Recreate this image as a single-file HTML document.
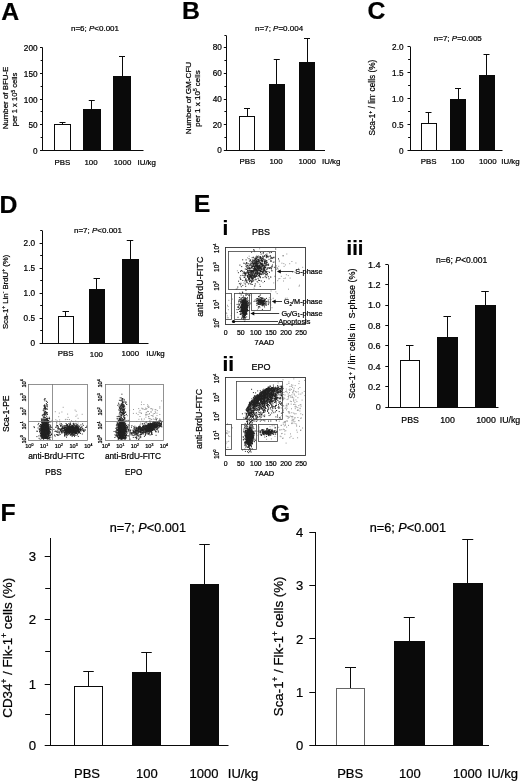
<!DOCTYPE html>
<html><head><meta charset="utf-8"><title>Figure</title>
<style>html,body{margin:0;padding:0;background:#fff}svg{display:block;will-change:transform}text{font-family:"Liberation Sans",sans-serif;fill:#000;stroke:#000;stroke-width:.22px}</style>
</head><body>
<svg width="520" height="782" viewBox="0 0 520 782">
<rect width="520" height="782" fill="#fff"/>
<g><path stroke="#999" stroke-width="1" fill="none" d="M76.9 426.1h1M41.0 421.7h1M81.7 414.3h1M51.5 420.4h1M71.0 420.7h1M58.2 416.7h1M69.8 422.7h1M62.7 407.3h1M77.6 418.3h1M67.1 414.1h1M74.6 410.1h1M69.0 419.6h1M70.7 425.5h1M67.2 419.5h1M75.7 411.3h1M65.4 419.3h1M76.6 415.0h1M75.2 420.9h1M54.8 411.7h1M55.3 419.7h1M69.9 422.6h1M75.4 416.3h1M77.6 423.1h1M72.3 421.4h1M56.6 420.8h1M58.8 413.1h1M64.9 419.7h1M67.6 417.4h1M59.1 419.9h1M61.4 412.0h1M159.2 423.4h1M133.0 409.5h1M144.7 422.6h1M145.0 426.1h1M150.5 423.4h1M140.9 413.2h1M155.6 418.3h1M132.9 413.4h1M149.0 418.7h1M142.6 425.2h1M148.8 423.5h1M150.8 415.5h1M145.1 408.2h1M154.4 419.4h1M155.0 412.8h1M139.7 412.8h1M145.2 414.9h1M155.4 409.7h1M143.8 419.0h1M154.7 427.9h1M151.8 410.1h1M139.5 410.4h1M148.2 416.5h1M147.1 411.4h1M146.2 414.6h1M152.3 415.5h1M141.3 408.2h1M159.3 414.5h1M146.3 414.9h1M156.5 413.2h1M149.0 413.6h1M152.2 409.1h1M149.2 421.0h1M156.9 418.6h1M150.0 424.2h1M153.2 423.1h1M138.2 408.6h1M153.9 413.5h1M144.3 409.5h1M159.3 408.1h1M148.5 406.9h1M146.3 428.1h1M139.7 424.5h1M140.9 404.6h1M150.4 408.7h1M136.3 421.5h1M141.9 408.8h1M149.0 413.9h1M156.5 415.6h1M160.1 421.6h1M161.6 421.5h1M148.2 418.2h1M147.8 406.0h1M138.4 419.3h1M129.1 410.2h1M137.6 414.6h1M139.5 416.5h1M146.1 412.3h1M141.0 402.1h1M148.2 407.5h1M145.4 417.2h1M155.9 419.1h1M159.3 406.8h1M153.0 424.1h1M150.8 408.6h1M150.8 412.0h1M142.6 421.2h1M146.3 408.5h1M142.4 426.4h1M141.1 418.9h1M149.1 421.8h1M145.5 409.5h1M142.7 409.0h1M145.2 422.3h1M152.8 414.0h1M152.5 416.6h1M156.5 424.6h1M145.2 414.8h1M146.3 422.1h1M150.7 419.6h1M154.7 411.3h1M148.7 423.1h1M154.9 419.7h1M145.5 412.9h1M141.0 413.4h1M147.2 406.7h1M156.8 410.6h1M149.6 418.5h1M143.4 404.5h1M155.2 417.4h1M145.7 421.6h1M154.7 409.5h1M147.1 404.8h1M145.6 423.2h1M141.1 419.8h1M135.9 413.3h1M155.0 425.0h1M151.2 419.4h1M161.1 400.9h1M134.3 426.0h1M148.2 416.5h1M147.9 411.5h1M147.6 414.3h1M152.9 419.0h1M155.3 418.4h1M140.1 423.1h1M126.8 415.7h1M150.3 411.9h1M138.6 412.1h1M150.9 419.6h1M277.7 269.1h1M264.1 256.3h1M239.9 278.4h1M267.6 267.8h1M257.5 282.6h1M249.2 282.3h1M265.8 261.1h1M258.8 270.2h1M263.3 258.6h1M255.2 271.0h1M257.8 269.6h1M260.0 266.9h1M252.6 280.7h1M251.2 268.4h1M248.9 261.3h1M262.0 267.8h1M256.2 274.2h1M255.8 276.4h1M275.4 267.4h1M254.9 285.9h1M264.5 251.7h1M270.7 267.5h1M265.9 256.1h1M249.2 265.9h1M263.0 257.3h1M250.6 280.6h1M251.2 272.5h1M248.7 256.2h1M256.7 268.6h1M243.4 282.9h1M265.6 275.4h1M252.5 260.2h1M256.7 271.3h1M255.8 264.5h1M247.7 265.5h1M256.7 265.2h1M273.9 262.0h1M262.0 263.8h1M255.7 260.9h1M252.8 256.9h1M237.1 288.2h1M247.2 276.7h1M256.3 264.5h1M264.7 262.1h1M261.8 264.8h1M267.1 275.6h1M258.2 279.6h1M262.5 282.6h1M256.3 255.4h1M259.6 271.1h1M254.0 268.6h1M254.9 258.6h1M274.4 257.2h1M247.0 257.8h1M249.3 271.6h1M272.0 270.8h1M250.4 260.0h1M246.6 272.0h1M266.0 262.4h1M273.2 282.9h1M259.1 248.8h1M268.2 265.4h1M264.1 276.8h1M247.7 273.0h1M259.3 261.9h1M264.3 266.2h1M253.6 288.2h1M259.2 284.3h1M256.0 279.6h1M250.2 273.1h1M262.8 265.4h1M268.2 268.0h1M256.8 257.7h1M286.3 254.0h1M254.4 263.7h1M254.6 272.4h1M244.4 283.3h1M255.0 275.9h1M236.9 270.8h1M254.6 266.7h1M261.7 303.6h1M268.0 300.8h1M270.6 291.0h1M271.5 307.7h1M270.0 303.4h1M263.0 298.2h1M268.8 297.6h1M257.1 302.6h1M262.7 304.0h1M255.1 301.1h1M264.1 307.6h1M265.6 304.3h1M260.0 300.2h1M258.6 302.2h1M264.3 300.4h1M272.7 298.3h1M265.9 301.7h1M260.7 300.9h1M269.9 301.3h1M264.5 303.1h1M265.6 305.1h1M270.5 299.4h1M256.9 309.8h1M268.4 302.9h1M259.9 303.6h1M268.6 299.3h1M269.4 302.3h1M259.5 300.9h1M250.0 303.9h1M254.2 300.2h1M256.5 303.6h1M265.4 302.7h1M262.5 304.3h1M270.3 305.0h1M270.1 302.3h1M263.4 299.8h1M264.7 298.9h1M264.0 299.9h1M259.5 307.7h1M262.3 305.9h1M260.1 294.6h1M269.5 301.8h1M257.9 306.6h1M255.2 299.4h1M267.7 299.6h1M267.6 301.3h1M260.3 302.9h1M258.7 307.1h1M267.5 302.9h1M264.8 304.9h1M231.9 299.1h1M230.6 315.6h1M227.9 309.7h1M227.8 317.8h1M226.2 313.6h1M231.1 313.4h1M227.6 306.6h1M230.7 303.4h1M225.2 308.0h1M225.5 312.6h1M226.8 315.9h1M228.3 300.3h1M227.0 305.3h1M226.8 317.8h1M274.4 276.2h1M278.2 278.9h1M270.6 252.5h1M288.0 289.2h1M271.0 267.9h1M278.8 260.3h1M292.1 272.3h1M271.0 269.1h1M295.4 263.0h1M278.8 261.6h1M284.9 264.9h1M291.4 261.5h1M270.3 277.2h1M254.9 260.1h1M285.9 274.7h1M278.2 266.3h1M288.1 317.3h1M276.2 269.5h1M279.3 278.5h1M283.5 278.5h1M298.1 268.4h1M280.8 276.3h1M302.2 267.3h1M298.6 286.2h1M258.8 259.6h1M274.6 276.6h1M295.3 272.4h1M284.9 298.3h1M286.6 298.1h1M275.4 291.9h1M276.0 265.9h1M283.0 281.0h1M289.6 278.1h1M276.7 293.6h1M294.2 272.2h1M278.3 271.1h1M281.4 263.2h1M283.3 263.6h1M289.2 263.7h1M287.8 275.6h1M284.9 278.1h1M274.2 303.3h1M277.2 280.7h1M283.6 266.4h1M299.0 285.2h1M271.7 425.8h1M267.9 430.8h1M267.6 435.1h1M270.9 438.9h1M273.3 433.9h1M271.5 433.9h1M270.9 430.9h1M281.1 433.7h1M267.8 434.9h1M274.5 436.4h1M275.2 434.4h1M269.3 431.6h1M266.1 432.5h1M281.6 433.4h1M274.0 432.1h1M271.6 431.4h1M259.4 434.1h1M252.7 427.3h1M256.5 435.3h1M269.1 435.6h1M276.9 431.6h1M258.7 427.1h1M280.7 425.4h1M276.1 432.3h1M275.7 430.2h1M270.2 434.7h1M274.5 427.4h1M266.2 433.4h1M268.9 434.7h1M267.2 431.8h1M260.3 430.5h1M269.5 426.7h1M269.8 429.3h1M271.9 429.3h1M264.2 436.2h1M279.7 436.2h1M273.7 425.8h1M267.4 433.9h1M271.3 434.4h1M266.0 429.5h1M258.5 429.0h1M278.2 427.3h1M264.3 437.4h1M279.2 429.9h1M277.0 434.2h1M268.3 431.8h1M266.1 439.3h1M254.0 433.3h1M274.3 428.1h1M265.2 431.1h1M227.4 432.0h1M225.8 433.6h1M227.0 423.9h1M231.8 427.8h1M228.7 431.9h1M228.0 435.9h1M227.2 433.7h1M229.3 436.4h1M228.2 441.3h1M225.3 443.1h1M226.5 430.7h1M226.5 441.9h1M225.7 449.5h1M225.4 443.7h1M226.0 432.8h1M227.4 447.4h1M293.2 413.1h1M301.7 392.9h1M289.0 392.6h1M287.7 396.5h1M294.4 421.4h1M293.6 404.3h1M289.4 390.5h1M287.6 418.3h1M299.4 387.5h1M300.3 418.5h1M278.2 392.6h1M297.3 409.8h1M297.3 407.6h1M285.7 405.4h1M286.5 420.5h1M300.3 394.1h1M281.2 408.0h1M285.8 389.0h1M292.4 419.6h1M291.4 394.9h1M285.1 391.6h1M283.5 392.4h1M303.8 391.4h1M298.1 420.5h1M291.0 384.9h1M286.5 405.9h1M287.8 411.7h1M296.1 426.1h1M277.6 382.9h1M275.9 398.8h1M295.4 399.9h1M283.6 398.0h1M298.3 394.1h1M292.9 391.1h1M288.5 412.9h1M288.4 395.4h1M293.3 404.5h1M299.0 426.3h1M295.9 392.1h1M286.2 405.8h1M288.1 397.8h1M300.6 406.2h1M304.4 395.6h1M290.1 397.0h1M286.0 409.8h1M301.6 400.1h1M290.9 386.3h1M292.4 392.9h1M289.5 389.0h1M293.1 400.1h1M293.0 421.0h1M294.9 391.6h1M294.7 385.6h1M287.9 404.4h1M289.2 413.0h1M293.3 401.2h1M289.6 395.5h1M295.5 413.7h1M282.7 412.2h1M291.8 423.0h1M298.3 405.6h1M291.0 408.8h1M286.6 399.6h1M291.3 412.7h1M293.6 388.2h1M288.4 381.9h1M289.4 386.4h1M284.3 431.1h1M295.2 404.9h1M297.8 410.2h1M304.1 380.4h1M293.3 419.4h1M288.3 416.8h1M295.4 396.2h1M289.9 401.2h1M296.9 410.5h1M290.9 401.6h1M293.1 399.9h1M293.3 390.1h1M285.0 421.4h1M299.7 404.8h1M298.6 420.8h1M292.1 392.2h1M293.7 394.0h1M294.8 408.7h1M279.6 418.3h1M291.2 416.5h1M280.2 395.6h1M294.2 413.9h1M302.1 428.0h1M292.3 385.2h1M287.2 416.3h1M288.6 411.8h1M291.6 397.0h1M295.8 406.9h1M296.4 401.6h1M286.6 408.3h1M282.8 405.6h1M297.1 437.8h1M286.5 384.4h1M288.5 417.5h1M285.7 415.9h1M284.5 395.0h1M291.4 423.6h1M296.2 430.1h1M278.3 406.8h1M294.4 402.6h1M299.6 408.2h1M299.4 411.0h1M294.5 406.7h1M282.5 379.7h1M291.9 397.1h1M277.7 394.0h1M296.8 432.2h1M298.7 381.3h1M287.7 394.0h1M295.3 406.8h1M292.0 387.3h1M297.9 388.8h1M291.7 397.6h1M297.4 397.7h1M288.3 411.9h1M283.2 406.0h1M291.6 420.2h1M287.9 403.5h1M293.9 395.0h1M288.1 396.4h1M293.2 390.9h1M288.6 389.6h1M286.0 391.1h1M282.6 409.2h1M293.2 398.0h1M299.6 408.7h1M293.3 378.9h1M290.9 389.4h1M284.3 398.7h1M300.3 413.8h1M300.3 404.6h1M285.5 407.3h1M298.4 383.6h1M286.6 392.3h1M288.4 383.5h1M292.3 416.7h1M300.3 430.0h1M284.7 408.5h1M297.7 391.8h1M290.7 404.1h1M286.4 404.1h1M283.1 394.6h1M287.6 399.0h1M294.7 417.8h1M290.5 436.3h1M283.8 425.9h1M278.8 421.2h1M278.1 419.3h1M280.5 436.7h1M288.0 425.4h1M286.6 421.5h1M282.8 422.8h1M282.9 429.2h1M282.8 424.3h1M280.2 418.3h1M285.6 443.1h1M284.8 425.0h1M293.6 423.1h1M275.7 420.3h1M291.7 416.4h1M300.7 417.8h1M295.4 423.7h1M283.8 429.6h1M279.9 417.0h1M284.8 423.0h1M285.3 430.7h1M286.7 416.6h1M282.7 410.5h1M281.3 415.7h1M284.3 434.2h1M293.9 418.0h1M282.6 438.1h1M279.6 429.9h1M281.3 429.7h1M291.6 417.9h1M297.4 417.5h1M300.1 430.5h1M291.2 423.2h1M289.8 416.1h1M283.8 421.8h1M291.6 420.9h1M284.9 425.0h1M292.6 438.4h1M282.1 438.4h1M290.0 433.9h1M276.8 427.8h1M296.1 425.0h1M280.8 425.3h1M284.1 422.0h1M286.1 427.1h1M284.5 422.3h1M302.1 414.7h1M289.3 437.7h1"/><path stroke="#222" stroke-width="1" fill="none" d="M44.1 432.9h1M44.2 429.1h1M42.8 429.5h1M46.9 432.5h1M46.7 431.6h1M45.4 431.4h1M41.3 434.4h1M45.7 432.8h1M41.3 422.5h1M42.9 428.3h1M45.3 430.3h1M45.7 427.5h1M45.3 432.3h1M43.3 438.4h1M45.8 436.0h1M43.4 427.1h1M44.0 430.0h1M45.9 431.6h1M43.8 426.1h1M43.6 436.1h1M43.0 431.6h1M45.5 423.6h1M44.7 436.5h1M40.6 429.0h1M44.4 426.7h1M45.6 430.2h1M41.7 434.3h1M46.0 434.9h1M47.5 432.2h1M44.9 424.5h1M45.9 427.7h1M43.7 424.7h1M42.7 428.1h1M47.2 421.2h1M41.7 431.6h1M47.5 433.2h1M40.9 418.9h1M45.4 427.1h1M42.4 435.0h1M46.9 431.2h1M45.1 432.5h1M47.8 433.3h1M45.7 433.0h1M41.5 436.4h1M46.6 432.9h1M40.7 427.6h1M46.3 422.2h1M44.3 435.2h1M42.0 437.9h1M45.8 429.8h1M45.3 433.5h1M44.9 435.8h1M43.3 428.6h1M46.7 430.6h1M42.9 434.9h1M47.6 428.5h1M41.9 429.9h1M44.4 429.1h1M47.5 425.8h1M47.2 424.7h1M43.1 433.4h1M46.9 434.5h1M45.3 431.2h1M45.0 433.1h1M44.3 431.8h1M45.8 430.5h1M46.2 433.1h1M48.7 432.0h1M43.8 428.8h1M44.6 434.7h1M44.0 432.3h1M48.3 418.7h1M42.4 431.6h1M45.4 431.6h1M43.8 433.5h1M45.2 428.1h1M49.5 432.1h1M43.5 430.0h1M44.2 430.2h1M39.2 428.3h1M46.7 425.1h1M44.5 434.9h1M46.4 437.4h1M41.2 428.9h1M44.0 433.4h1M46.8 418.2h1M46.8 423.8h1M46.0 423.6h1M45.0 436.0h1M44.4 431.4h1M46.2 431.2h1M44.5 437.6h1M46.7 429.1h1M50.1 425.2h1M46.5 429.3h1M44.9 433.7h1M45.1 433.4h1M41.6 423.6h1M45.9 426.1h1M42.6 423.7h1M47.2 433.9h1M47.6 426.2h1M44.7 425.3h1M46.2 437.8h1M42.9 437.7h1M46.6 429.7h1M40.7 437.0h1M44.5 427.7h1M45.4 432.4h1M47.6 425.8h1M46.9 437.3h1M47.6 429.7h1M43.2 435.2h1M44.9 431.1h1M47.5 429.3h1M40.1 428.7h1M40.9 434.3h1M45.3 427.7h1M44.6 434.3h1M44.8 436.6h1M44.5 435.3h1M47.6 437.9h1M43.3 434.5h1M40.9 425.5h1M40.7 435.4h1M42.2 430.4h1M44.3 430.4h1M43.5 431.6h1M48.2 430.7h1M45.7 435.1h1M44.3 424.7h1M43.5 435.4h1M41.4 427.7h1M46.7 434.1h1M44.7 434.2h1M45.0 425.1h1M41.5 427.6h1M46.5 427.9h1M42.8 427.0h1M41.6 430.0h1M42.3 432.2h1M39.9 432.0h1M43.4 421.6h1M46.1 429.2h1M40.2 426.5h1M45.2 428.4h1M46.2 433.9h1M46.0 432.0h1M47.3 433.5h1M45.6 420.9h1M46.4 436.5h1M44.1 428.3h1M48.5 422.4h1M42.8 433.7h1M48.4 429.9h1M45.8 434.7h1M42.8 430.1h1M45.2 434.3h1M44.6 429.6h1M42.6 428.8h1M46.4 431.0h1M42.9 426.6h1M50.0 435.7h1M45.9 418.6h1M45.9 432.7h1M48.0 432.5h1M44.5 432.9h1M40.8 435.3h1M45.3 427.3h1M47.3 438.8h1M41.8 427.4h1M45.2 431.3h1M43.9 426.0h1M48.9 435.3h1M42.3 424.3h1M48.1 435.1h1M48.3 434.2h1M42.9 431.7h1M40.3 427.1h1M44.5 432.9h1M43.2 429.9h1M45.6 432.2h1M45.9 431.5h1M44.0 434.1h1M44.7 426.7h1M43.4 430.5h1M44.4 431.2h1M44.6 431.3h1M44.4 424.7h1M45.5 435.3h1M45.5 429.6h1M45.5 426.1h1M40.9 430.8h1M42.8 433.9h1M42.5 418.4h1M42.6 437.8h1M43.9 424.2h1M43.1 432.9h1M45.6 431.3h1M47.6 433.7h1M44.6 433.2h1M48.0 435.0h1M46.7 425.5h1M44.4 433.9h1M44.1 435.4h1M45.8 434.7h1M47.1 429.5h1M44.0 434.5h1M46.6 430.5h1M42.3 431.4h1M45.4 435.7h1M46.2 430.6h1M46.4 433.0h1M45.1 430.8h1M44.2 433.7h1M42.5 427.6h1M44.7 423.8h1M43.8 421.3h1M43.3 433.1h1M45.8 430.2h1M44.2 424.0h1M48.3 432.9h1M46.8 426.4h1M44.3 422.1h1M46.2 434.8h1M40.9 430.3h1M45.9 422.4h1M41.0 425.6h1M43.4 424.0h1M44.7 431.6h1M45.9 433.7h1M47.7 435.9h1M42.0 428.2h1M42.5 425.5h1M44.5 430.5h1M45.6 423.2h1M42.2 430.4h1M44.3 429.1h1M44.5 427.0h1M46.1 432.1h1M44.5 427.4h1M44.3 418.0h1M42.7 430.7h1M41.6 431.4h1M44.9 424.2h1M44.1 429.1h1M45.6 433.3h1M44.6 426.6h1M44.4 430.2h1M46.1 431.9h1M43.2 424.3h1M43.9 427.1h1M42.4 430.0h1M43.7 431.0h1M45.7 428.6h1M49.3 429.0h1M46.9 431.1h1M46.9 419.6h1M43.1 431.6h1M45.3 436.4h1M46.2 434.9h1M45.7 429.8h1M45.7 425.5h1M47.0 425.8h1M44.2 430.6h1M47.0 430.6h1M43.0 431.7h1M45.8 433.8h1M43.1 438.6h1M48.0 430.6h1M45.2 428.5h1M47.5 427.3h1M46.0 428.3h1M43.3 433.8h1M47.3 430.5h1M43.3 434.2h1M44.6 431.9h1M47.7 435.7h1M44.7 434.1h1M43.4 430.3h1M41.2 438.7h1M47.4 424.9h1M41.6 423.0h1M47.0 428.4h1M44.5 429.1h1M44.4 425.5h1M44.7 423.9h1M44.5 431.9h1M45.6 429.4h1M42.8 431.2h1M43.7 437.7h1M46.2 430.0h1M43.7 427.3h1M42.8 428.9h1M45.2 432.9h1M43.2 430.6h1M50.2 421.9h1M43.6 431.3h1M45.0 432.4h1M44.2 432.2h1M44.8 434.0h1M40.9 426.4h1M44.6 425.8h1M42.6 433.4h1M43.4 433.4h1M46.1 431.9h1M45.7 430.0h1M41.8 430.4h1M45.6 428.1h1M44.5 433.9h1M42.9 433.4h1M48.4 427.9h1M44.9 429.8h1M47.7 432.0h1M46.4 427.3h1M44.6 430.5h1M41.1 437.1h1M46.4 422.5h1M46.1 429.9h1M45.5 432.2h1M41.7 429.5h1M47.6 427.9h1M42.6 424.2h1M42.2 432.0h1M48.0 432.5h1M43.6 427.4h1M45.7 433.0h1M42.6 425.1h1M45.2 431.6h1M42.0 429.6h1M43.6 432.6h1M44.4 430.1h1M43.9 435.3h1M47.4 428.8h1M46.3 427.0h1M44.8 433.9h1M47.7 428.7h1M44.5 431.4h1M41.7 430.6h1M43.3 432.2h1M42.4 421.4h1M44.7 431.7h1M43.6 434.6h1M44.1 427.7h1M45.6 423.3h1M43.3 430.4h1M46.3 429.8h1M45.3 427.5h1M45.3 438.2h1M43.4 430.6h1M45.0 435.2h1M42.2 420.8h1M45.9 434.2h1M45.1 431.7h1M46.5 432.2h1M48.0 424.8h1M43.9 414.7h1M46.3 428.8h1M44.6 429.3h1M43.7 426.6h1M43.4 433.4h1M44.7 430.8h1M44.3 434.7h1M45.6 429.8h1M46.0 429.8h1M42.3 437.2h1M45.6 426.1h1M46.8 432.1h1M41.5 437.9h1M45.3 434.6h1M45.0 429.8h1M41.6 435.0h1M44.7 429.2h1M45.4 430.9h1M46.0 428.8h1M44.6 420.7h1M43.8 433.6h1M47.3 428.8h1M44.4 437.8h1M44.0 433.9h1M48.0 430.7h1M47.1 427.2h1M45.1 430.1h1M44.9 435.7h1M49.4 427.4h1M43.5 432.8h1M42.5 432.8h1M45.8 429.2h1M45.7 423.4h1M46.2 423.4h1M43.3 427.9h1M43.8 434.5h1M44.8 428.7h1M45.7 437.8h1M44.7 432.2h1M47.1 431.7h1M49.1 421.4h1M44.6 432.4h1M46.6 433.6h1M44.1 425.7h1M44.9 435.3h1M42.5 425.8h1M44.6 421.6h1M44.1 428.5h1M45.6 427.3h1M42.9 428.7h1M44.6 427.4h1M44.7 434.0h1M47.0 438.3h1M43.1 428.6h1M39.7 439.2h1M43.2 430.3h1M45.7 424.3h1M45.6 430.4h1M41.0 431.8h1M47.0 421.9h1M46.3 431.5h1M45.6 432.5h1M47.3 429.5h1M46.4 428.6h1M46.1 426.8h1M44.4 438.5h1M45.5 429.8h1M42.4 426.9h1M45.0 434.8h1M45.5 432.9h1M44.6 436.7h1M43.9 428.0h1M46.4 430.8h1M44.1 427.8h1M44.1 433.4h1M45.4 424.9h1M45.5 431.3h1M42.6 434.1h1M44.1 429.0h1M46.2 436.6h1M43.3 432.5h1M43.7 436.0h1M43.4 434.2h1M49.1 418.8h1M43.8 432.8h1M44.5 427.4h1M49.0 430.9h1M41.4 434.4h1M41.2 435.8h1M43.5 431.2h1M47.2 431.0h1M41.9 422.7h1M47.0 433.9h1M43.0 434.5h1M45.6 433.5h1M40.1 429.1h1M46.5 433.9h1M46.4 419.2h1M45.0 432.8h1M49.8 426.1h1M44.0 430.7h1M46.4 428.5h1M46.9 426.9h1M45.2 428.1h1M45.0 427.3h1M41.5 435.5h1M45.3 427.9h1M45.1 435.1h1M42.7 430.0h1M45.7 432.9h1M44.0 420.8h1M47.1 432.0h1M44.7 429.2h1M45.2 428.5h1M42.6 427.1h1M43.5 427.7h1M42.3 433.4h1M42.0 433.5h1M42.6 432.1h1M47.4 431.4h1M43.2 430.7h1M44.9 422.5h1M43.4 431.2h1M43.7 430.9h1M46.1 434.0h1M46.5 433.2h1M44.1 430.4h1M44.1 429.1h1M44.3 422.6h1M44.0 430.4h1M42.7 430.4h1M45.7 429.7h1M48.8 418.5h1M44.2 422.1h1M39.6 431.1h1M45.7 429.1h1M45.8 420.2h1M46.4 432.2h1M44.7 427.8h1M45.9 428.3h1M45.1 428.2h1M40.2 430.4h1M45.1 434.0h1M42.9 430.3h1M45.9 431.2h1M42.8 421.7h1M46.4 437.5h1M46.5 434.2h1M43.4 427.2h1M46.4 426.3h1M41.0 425.9h1M49.6 439.3h1M43.3 427.1h1M45.1 427.1h1M47.3 430.1h1M42.5 436.5h1M43.5 431.5h1M44.6 429.1h1M45.3 427.3h1M41.0 420.3h1M42.1 427.0h1M44.6 430.8h1M45.8 431.1h1M43.1 427.2h1M40.4 429.7h1M45.6 432.9h1M44.4 429.7h1M46.5 430.6h1M46.1 433.2h1M45.1 436.5h1M43.5 428.8h1M43.0 426.8h1M47.8 438.6h1M44.7 433.1h1M47.0 434.2h1M47.1 424.7h1M43.4 432.6h1M47.5 431.0h1M42.9 428.9h1M43.3 426.6h1M47.7 427.6h1M47.0 432.0h1M43.4 432.4h1M47.9 433.4h1M47.2 431.0h1M45.7 429.6h1M45.5 436.5h1M41.8 430.2h1M45.1 427.9h1M44.0 434.1h1M48.7 433.4h1M45.3 423.4h1M48.5 430.9h1M44.6 425.4h1M44.5 425.5h1M44.8 432.6h1M44.7 431.8h1M42.9 437.1h1M43.3 422.1h1M44.3 427.0h1M42.6 428.9h1M45.2 425.1h1M44.4 437.1h1M46.0 429.8h1M44.9 429.9h1M44.6 433.9h1M44.5 419.4h1M44.6 426.4h1M46.0 427.7h1M42.6 425.3h1M41.8 419.5h1M40.9 432.2h1M43.4 421.9h1M41.7 433.3h1M43.1 428.8h1M45.3 436.7h1M48.5 435.2h1M44.9 431.3h1M48.3 437.1h1M44.0 432.6h1M45.2 430.7h1M43.6 424.4h1M43.6 423.4h1M47.1 433.0h1M42.2 436.9h1M46.4 421.7h1M48.3 434.2h1M48.8 424.8h1M45.7 432.4h1M45.1 431.3h1M46.8 423.6h1M42.2 424.1h1M43.5 427.7h1M45.4 431.7h1M44.7 427.4h1M43.8 434.9h1M46.2 431.0h1M44.0 437.6h1M43.5 433.5h1M47.0 429.3h1M46.3 425.4h1M46.7 431.4h1M41.5 433.6h1M42.9 436.4h1M43.3 429.7h1M45.2 429.0h1M45.2 428.0h1M46.0 430.5h1M45.1 417.8h1M47.0 430.6h1M41.1 430.9h1M45.6 435.4h1M42.5 437.6h1M44.4 433.6h1M43.9 425.4h1M46.8 434.7h1M47.7 434.4h1M43.5 422.9h1M43.3 427.4h1M43.0 433.2h1M45.3 429.3h1M45.0 429.8h1M45.1 434.0h1M46.6 427.3h1M41.6 437.1h1M44.9 435.6h1M41.4 429.0h1M44.7 423.9h1M43.6 433.8h1M46.8 437.8h1M42.9 424.1h1M45.7 434.8h1M45.0 424.5h1M46.2 434.1h1M45.8 428.3h1M45.3 434.1h1M43.5 422.0h1M45.3 432.7h1M44.7 434.6h1M43.5 430.1h1M44.0 433.1h1M47.8 429.3h1M48.8 437.5h1M46.2 433.2h1M48.2 429.7h1M44.4 425.6h1M45.6 436.7h1M45.7 432.4h1M44.2 431.3h1M41.8 435.3h1M43.8 425.4h1M43.1 426.7h1M46.4 435.4h1M41.9 434.8h1M46.4 427.8h1M41.7 427.1h1M43.4 432.1h1M43.9 421.2h1M45.1 423.4h1M46.5 424.9h1M43.3 426.6h1M43.6 436.5h1M46.4 433.3h1M45.3 423.4h1M43.6 428.0h1M42.7 432.8h1M43.2 427.2h1M42.6 421.0h1M45.8 436.6h1M45.0 426.0h1M39.2 431.3h1M47.1 431.9h1M46.5 437.3h1M46.9 428.5h1M46.8 434.1h1M41.6 428.6h1M41.8 430.0h1M45.8 425.6h1M40.5 436.5h1M45.4 437.3h1M42.0 435.4h1M44.2 431.7h1M44.3 435.1h1M46.7 430.9h1M41.9 433.9h1M43.7 433.4h1M45.2 438.0h1M46.9 428.4h1M45.3 438.6h1M43.6 432.5h1M47.0 436.3h1M45.7 424.4h1M42.1 431.6h1M42.9 435.7h1M46.2 422.8h1M43.0 431.3h1M43.7 429.8h1M45.6 426.8h1M45.6 427.6h1M43.6 433.0h1M43.5 431.8h1M47.8 430.6h1M44.4 433.9h1M43.9 435.5h1M42.1 433.3h1M43.6 426.8h1M48.2 426.6h1M48.2 433.5h1M47.6 426.0h1M47.0 437.2h1M44.4 429.9h1M49.6 431.3h1M43.8 427.6h1M45.5 432.0h1M45.0 438.4h1M44.0 432.7h1M47.6 425.9h1M46.7 438.9h1M41.9 425.5h1M42.6 422.0h1M45.6 422.0h1M45.6 437.2h1M41.4 429.0h1M40.8 434.1h1M43.2 429.3h1M44.8 433.0h1M44.0 430.6h1M43.6 431.0h1M42.3 430.8h1M40.8 428.2h1M48.5 430.9h1M42.1 431.7h1M42.7 422.9h1M43.2 433.9h1M45.4 430.1h1M42.8 425.5h1M47.3 431.6h1M42.7 420.8h1M42.4 430.1h1M45.1 429.8h1M44.1 424.2h1M42.5 438.3h1M43.1 434.4h1M41.3 429.2h1M45.2 435.3h1M42.4 433.2h1M45.4 427.1h1M45.6 426.4h1M43.1 430.4h1M39.2 430.0h1M42.6 423.8h1M43.8 434.0h1M43.8 436.3h1M42.3 424.5h1M47.8 432.3h1M46.5 426.7h1M46.3 431.7h1M45.9 430.6h1M47.1 427.5h1M42.7 423.7h1M47.0 427.1h1M42.6 426.2h1M43.8 424.7h1M44.1 427.6h1M43.5 426.1h1M44.7 428.4h1M44.9 431.6h1M45.3 420.4h1M43.6 426.8h1M46.2 423.2h1M43.2 429.1h1M44.0 435.1h1M43.8 434.9h1M41.7 422.2h1M47.1 432.5h1M45.6 431.1h1M45.6 424.9h1M46.5 428.1h1M46.6 430.9h1M40.7 424.6h1M46.9 429.9h1M43.9 431.6h1M43.8 428.0h1M44.9 431.2h1M47.7 430.7h1M48.4 438.8h1M48.1 435.4h1M44.9 431.1h1M44.4 427.1h1M44.5 427.6h1M47.9 433.0h1M43.8 421.7h1M44.5 428.6h1M42.5 425.3h1M40.1 433.1h1M44.6 429.8h1M47.5 431.1h1M45.0 428.8h1M43.4 437.4h1M46.7 438.4h1M44.0 430.6h1M42.9 434.9h1M41.9 433.1h1M46.8 437.0h1M42.8 435.5h1M43.2 427.0h1M42.0 435.8h1M47.9 427.8h1M43.1 428.9h1M49.7 435.1h1M43.6 422.2h1M43.3 436.0h1M48.4 429.3h1M43.3 428.2h1M40.9 434.7h1M42.5 435.4h1M41.2 424.7h1M45.2 427.0h1M46.2 430.5h1M42.3 433.4h1M46.3 421.7h1M48.3 432.8h1M46.2 421.9h1M43.2 428.9h1M46.8 423.8h1M42.9 421.2h1M44.2 432.1h1M41.3 427.8h1M45.7 437.8h1M46.0 429.1h1M42.3 426.2h1M43.3 431.2h1M44.6 438.2h1M45.2 425.6h1M47.7 434.9h1M44.9 427.2h1M40.9 425.8h1M46.5 426.8h1M42.0 431.4h1M45.1 433.3h1M46.0 437.0h1M43.0 435.0h1M42.7 433.7h1M45.0 431.6h1M46.6 430.4h1M46.9 434.5h1M44.9 427.9h1M43.1 428.1h1M44.2 430.4h1M50.6 433.4h1M46.2 426.5h1M43.2 429.0h1M45.0 425.7h1M47.9 427.9h1M46.8 419.8h1M44.6 431.8h1M45.0 433.3h1M45.2 431.2h1M40.9 427.2h1M40.0 433.4h1M45.3 429.6h1M43.0 427.8h1M48.3 438.5h1M44.5 436.4h1M41.5 421.6h1M43.7 426.5h1M43.5 431.4h1M50.7 427.5h1M44.7 431.8h1M44.6 434.8h1M48.2 424.8h1M45.0 429.3h1M45.4 423.5h1M41.1 419.8h1M45.7 431.4h1M44.8 419.6h1M43.9 427.0h1M41.8 426.3h1M46.0 433.0h1M44.6 432.9h1M43.4 430.8h1M44.7 433.1h1M44.5 429.8h1M44.4 427.5h1M49.1 432.9h1M47.5 423.3h1M46.0 434.4h1M48.4 436.6h1M46.2 425.1h1M42.9 431.7h1M45.7 425.8h1M43.9 428.7h1M44.8 432.0h1M44.1 424.8h1M47.1 437.8h1M44.4 435.2h1M45.5 433.5h1M45.6 427.0h1M45.8 435.1h1M48.8 438.9h1M48.6 433.9h1M44.0 427.7h1M43.0 431.0h1M44.6 433.6h1M51.9 430.9h1M46.8 433.4h1M45.5 430.0h1M44.3 426.9h1M45.2 430.9h1M45.7 426.7h1M44.8 431.2h1M46.6 425.7h1M46.0 435.9h1M46.6 429.2h1M43.1 429.8h1M47.0 438.8h1M44.1 427.8h1M45.9 432.0h1M41.7 427.3h1M44.3 434.4h1M40.8 425.9h1M46.2 424.9h1M45.0 432.8h1M44.3 425.9h1M44.5 429.3h1M45.7 426.8h1M48.1 422.6h1M44.1 431.0h1M47.7 428.0h1M46.4 428.2h1M43.4 433.2h1M41.7 435.9h1M48.5 431.2h1M41.0 433.0h1M48.3 436.4h1M47.3 421.8h1M42.5 438.1h1M40.7 436.7h1M50.7 434.8h1M48.2 429.3h1M40.7 430.5h1M44.0 430.8h1M46.9 430.3h1M45.3 433.1h1M46.1 431.4h1M44.0 427.9h1M49.0 431.8h1M41.2 428.2h1M44.2 428.8h1M48.1 425.2h1M46.2 431.7h1M40.9 431.2h1M44.3 433.5h1M43.2 432.5h1M39.3 425.6h1M47.2 436.2h1M44.6 428.0h1M48.1 420.5h1M42.1 434.4h1M46.7 425.8h1M38.6 438.3h1M45.1 426.5h1M44.8 435.5h1M36.4 436.6h1M47.0 420.6h1M47.1 422.1h1M48.3 433.0h1M51.9 427.9h1M44.7 436.2h1M42.6 427.5h1M43.5 430.6h1M41.2 433.4h1M46.4 431.4h1M50.1 429.4h1M48.8 428.3h1M47.1 421.3h1M45.3 430.1h1M43.1 427.9h1M43.5 427.4h1M37.6 428.0h1M42.9 428.4h1M41.3 430.3h1M47.2 429.7h1M43.1 437.8h1M47.8 435.6h1M48.3 429.4h1M44.2 436.6h1M42.9 430.4h1M45.9 432.9h1M43.8 435.9h1M44.1 434.6h1M48.1 434.3h1M47.0 425.2h1M40.5 427.9h1M46.2 438.5h1M40.7 432.5h1M41.9 427.3h1M43.8 434.5h1M45.3 436.9h1M41.5 435.4h1M47.6 431.3h1M46.2 428.2h1M41.2 429.0h1M43.1 439.3h1M45.3 432.6h1M47.0 427.1h1M47.6 432.9h1M39.8 434.0h1M46.4 433.3h1M49.7 428.9h1M46.3 434.7h1M41.8 437.0h1M40.0 424.5h1M46.3 425.6h1M44.3 422.8h1M44.9 425.3h1M45.7 423.3h1M46.1 429.7h1M44.9 430.7h1M45.1 424.4h1M36.4 431.2h1M41.7 428.7h1M46.0 421.1h1M42.2 427.9h1M41.3 432.6h1M44.2 426.9h1M41.5 435.0h1M42.5 433.9h1M46.1 421.5h1M41.2 431.0h1M45.7 434.9h1M47.2 436.2h1M43.5 429.9h1M47.1 428.9h1M48.0 423.1h1M46.7 430.1h1M38.4 435.9h1M45.6 431.1h1M41.2 428.7h1M49.5 426.9h1M33.5 426.7h1M40.8 430.3h1M43.4 426.4h1M42.0 436.2h1M42.9 425.5h1M47.2 433.8h1M41.3 434.7h1M38.8 426.4h1M48.3 429.7h1M40.5 433.6h1M47.6 430.9h1M38.9 429.3h1M46.0 434.8h1M50.6 429.7h1M43.1 430.8h1M48.5 426.3h1M48.8 417.3h1M47.2 427.6h1M46.1 434.4h1M40.9 430.6h1M45.4 433.9h1M41.7 426.0h1M44.0 429.9h1M39.9 435.6h1M42.9 438.2h1M47.4 431.1h1M47.0 425.4h1M43.6 428.1h1M40.6 431.1h1M44.2 438.2h1M33.9 427.6h1M41.7 428.7h1M46.0 433.0h1M44.7 428.6h1M46.2 432.8h1M38.8 429.7h1M40.3 425.1h1M45.1 431.3h1M45.0 426.6h1M44.0 426.4h1M45.9 434.4h1M50.3 437.3h1M42.1 428.7h1M41.6 432.5h1M51.0 434.5h1M37.6 424.7h1M40.5 433.6h1M44.7 432.5h1M50.4 426.9h1M45.7 427.1h1M38.2 423.4h1M36.8 431.3h1M44.8 436.0h1M44.2 427.5h1M39.0 431.9h1M44.7 434.1h1M43.4 433.5h1M47.3 430.3h1M43.2 430.1h1M41.6 430.0h1M43.7 432.1h1M48.9 437.5h1M43.2 434.0h1M45.6 434.8h1M44.7 412.7h1M43.9 405.9h1M46.0 419.4h1M45.7 413.8h1M45.1 408.1h1M41.8 415.3h1M45.0 407.4h1M43.1 419.3h1M41.8 422.5h1M45.7 426.4h1M43.5 410.9h1M43.8 412.0h1M44.3 406.1h1M46.4 405.9h1M43.8 414.6h1M43.8 408.2h1M45.2 408.6h1M42.7 410.3h1M44.3 422.1h1M42.9 417.3h1M43.4 408.7h1M44.1 412.8h1M46.0 422.4h1M43.6 419.6h1M46.2 416.3h1M43.4 416.9h1M44.5 413.3h1M44.2 415.3h1M46.4 418.4h1M44.3 417.5h1M47.0 404.9h1M47.0 402.3h1M45.5 414.9h1M47.0 412.8h1M43.9 405.8h1M42.6 416.0h1M44.3 406.3h1M45.5 406.0h1M44.0 408.0h1M47.3 420.5h1M44.4 400.8h1M45.1 411.5h1M45.2 414.7h1M44.1 417.0h1M46.0 412.4h1M44.0 407.9h1M45.8 403.9h1M44.4 406.1h1M42.4 414.9h1M44.6 411.2h1M46.0 401.3h1M44.5 412.9h1M46.0 403.9h1M45.8 412.4h1M46.8 418.4h1M45.5 425.0h1M44.6 408.2h1M44.1 404.9h1M44.6 398.8h1M44.5 413.8h1M46.2 408.7h1M46.9 406.8h1M44.4 398.8h1M43.4 405.9h1M47.0 414.4h1M42.9 414.4h1M45.4 409.5h1M44.7 409.1h1M43.8 399.7h1M44.5 419.2h1M46.9 409.2h1M43.5 409.7h1M46.1 413.2h1M43.7 413.3h1M44.3 414.3h1M69.0 426.4h1M71.3 431.6h1M65.4 429.5h1M75.5 428.9h1M67.8 434.6h1M75.3 432.2h1M66.3 433.6h1M62.7 428.6h1M74.8 432.9h1M66.3 428.2h1M72.0 425.3h1M74.3 431.1h1M68.8 431.1h1M75.0 430.5h1M73.7 433.3h1M68.6 430.2h1M68.4 432.2h1M69.0 430.9h1M71.7 430.0h1M79.7 429.6h1M78.2 431.7h1M77.7 429.4h1M75.7 431.6h1M68.0 430.4h1M70.4 429.7h1M77.6 428.1h1M62.6 425.8h1M68.8 428.3h1M71.1 431.1h1M79.9 430.5h1M73.4 428.1h1M74.0 432.9h1M77.8 425.3h1M75.5 433.5h1M75.2 426.3h1M69.5 431.2h1M73.1 427.9h1M66.6 432.0h1M64.4 433.1h1M71.2 430.5h1M64.4 428.4h1M74.5 426.4h1M81.4 426.6h1M64.9 429.9h1M73.5 431.5h1M69.2 429.3h1M69.9 428.5h1M58.2 432.0h1M72.3 430.2h1M67.9 430.4h1M71.0 429.6h1M76.6 425.8h1M72.3 427.3h1M69.5 433.3h1M65.6 429.6h1M68.1 432.0h1M66.2 425.9h1M73.6 429.0h1M69.5 432.3h1M66.6 428.9h1M71.8 430.8h1M68.5 432.2h1M82.2 428.9h1M80.4 424.9h1M78.1 429.0h1M71.7 429.0h1M67.9 426.9h1M69.1 432.8h1M76.7 429.0h1M68.4 428.2h1M65.1 434.0h1M74.4 430.1h1M68.6 427.4h1M77.6 431.6h1M66.3 432.1h1M65.5 431.3h1M66.3 428.8h1M73.5 430.8h1M76.1 427.9h1M78.9 432.9h1M71.0 430.9h1M67.2 429.4h1M64.5 430.0h1M72.0 432.9h1M75.8 431.7h1M69.2 429.3h1M69.3 430.3h1M61.4 431.6h1M63.2 428.6h1M71.2 428.6h1M79.4 429.6h1M78.9 432.5h1M68.6 430.7h1M77.5 429.0h1M71.5 428.5h1M71.3 429.0h1M71.5 432.1h1M78.0 430.1h1M72.1 431.8h1M69.6 427.4h1M76.6 427.6h1M75.7 427.6h1M80.2 427.4h1M75.3 433.3h1M66.3 433.2h1M66.9 425.7h1M74.7 431.4h1M70.0 424.0h1M70.8 429.1h1M69.2 429.1h1M62.1 428.5h1M80.0 433.4h1M69.2 428.2h1M73.0 432.2h1M74.7 427.1h1M71.9 430.1h1M78.2 432.6h1M73.7 432.6h1M69.1 433.3h1M68.9 430.7h1M75.6 427.7h1M67.5 425.7h1M71.9 429.7h1M69.4 430.9h1M60.5 429.7h1M71.5 429.2h1M75.0 433.8h1M68.8 427.6h1M68.0 430.0h1M74.0 427.8h1M76.0 427.4h1M75.2 430.8h1M73.4 434.8h1M69.7 429.4h1M73.4 431.8h1M64.4 430.4h1M67.3 431.3h1M77.9 429.9h1M70.5 430.2h1M56.3 431.6h1M73.9 430.2h1M69.1 428.1h1M70.2 432.6h1M70.5 432.9h1M58.2 428.7h1M72.4 429.8h1M62.8 428.3h1M77.3 426.8h1M66.1 427.3h1M68.3 431.3h1M74.0 425.1h1M78.3 428.4h1M68.1 433.6h1M70.6 426.9h1M67.9 428.1h1M66.0 429.0h1M75.4 430.6h1M64.2 436.2h1M66.1 430.1h1M71.2 431.6h1M69.4 430.9h1M81.6 430.0h1M65.6 430.6h1M67.0 428.9h1M72.0 430.6h1M69.6 431.8h1M70.1 426.8h1M75.4 429.0h1M77.1 428.3h1M73.9 430.5h1M57.6 426.4h1M65.5 433.0h1M61.6 431.9h1M76.5 430.9h1M74.4 428.7h1M71.0 430.3h1M73.2 431.4h1M70.0 428.2h1M68.2 430.7h1M62.8 426.9h1M69.0 428.5h1M69.7 423.7h1M69.3 429.2h1M74.9 425.2h1M69.5 430.9h1M73.5 432.6h1M76.3 427.4h1M74.2 429.0h1M67.0 433.3h1M67.9 427.8h1M69.0 427.8h1M76.1 430.7h1M78.1 430.7h1M68.0 432.2h1M67.8 428.7h1M70.2 429.9h1M77.0 428.4h1M72.8 429.7h1M64.8 427.3h1M70.0 430.7h1M72.7 430.9h1M71.3 428.8h1M73.2 427.5h1M64.3 429.0h1M63.9 428.6h1M67.3 428.5h1M70.8 427.9h1M68.9 425.8h1M71.8 427.8h1M73.1 423.3h1M67.0 430.4h1M58.8 429.0h1M71.5 430.0h1M63.5 430.3h1M71.8 427.5h1M74.8 429.7h1M71.1 428.8h1M73.8 430.0h1M76.8 430.8h1M68.0 429.3h1M75.7 429.0h1M73.0 431.0h1M70.1 424.4h1M71.7 430.3h1M71.7 428.0h1M77.1 429.5h1M67.9 428.1h1M72.9 427.3h1M66.0 434.4h1M77.6 432.2h1M77.9 431.2h1M62.6 432.6h1M77.3 430.9h1M61.2 432.7h1M77.9 428.7h1M71.7 431.6h1M70.6 432.4h1M71.5 431.4h1M71.5 426.4h1M66.0 437.2h1M72.5 432.8h1M76.8 433.8h1M73.8 428.4h1M71.1 425.3h1M70.1 431.9h1M60.1 430.3h1M75.2 432.9h1M66.4 428.3h1M61.6 427.4h1M73.7 434.6h1M65.3 433.0h1M73.2 428.6h1M82.1 423.9h1M70.7 430.3h1M81.8 434.0h1M82.5 430.1h1M76.0 433.0h1M73.6 430.6h1M70.1 428.8h1M64.8 434.3h1M68.8 424.9h1M72.4 429.7h1M71.9 434.0h1M70.5 429.2h1M67.3 429.7h1M68.8 430.3h1M66.7 434.3h1M75.4 431.7h1M74.7 431.7h1M74.5 433.1h1M76.1 432.9h1M68.5 429.8h1M67.4 432.0h1M75.3 428.7h1M74.0 435.9h1M77.3 427.2h1M70.6 431.3h1M70.9 430.7h1M77.0 430.6h1M65.5 431.5h1M70.6 430.1h1M68.2 426.6h1M64.7 429.0h1M65.6 423.5h1M76.9 427.1h1M67.4 431.0h1M58.8 432.9h1M67.2 431.3h1M68.6 430.5h1M71.6 429.8h1M61.8 426.4h1M70.8 433.1h1M68.3 431.0h1M71.9 430.9h1M76.1 426.3h1M72.4 429.4h1M69.5 427.8h1M67.1 427.4h1M65.5 435.7h1M79.7 429.8h1M74.8 427.5h1M57.0 425.5h1M71.8 433.2h1M70.8 427.5h1M69.8 427.5h1M64.0 429.3h1M69.0 427.9h1M66.6 427.6h1M72.2 433.1h1M70.0 435.0h1M62.9 430.4h1M65.2 429.4h1M71.6 431.1h1M76.8 428.5h1M64.8 429.4h1M72.5 428.2h1M75.6 433.7h1M63.8 430.6h1M76.2 425.3h1M72.1 429.3h1M63.8 432.9h1M72.2 428.7h1M73.3 431.3h1M74.9 431.2h1M73.1 427.0h1M68.9 430.1h1M57.0 434.8h1M69.1 427.3h1M61.8 430.4h1M71.2 428.4h1M68.9 427.7h1M67.3 429.6h1M67.8 431.4h1M70.3 430.1h1M73.1 432.8h1M74.1 430.3h1M70.2 427.9h1M69.3 431.4h1M72.2 428.9h1M64.3 426.2h1M72.7 432.2h1M72.9 426.6h1M70.0 430.3h1M66.4 430.6h1M70.0 427.8h1M64.8 431.7h1M72.9 427.7h1M65.9 431.9h1M74.1 429.1h1M79.1 429.1h1M65.7 432.4h1M70.1 430.6h1M71.2 427.5h1M65.0 429.3h1M78.2 427.5h1M77.9 430.3h1M65.4 430.4h1M73.9 427.7h1M60.3 430.6h1M65.4 430.8h1M61.4 429.5h1M67.0 426.3h1M69.8 430.2h1M68.2 427.0h1M72.1 425.7h1M73.8 430.9h1M79.5 431.9h1M72.8 430.4h1M71.2 426.7h1M78.4 431.0h1M69.6 427.1h1M78.6 431.0h1M65.1 431.4h1M80.6 429.7h1M73.1 428.8h1M67.9 432.3h1M70.4 431.6h1M69.5 431.5h1M75.2 427.4h1M65.6 429.6h1M75.3 430.4h1M77.3 426.6h1M73.5 428.3h1M71.6 430.5h1M66.2 429.3h1M65.2 430.4h1M66.8 428.6h1M72.2 428.3h1M76.8 428.3h1M75.3 430.5h1M65.8 429.3h1M66.8 429.0h1M69.7 434.0h1M68.9 433.5h1M73.3 426.8h1M59.4 431.4h1M61.0 431.5h1M76.2 430.7h1M70.0 429.2h1M72.4 429.1h1M68.4 428.9h1M76.9 428.4h1M73.0 427.1h1M67.5 426.6h1M70.1 431.4h1M72.6 428.7h1M74.1 429.0h1M72.9 430.4h1M73.8 424.0h1M64.5 431.6h1M70.5 435.0h1M69.9 428.5h1M78.6 431.1h1M80.6 431.0h1M70.0 431.5h1M67.1 428.8h1M68.3 429.3h1M75.0 428.7h1M72.7 428.6h1M75.5 423.4h1M70.0 430.2h1M65.6 432.2h1M72.1 432.8h1M75.9 431.3h1M70.3 427.3h1M69.9 428.7h1M72.3 428.7h1M86.4 426.1h1M77.0 428.7h1M69.8 431.9h1M71.1 427.0h1M73.1 429.3h1M60.7 430.3h1M65.7 428.1h1M73.5 430.5h1M69.6 434.8h1M73.2 428.4h1M72.2 429.5h1M60.0 426.1h1M64.1 434.6h1M70.1 429.2h1M68.2 432.1h1M71.2 433.8h1M75.0 433.6h1M70.5 430.7h1M68.9 429.4h1M62.4 428.5h1M66.3 428.3h1M77.2 430.4h1M77.2 431.8h1M75.7 432.1h1M68.0 431.7h1M69.4 428.6h1M77.0 434.8h1M66.1 433.8h1M75.2 427.8h1M72.4 430.7h1M72.9 429.0h1M64.6 429.9h1M75.4 431.6h1M74.4 432.3h1M66.1 429.7h1M72.8 432.1h1M71.8 431.0h1M71.7 434.7h1M60.1 429.7h1M83.5 430.3h1M61.9 430.1h1M63.9 428.2h1M72.2 433.8h1M73.4 431.3h1M76.2 430.3h1M66.8 429.6h1M72.7 429.2h1M67.7 429.0h1M63.5 427.4h1M70.6 429.0h1M71.2 433.0h1M72.6 429.7h1M65.2 427.3h1M72.9 427.8h1M73.2 427.3h1M71.7 429.6h1M76.0 428.9h1M69.2 430.4h1M71.3 433.7h1M69.8 428.6h1M69.5 430.9h1M72.2 431.4h1M64.1 435.5h1M80.3 429.7h1M65.0 430.2h1M73.1 424.6h1M71.1 426.4h1M73.3 433.0h1M76.2 426.3h1M78.0 431.9h1M69.2 431.0h1M78.6 429.0h1M71.0 428.5h1M76.8 424.8h1M78.2 427.6h1M75.7 426.0h1M66.4 428.4h1M75.2 426.1h1M74.1 428.3h1M77.3 429.1h1M73.5 429.4h1M80.0 429.0h1M70.9 434.4h1M71.4 431.4h1M67.4 430.3h1M59.7 430.0h1M67.8 426.3h1M64.0 432.4h1M73.2 426.3h1M80.1 428.2h1M69.2 430.4h1M65.4 426.1h1M67.3 432.5h1M76.4 424.6h1M78.3 429.6h1M72.9 429.7h1M72.2 426.4h1M62.1 427.3h1M66.2 431.4h1M59.7 434.4h1M64.2 427.7h1M74.5 430.8h1M66.4 426.2h1M61.4 424.6h1M77.9 432.8h1M83.4 431.0h1M71.6 431.8h1M76.4 428.7h1M71.8 436.1h1M56.0 425.2h1M61.6 431.8h1M78.2 428.5h1M74.2 429.4h1M71.4 427.8h1M68.8 429.5h1M77.8 436.4h1M55.1 431.1h1M69.0 432.5h1M77.2 431.9h1M75.3 426.6h1M55.9 434.6h1M78.4 426.6h1M79.0 431.6h1M50.1 432.3h1M61.4 433.1h1M63.8 427.2h1M57.1 428.8h1M76.9 427.4h1M54.7 436.1h1M83.3 431.6h1M64.9 425.8h1M56.4 431.2h1M79.1 426.2h1M69.0 428.6h1M67.1 431.0h1M85.2 427.5h1M75.6 432.9h1M66.9 429.0h1M58.7 432.8h1M65.0 427.5h1M69.6 426.9h1M61.0 428.6h1M80.5 428.9h1M73.1 425.0h1M54.0 435.1h1M66.0 424.8h1M68.2 431.4h1M55.7 426.8h1M71.1 426.7h1M75.2 432.5h1M72.5 428.2h1M68.7 427.5h1M68.0 430.5h1M66.7 432.5h1M71.7 432.0h1M74.0 428.8h1M65.3 432.6h1M73.9 431.1h1M62.8 431.5h1M75.2 428.9h1M74.0 436.2h1M54.5 431.4h1M60.0 425.3h1M67.2 431.2h1M69.5 425.9h1M57.9 427.8h1M69.2 426.9h1M57.4 434.9h1M62.6 429.0h1M64.8 427.7h1M69.4 428.6h1M73.8 425.8h1M57.5 435.5h1M68.5 431.9h1M78.2 431.2h1M69.3 424.7h1M56.7 432.5h1M74.3 431.3h1M56.2 422.9h1M60.9 425.8h1M70.3 426.3h1M81.3 427.6h1M64.7 432.2h1M71.6 426.7h1M75.4 435.5h1M59.5 428.7h1M60.7 423.5h1M73.9 431.7h1M76.6 430.8h1M53.4 429.4h1M63.9 425.8h1M60.5 431.9h1M66.7 435.6h1M72.7 423.6h1M76.0 433.4h1M69.3 425.7h1M82.8 425.4h1M68.4 423.6h1M59.3 424.2h1M77.5 433.2h1M65.9 425.3h1M68.6 430.7h1M57.2 425.9h1M68.3 431.7h1M69.6 430.9h1M59.3 421.7h1M71.5 426.6h1M68.1 428.3h1M72.8 427.1h1M80.3 429.6h1M73.2 431.5h1M77.1 430.8h1M55.4 427.5h1M83.6 431.0h1M73.4 431.0h1M64.0 427.4h1M64.0 433.1h1M71.9 435.1h1M72.9 435.4h1M72.6 425.8h1M82.7 430.6h1M78.4 430.2h1M66.5 430.0h1M60.3 425.8h1M62.1 427.9h1M58.4 429.2h1M71.4 435.9h1M83.5 429.3h1M76.0 428.8h1M72.1 429.4h1M64.8 429.7h1M57.4 430.9h1M66.8 426.1h1M66.2 431.2h1M63.7 431.0h1M73.5 434.4h1M60.5 429.2h1M73.1 434.2h1M71.1 431.9h1M57.5 427.7h1M82.1 428.6h1M86.1 427.2h1M66.9 424.5h1M74.1 430.3h1M85.0 430.0h1M67.1 425.1h1M68.4 432.5h1M74.9 433.4h1M75.9 429.4h1M73.8 430.0h1M58.5 434.9h1M72.0 426.2h1M72.1 430.4h1M121.3 437.1h1M120.3 425.6h1M123.9 438.3h1M120.6 429.5h1M121.4 435.1h1M122.0 422.2h1M119.0 424.9h1M122.0 431.0h1M124.7 429.3h1M121.8 430.8h1M121.7 437.2h1M123.7 427.7h1M122.5 428.8h1M121.4 431.2h1M121.2 428.3h1M124.3 429.3h1M122.6 438.2h1M122.4 435.2h1M123.9 435.5h1M124.6 424.0h1M125.1 430.6h1M117.7 427.6h1M118.4 430.4h1M118.2 425.9h1M121.7 431.2h1M119.6 429.4h1M121.0 430.8h1M121.1 429.5h1M122.9 423.1h1M120.2 431.1h1M120.3 428.0h1M120.3 431.5h1M123.6 429.6h1M120.6 432.1h1M120.7 421.6h1M121.7 428.8h1M120.0 433.4h1M121.2 427.9h1M116.8 422.6h1M121.2 430.0h1M122.0 431.5h1M120.2 424.7h1M119.0 429.9h1M118.9 434.0h1M118.5 422.3h1M120.8 422.3h1M124.4 425.9h1M121.0 429.4h1M119.5 422.4h1M117.4 434.5h1M118.2 433.1h1M121.1 434.4h1M120.1 433.8h1M122.9 433.3h1M124.0 429.7h1M124.2 427.3h1M124.5 417.9h1M121.2 426.8h1M121.2 435.2h1M122.6 430.9h1M124.6 423.7h1M119.5 437.4h1M121.8 421.0h1M121.8 425.1h1M124.1 435.8h1M120.1 436.4h1M119.5 434.7h1M122.3 429.9h1M118.3 429.2h1M116.6 427.9h1M117.4 436.1h1M119.2 419.3h1M122.3 432.2h1M122.7 430.8h1M119.9 416.9h1M122.1 434.9h1M120.0 424.0h1M121.1 422.8h1M121.2 434.0h1M124.2 431.7h1M121.5 433.9h1M123.9 429.0h1M118.7 426.9h1M118.6 426.4h1M120.9 432.1h1M121.5 430.8h1M120.4 432.4h1M122.9 434.0h1M124.1 429.2h1M120.6 438.3h1M121.6 432.4h1M120.5 435.0h1M120.3 425.9h1M121.0 428.5h1M122.8 428.8h1M121.4 429.5h1M121.8 427.6h1M123.4 424.0h1M120.4 427.2h1M122.4 430.7h1M122.1 429.0h1M119.7 425.4h1M120.5 428.0h1M121.7 432.1h1M123.1 430.0h1M119.7 425.6h1M121.3 432.2h1M125.0 431.3h1M124.7 439.1h1M119.1 436.1h1M123.4 436.7h1M121.1 434.9h1M120.2 430.2h1M121.2 438.7h1M120.7 434.9h1M121.3 427.2h1M121.6 433.5h1M119.7 433.4h1M119.7 426.5h1M121.6 429.4h1M119.2 423.0h1M121.2 431.6h1M120.2 431.4h1M118.1 432.3h1M122.0 431.8h1M119.9 430.9h1M121.4 435.4h1M121.7 431.7h1M119.7 434.5h1M123.5 428.2h1M122.4 431.9h1M121.1 424.6h1M124.7 421.9h1M121.8 428.8h1M123.4 428.6h1M121.2 433.3h1M122.1 428.1h1M122.5 432.3h1M123.1 428.2h1M121.1 428.7h1M119.5 431.7h1M122.0 437.0h1M120.5 432.3h1M123.4 430.0h1M121.3 431.1h1M119.8 426.0h1M123.4 431.3h1M121.0 424.8h1M121.4 435.9h1M118.9 426.4h1M123.4 437.1h1M124.2 428.0h1M122.3 427.1h1M122.2 428.8h1M121.5 436.6h1M121.8 429.4h1M121.3 431.7h1M120.1 431.4h1M122.3 437.6h1M117.0 425.1h1M118.7 434.5h1M126.0 431.4h1M121.4 435.7h1M116.3 429.7h1M115.0 431.2h1M120.1 428.3h1M121.8 427.8h1M123.4 430.5h1M120.3 434.7h1M119.5 436.2h1M123.1 431.1h1M123.1 437.8h1M123.9 430.5h1M121.0 435.6h1M118.2 427.7h1M122.1 433.1h1M124.8 438.5h1M121.8 432.5h1M118.5 429.7h1M121.7 429.5h1M121.3 433.3h1M119.3 427.9h1M117.6 435.7h1M119.1 422.7h1M122.7 429.5h1M123.1 428.8h1M125.4 433.8h1M121.4 431.0h1M120.7 434.2h1M125.1 428.6h1M119.0 433.2h1M123.3 423.7h1M119.8 426.0h1M122.3 432.8h1M119.7 425.4h1M122.5 421.2h1M122.4 429.8h1M124.9 435.0h1M120.0 429.3h1M120.6 427.2h1M121.3 434.9h1M118.2 429.5h1M124.1 433.9h1M119.5 426.8h1M119.5 423.2h1M123.4 430.8h1M119.8 424.0h1M120.4 428.2h1M124.5 428.4h1M121.4 435.4h1M122.5 429.7h1M116.9 436.8h1M122.3 428.5h1M121.0 426.2h1M119.4 423.8h1M122.1 432.8h1M121.5 434.0h1M122.2 431.1h1M119.4 433.2h1M123.5 433.4h1M123.6 428.4h1M119.2 436.2h1M120.0 431.6h1M120.8 430.6h1M120.6 428.1h1M117.6 439.1h1M121.5 421.8h1M119.4 425.4h1M119.7 419.0h1M122.3 437.9h1M120.7 433.9h1M122.3 424.9h1M123.5 422.9h1M120.0 428.9h1M123.6 431.0h1M120.9 426.9h1M121.3 430.7h1M122.6 436.8h1M122.6 430.6h1M120.9 437.7h1M121.5 430.4h1M124.7 437.6h1M122.3 430.0h1M119.9 435.3h1M120.3 434.8h1M119.6 431.0h1M121.9 431.2h1M121.6 432.2h1M119.0 425.5h1M120.9 438.6h1M120.9 426.3h1M119.9 430.7h1M123.5 428.0h1M122.2 431.3h1M120.5 426.3h1M120.9 427.3h1M122.2 422.6h1M123.4 433.9h1M122.3 437.2h1M122.3 422.8h1M121.3 432.5h1M119.8 425.4h1M122.0 432.8h1M120.3 429.4h1M120.2 428.0h1M121.0 435.3h1M118.0 429.0h1M124.3 431.9h1M121.5 434.3h1M119.2 425.1h1M117.9 424.0h1M121.6 434.3h1M120.3 427.5h1M121.9 433.3h1M121.7 422.0h1M120.1 419.1h1M121.6 426.7h1M119.9 437.2h1M123.7 432.7h1M121.7 431.3h1M120.0 430.3h1M124.9 426.6h1M119.9 431.2h1M122.9 434.2h1M119.3 429.9h1M120.6 425.0h1M121.3 428.3h1M122.9 432.4h1M119.6 430.9h1M120.5 427.7h1M120.2 435.3h1M120.3 422.8h1M119.6 434.1h1M125.3 425.8h1M120.5 429.0h1M118.4 432.3h1M121.1 431.7h1M125.5 429.3h1M122.7 434.2h1M119.9 427.9h1M124.2 433.7h1M121.4 425.6h1M122.9 432.9h1M125.4 437.1h1M122.7 431.7h1M121.3 428.0h1M121.8 431.6h1M122.4 435.4h1M121.8 428.1h1M122.7 437.4h1M119.5 432.4h1M122.2 432.9h1M122.1 430.1h1M121.0 438.0h1M124.5 424.2h1M116.2 432.5h1M119.8 428.2h1M118.1 432.1h1M121.0 428.1h1M124.0 435.7h1M120.4 433.4h1M121.1 435.7h1M122.3 430.3h1M122.2 427.3h1M122.7 437.2h1M120.4 433.0h1M117.9 434.7h1M122.9 425.9h1M124.5 431.0h1M117.8 424.4h1M122.8 429.3h1M123.3 423.6h1M121.0 434.9h1M119.8 433.5h1M120.5 432.0h1M118.7 434.0h1M123.7 425.5h1M123.2 417.2h1M120.7 422.9h1M121.7 427.3h1M120.1 426.8h1M121.7 428.4h1M119.4 429.5h1M121.9 426.7h1M123.3 423.1h1M121.9 428.8h1M124.2 427.6h1M119.9 424.5h1M125.0 433.3h1M119.0 429.0h1M119.3 437.3h1M122.0 421.4h1M121.6 434.6h1M121.2 432.6h1M120.9 431.4h1M121.6 427.3h1M121.8 431.2h1M121.1 427.4h1M119.2 431.6h1M122.8 419.7h1M120.1 436.6h1M122.9 427.3h1M123.8 426.1h1M119.6 439.2h1M120.3 429.5h1M117.9 426.0h1M118.9 429.9h1M117.6 435.3h1M120.5 427.8h1M119.9 433.8h1M124.1 428.7h1M124.3 437.7h1M123.8 431.8h1M118.3 433.5h1M120.4 431.4h1M117.5 429.2h1M121.6 426.3h1M121.7 438.0h1M121.6 427.4h1M125.8 420.9h1M119.4 432.3h1M120.0 420.2h1M121.7 434.2h1M119.6 437.1h1M122.1 435.8h1M118.2 430.5h1M123.7 430.5h1M121.5 427.7h1M123.3 427.4h1M121.4 421.3h1M118.2 438.5h1M121.3 431.5h1M116.9 430.4h1M125.2 423.8h1M116.5 429.8h1M120.1 429.6h1M118.7 424.4h1M118.7 433.4h1M121.1 434.2h1M119.0 433.2h1M120.3 430.9h1M123.0 430.6h1M120.5 423.0h1M121.3 434.0h1M119.9 430.2h1M117.7 424.5h1M121.9 436.3h1M120.5 423.0h1M120.4 423.5h1M120.6 439.2h1M121.7 429.8h1M123.2 428.8h1M121.8 431.4h1M122.0 423.9h1M122.5 434.5h1M116.7 418.3h1M119.4 437.2h1M121.2 433.6h1M122.2 434.5h1M119.9 427.9h1M121.9 433.2h1M122.3 432.0h1M120.2 435.5h1M122.1 435.3h1M116.2 435.1h1M116.4 431.5h1M119.8 431.0h1M120.2 429.1h1M121.5 432.1h1M119.6 419.0h1M119.6 433.0h1M119.5 432.4h1M120.4 426.2h1M123.5 438.0h1M120.9 430.3h1M123.0 424.5h1M119.4 435.6h1M122.9 428.3h1M119.6 432.1h1M118.4 428.2h1M120.7 419.3h1M122.3 434.0h1M123.3 424.0h1M118.6 426.8h1M119.2 429.1h1M121.6 432.6h1M124.0 425.5h1M122.9 431.2h1M118.8 431.2h1M118.4 437.9h1M119.7 435.1h1M123.7 427.7h1M119.4 431.1h1M119.1 434.6h1M121.5 427.0h1M119.8 433.8h1M118.3 438.2h1M119.6 429.6h1M119.3 437.9h1M122.8 436.4h1M122.4 430.9h1M124.5 433.5h1M122.0 433.1h1M122.6 431.8h1M120.8 423.2h1M125.2 424.5h1M116.9 427.2h1M125.0 436.1h1M120.0 431.7h1M121.1 421.4h1M120.5 431.8h1M123.5 425.0h1M116.7 423.3h1M121.8 430.9h1M121.4 431.2h1M120.4 424.2h1M122.1 432.3h1M122.3 436.2h1M118.7 419.8h1M119.3 432.3h1M121.1 433.8h1M127.6 428.1h1M120.8 427.8h1M121.6 432.9h1M119.2 436.6h1M123.4 432.5h1M120.9 429.4h1M117.9 433.5h1M119.2 428.2h1M123.1 426.3h1M120.1 434.4h1M124.9 427.3h1M123.4 427.5h1M121.9 432.7h1M118.9 435.2h1M124.7 430.7h1M121.7 425.1h1M124.7 430.8h1M118.6 434.0h1M118.2 427.3h1M116.9 436.8h1M125.6 427.6h1M119.8 427.8h1M120.0 433.0h1M124.1 425.9h1M122.0 422.2h1M124.2 430.1h1M119.7 437.5h1M120.9 436.8h1M123.3 438.1h1M119.5 430.8h1M121.9 429.6h1M124.2 427.2h1M123.2 436.8h1M117.2 426.0h1M119.3 428.0h1M121.9 429.7h1M121.3 428.4h1M121.0 432.7h1M122.6 426.9h1M120.9 427.0h1M120.8 423.9h1M123.1 433.6h1M120.9 427.4h1M120.2 427.4h1M118.1 438.0h1M127.7 424.8h1M118.8 433.2h1M122.4 423.3h1M117.3 433.0h1M117.2 437.0h1M120.2 430.9h1M121.1 427.9h1M120.9 429.1h1M123.6 430.1h1M121.1 428.1h1M119.9 427.1h1M121.2 438.9h1M123.4 431.6h1M124.5 435.2h1M121.6 429.7h1M119.0 431.6h1M120.5 423.2h1M121.6 432.8h1M121.5 428.4h1M122.1 435.5h1M120.5 432.9h1M123.2 428.3h1M121.5 427.1h1M122.4 428.8h1M123.4 427.0h1M124.5 429.1h1M119.5 426.3h1M122.5 426.6h1M124.8 436.4h1M122.2 424.0h1M121.1 427.2h1M117.5 432.5h1M125.6 428.0h1M122.8 436.4h1M119.2 428.9h1M121.7 432.7h1M118.9 431.5h1M120.9 434.9h1M118.0 427.9h1M120.1 429.0h1M122.6 427.6h1M126.6 427.2h1M122.8 435.2h1M123.1 429.6h1M119.5 429.3h1M122.5 431.1h1M122.3 433.1h1M119.4 426.2h1M124.0 428.3h1M118.0 439.1h1M119.5 426.2h1M123.1 425.3h1M119.4 435.3h1M121.4 430.8h1M119.9 429.5h1M120.1 430.4h1M122.7 424.7h1M119.3 420.9h1M124.2 430.2h1M121.1 430.2h1M123.2 432.0h1M122.9 429.7h1M120.9 430.2h1M117.4 435.5h1M118.0 425.9h1M122.5 430.8h1M122.8 438.3h1M124.9 436.9h1M119.4 430.1h1M123.1 429.5h1M120.9 428.9h1M123.9 419.2h1M123.7 435.4h1M121.0 433.1h1M119.2 435.6h1M127.3 426.3h1M123.9 430.2h1M120.5 428.3h1M120.8 424.7h1M118.4 438.1h1M121.1 433.0h1M121.8 432.7h1M118.1 426.1h1M122.4 435.1h1M118.9 427.8h1M119.0 433.5h1M121.8 430.7h1M119.9 432.1h1M121.2 427.1h1M121.8 427.4h1M123.1 433.4h1M119.8 433.2h1M121.3 427.3h1M119.3 422.9h1M118.9 432.1h1M123.6 427.6h1M121.5 432.1h1M122.7 432.5h1M123.6 434.0h1M119.6 432.3h1M116.5 429.7h1M121.2 433.2h1M120.5 434.3h1M123.8 426.6h1M120.1 431.7h1M122.1 431.2h1M122.8 425.1h1M122.7 435.9h1M123.4 432.5h1M120.7 432.3h1M121.0 423.2h1M119.9 430.3h1M120.1 426.2h1M120.7 428.8h1M121.3 430.3h1M121.5 435.1h1M121.4 432.4h1M118.7 416.9h1M120.3 433.6h1M120.5 427.6h1M118.7 434.6h1M120.1 431.6h1M123.4 433.0h1M125.6 429.9h1M123.1 433.7h1M119.8 430.7h1M120.0 425.8h1M121.7 426.9h1M124.5 427.1h1M120.1 430.9h1M120.1 430.7h1M119.9 424.0h1M116.3 424.6h1M124.2 432.5h1M121.5 428.4h1M120.9 431.9h1M118.4 426.8h1M119.4 436.3h1M119.0 435.9h1M121.0 430.6h1M123.9 434.5h1M123.0 425.6h1M123.4 438.2h1M120.9 428.3h1M119.0 435.2h1M121.7 430.5h1M118.7 438.0h1M122.9 430.4h1M124.1 426.1h1M122.9 425.9h1M124.0 429.2h1M123.6 428.6h1M121.9 435.8h1M119.3 430.9h1M119.5 434.4h1M119.9 428.8h1M120.7 435.9h1M119.1 430.4h1M120.5 428.0h1M119.6 429.8h1M121.5 423.4h1M121.6 425.1h1M119.2 430.2h1M120.6 435.0h1M120.2 422.3h1M117.9 431.3h1M121.7 435.4h1M120.1 433.6h1M119.0 436.5h1M121.0 427.4h1M121.5 438.5h1M119.5 424.8h1M119.1 425.2h1M121.0 432.1h1M120.8 431.4h1M123.5 429.2h1M118.6 420.0h1M121.6 427.4h1M120.7 432.4h1M122.1 423.3h1M119.2 430.8h1M120.9 435.8h1M120.1 421.0h1M123.5 423.0h1M119.2 432.3h1M121.6 433.0h1M122.2 427.2h1M123.7 422.7h1M120.0 431.8h1M121.4 426.1h1M124.3 437.3h1M119.3 432.2h1M119.9 428.5h1M123.1 431.1h1M120.9 431.0h1M118.8 436.1h1M119.6 436.5h1M120.2 428.4h1M124.1 431.4h1M119.9 428.0h1M122.4 439.1h1M122.4 428.7h1M118.9 427.4h1M120.9 431.6h1M119.8 436.4h1M119.2 427.2h1M122.1 432.7h1M120.4 434.9h1M118.3 438.0h1M121.3 436.6h1M120.8 431.4h1M122.2 422.5h1M120.7 438.4h1M115.3 432.3h1M123.0 432.0h1M121.5 436.9h1M121.8 421.8h1M119.3 429.1h1M121.4 428.4h1M120.9 438.2h1M115.3 435.8h1M123.0 433.3h1M121.2 430.8h1M121.9 431.6h1M119.7 434.1h1M119.5 430.3h1M120.4 425.2h1M122.4 430.2h1M118.8 430.1h1M118.4 437.1h1M120.0 433.7h1M119.2 426.6h1M121.0 432.4h1M123.0 429.3h1M123.4 434.9h1M119.4 429.7h1M119.3 438.3h1M120.1 434.6h1M123.0 429.3h1M120.2 432.1h1M119.6 424.7h1M119.2 432.1h1M121.5 438.6h1M117.5 432.8h1M118.9 435.8h1M122.5 431.1h1M124.1 428.8h1M120.1 425.7h1M119.8 431.0h1M122.5 436.4h1M120.6 427.2h1M120.5 428.5h1M120.2 428.7h1M119.4 430.3h1M120.1 429.7h1M118.4 431.2h1M122.3 433.5h1M120.1 425.3h1M118.6 425.1h1M119.9 429.1h1M117.6 433.6h1M118.1 427.4h1M119.7 434.3h1M124.8 428.9h1M120.6 428.7h1M120.8 429.7h1M126.0 425.5h1M120.9 426.9h1M121.9 428.1h1M122.3 425.6h1M125.3 431.5h1M117.6 433.7h1M120.2 425.2h1M122.0 428.1h1M122.6 428.0h1M122.9 431.2h1M121.9 431.2h1M120.4 428.9h1M122.0 433.7h1M124.5 425.3h1M123.3 430.2h1M121.6 426.9h1M124.4 426.8h1M121.0 427.2h1M125.0 436.2h1M118.5 428.5h1M121.9 428.5h1M120.5 425.6h1M121.6 425.6h1M120.5 438.0h1M121.9 427.5h1M120.5 426.2h1M121.4 433.7h1M123.0 429.2h1M118.8 430.2h1M124.5 431.8h1M121.0 421.1h1M120.3 433.0h1M119.3 436.6h1M120.0 426.6h1M120.0 430.1h1M123.1 428.0h1M117.6 430.2h1M122.2 437.5h1M118.9 437.2h1M122.5 432.6h1M119.6 426.5h1M119.3 434.7h1M121.6 435.3h1M124.7 430.6h1M121.1 439.2h1M118.6 428.5h1M120.4 428.8h1M121.4 426.7h1M123.4 424.4h1M119.5 422.9h1M118.4 433.2h1M122.4 429.6h1M122.8 433.3h1M120.0 430.3h1M120.3 432.2h1M122.2 436.0h1M122.0 435.4h1M119.1 429.3h1M117.3 430.3h1M125.7 431.6h1M121.3 431.7h1M121.4 424.6h1M119.8 429.7h1M121.5 426.6h1M120.9 427.2h1M118.6 427.6h1M119.6 434.3h1M123.8 433.1h1M120.7 428.0h1M118.1 428.2h1M124.2 435.7h1M121.6 429.4h1M121.2 432.4h1M121.1 432.5h1M119.6 430.7h1M120.5 435.4h1M118.7 436.4h1M121.0 428.3h1M121.2 431.1h1M120.7 432.4h1M120.0 422.9h1M122.5 430.4h1M124.4 432.3h1M117.2 436.1h1M119.8 433.0h1M125.5 435.4h1M119.0 430.1h1M118.0 433.5h1M122.3 425.9h1M122.0 434.7h1M122.7 427.5h1M119.8 425.5h1M118.6 431.9h1M121.2 436.4h1M121.7 429.1h1M118.3 437.5h1M121.5 430.4h1M119.2 425.8h1M122.4 426.2h1M122.3 433.3h1M120.4 423.3h1M122.0 436.8h1M119.5 424.9h1M123.3 431.2h1M119.9 436.0h1M120.6 432.6h1M120.4 427.2h1M121.6 426.7h1M115.6 428.4h1M125.0 436.4h1M128.0 435.9h1M126.2 432.3h1M119.8 433.3h1M118.2 434.6h1M119.7 432.3h1M118.5 430.4h1M124.2 430.0h1M119.0 432.4h1M123.9 430.1h1M117.5 423.5h1M116.9 436.2h1M120.9 433.4h1M124.5 432.4h1M122.7 428.6h1M116.1 434.1h1M120.8 433.8h1M117.8 430.4h1M127.5 427.0h1M121.5 437.4h1M120.4 431.7h1M114.5 434.8h1M119.8 437.3h1M120.9 429.3h1M122.5 429.9h1M119.5 438.5h1M124.2 431.6h1M123.7 435.0h1M123.0 431.3h1M121.4 433.0h1M122.9 432.8h1M119.4 430.7h1M122.6 426.3h1M121.1 434.7h1M121.7 429.7h1M121.1 428.7h1M124.2 429.3h1M115.9 425.3h1M122.1 432.1h1M119.7 424.8h1M120.7 427.0h1M119.1 431.1h1M118.7 432.6h1M118.8 428.8h1M120.4 438.1h1M126.1 435.6h1M118.8 431.1h1M124.0 434.9h1M116.0 430.8h1M118.8 434.7h1M123.1 428.5h1M127.9 429.7h1M128.8 430.3h1M119.5 428.8h1M125.8 430.9h1M122.6 425.1h1M126.8 435.8h1M122.3 434.5h1M119.6 428.8h1M116.2 432.8h1M125.0 435.2h1M124.0 434.5h1M118.3 424.8h1M123.2 431.9h1M124.2 429.8h1M118.4 433.2h1M119.4 423.3h1M119.2 426.9h1M117.7 428.5h1M126.6 429.1h1M124.7 430.7h1M122.4 427.9h1M120.9 423.1h1M126.8 427.4h1M123.0 428.3h1M122.0 425.5h1M120.0 435.4h1M123.0 421.8h1M123.8 424.8h1M122.0 433.6h1M119.1 429.6h1M120.4 433.0h1M124.0 437.6h1M120.3 434.7h1M120.8 431.5h1M118.3 432.9h1M127.5 431.8h1M121.1 431.1h1M123.4 430.1h1M121.1 432.1h1M125.2 435.6h1M117.9 428.1h1M121.2 435.1h1M124.2 430.1h1M127.8 430.3h1M125.6 437.8h1M126.1 432.0h1M123.0 423.8h1M115.6 428.2h1M123.4 436.1h1M120.8 436.0h1M123.0 438.3h1M116.2 427.1h1M118.2 426.1h1M126.3 426.7h1M118.6 429.2h1M123.9 428.9h1M123.5 433.7h1M119.1 419.9h1M118.3 425.2h1M126.3 427.7h1M117.8 432.9h1M121.3 426.6h1M124.6 435.4h1M122.0 427.5h1M118.4 421.3h1M122.4 432.9h1M118.3 431.2h1M131.4 425.7h1M115.8 434.0h1M119.8 428.7h1M123.1 430.5h1M124.3 433.5h1M124.8 431.6h1M114.4 437.5h1M115.8 436.0h1M121.9 424.5h1M121.4 435.3h1M117.9 431.3h1M118.8 426.3h1M119.2 437.1h1M123.3 430.9h1M120.9 431.7h1M122.0 431.9h1M115.8 435.4h1M118.5 418.7h1M123.4 425.3h1M120.7 430.6h1M119.3 433.6h1M120.3 429.7h1M118.2 429.7h1M117.9 431.3h1M125.3 435.9h1M122.5 424.6h1M124.4 435.5h1M127.6 420.4h1M121.2 429.5h1M124.6 425.9h1M124.3 421.6h1M121.2 437.6h1M119.2 433.9h1M121.5 424.1h1M119.2 436.4h1M124.9 428.2h1M124.7 427.7h1M121.9 430.9h1M117.2 432.6h1M119.9 418.0h1M118.5 427.0h1M118.5 426.4h1M119.0 419.4h1M124.0 431.4h1M122.0 429.8h1M121.4 429.8h1M117.7 423.8h1M121.4 435.9h1M121.9 438.7h1M116.9 429.8h1M119.2 436.9h1M126.5 428.5h1M123.5 429.9h1M118.0 430.5h1M117.9 438.4h1M123.0 436.7h1M122.3 419.4h1M123.7 431.5h1M113.6 431.5h1M124.3 439.2h1M117.9 434.8h1M122.2 430.2h1M120.3 433.6h1M123.0 434.2h1M119.9 424.7h1M125.3 437.2h1M119.4 430.9h1M123.7 422.6h1M122.0 427.6h1M127.6 431.1h1M121.8 429.0h1M121.7 422.4h1M117.1 424.0h1M124.0 430.6h1M124.8 421.3h1M119.3 438.0h1M118.7 422.1h1M118.8 429.4h1M121.1 437.3h1M125.3 438.4h1M123.0 428.6h1M120.7 400.1h1M124.0 418.4h1M121.8 404.0h1M122.9 413.3h1M121.9 402.2h1M122.1 406.2h1M123.0 414.0h1M122.5 407.1h1M124.5 415.2h1M124.0 415.6h1M122.9 412.6h1M119.7 397.8h1M119.9 414.1h1M123.4 411.2h1M121.8 422.3h1M120.9 398.0h1M118.8 407.9h1M123.0 414.9h1M121.2 415.5h1M121.6 405.2h1M120.9 415.1h1M123.4 402.5h1M119.8 410.8h1M125.6 402.2h1M119.3 412.8h1M122.6 405.9h1M121.6 413.3h1M118.4 409.9h1M122.8 416.2h1M123.8 409.5h1M119.0 419.0h1M123.1 405.7h1M123.6 417.0h1M121.4 394.2h1M120.8 404.9h1M120.1 409.5h1M119.6 412.6h1M125.2 402.0h1M123.6 406.4h1M122.7 409.2h1M124.0 405.2h1M123.0 404.8h1M122.1 409.9h1M123.7 399.4h1M119.1 419.3h1M122.4 421.4h1M119.7 411.4h1M122.8 421.9h1M121.6 407.0h1M123.0 409.3h1M120.3 415.1h1M118.1 403.2h1M124.2 406.7h1M121.0 412.5h1M123.7 413.5h1M119.9 406.2h1M123.6 409.2h1M120.5 415.9h1M123.8 424.6h1M119.7 405.3h1M120.4 412.4h1M120.8 417.5h1M116.7 416.5h1M120.5 408.2h1M122.7 411.4h1M119.8 420.1h1M122.7 406.7h1M122.0 402.6h1M119.4 408.0h1M122.3 410.7h1M120.2 400.7h1M118.5 420.7h1M122.3 404.6h1M123.9 413.6h1M120.9 405.9h1M123.8 412.2h1M124.7 412.4h1M120.6 406.0h1M120.3 411.7h1M122.1 414.1h1M122.5 403.0h1M121.3 403.7h1M122.5 401.2h1M120.6 404.2h1M120.5 408.3h1M124.4 408.3h1M119.0 408.0h1M123.0 413.7h1M122.1 423.4h1M123.7 410.6h1M123.9 401.0h1M121.3 404.2h1M122.0 420.9h1M120.7 420.7h1M119.8 419.6h1M118.5 404.3h1M123.5 409.4h1M121.9 409.9h1M122.0 408.8h1M119.8 408.1h1M121.9 404.0h1M122.5 421.8h1M118.6 406.3h1M121.1 410.1h1M121.8 405.1h1M121.6 410.0h1M121.5 420.3h1M121.9 400.1h1M118.8 414.0h1M121.0 405.8h1M119.1 407.9h1M121.5 405.4h1M121.0 416.0h1M123.1 413.7h1M121.3 400.9h1M123.1 420.0h1M124.0 417.8h1M122.2 412.5h1M121.6 418.4h1M121.2 424.4h1M123.1 407.8h1M121.6 399.2h1M120.3 408.0h1M126.2 404.5h1M123.3 410.5h1M121.1 414.2h1M118.0 416.3h1M125.2 412.0h1M121.5 411.1h1M122.9 406.7h1M121.9 413.4h1M121.0 412.6h1M122.3 414.8h1M119.8 406.4h1M120.9 418.0h1M122.1 398.9h1M119.3 423.0h1M122.3 401.3h1M120.0 411.0h1M124.3 420.9h1M121.0 408.0h1M125.2 403.4h1M124.5 412.3h1M121.8 418.6h1M122.5 404.4h1M118.8 410.1h1M122.6 419.2h1M116.8 419.0h1M122.8 420.2h1M123.1 411.4h1M122.4 412.7h1M120.5 409.2h1M121.9 407.0h1M118.9 400.3h1M122.6 413.5h1M121.9 402.1h1M123.2 407.4h1M117.8 420.5h1M118.9 425.2h1M122.6 407.0h1M117.3 405.3h1M124.4 419.1h1M122.1 398.5h1M120.9 408.1h1M122.5 409.2h1M122.3 399.0h1M120.5 419.7h1M119.0 416.2h1M125.9 414.4h1M119.1 418.4h1M141.7 430.3h1M149.0 429.9h1M157.0 425.4h1M160.1 426.1h1M148.6 425.6h1M153.1 425.9h1M148.7 424.3h1M150.3 426.8h1M156.0 424.3h1M143.2 427.0h1M150.9 427.4h1M154.7 424.9h1M153.8 426.3h1M159.6 424.1h1M151.8 427.7h1M157.2 423.1h1M148.7 427.0h1M140.3 432.6h1M156.5 425.2h1M161.3 426.9h1M155.6 422.6h1M158.8 425.3h1M145.0 428.7h1M154.9 427.6h1M151.9 425.5h1M154.9 424.1h1M150.7 428.4h1M143.8 429.7h1M141.2 427.9h1M144.8 428.5h1M154.7 425.6h1M155.7 425.6h1M150.0 428.1h1M149.8 427.4h1M156.3 424.1h1M156.9 422.8h1M149.9 423.7h1M148.4 430.8h1M152.9 428.8h1M143.6 427.0h1M153.4 427.8h1M155.3 422.2h1M153.6 425.9h1M151.7 427.6h1M149.6 423.8h1M145.6 425.5h1M144.4 428.5h1M157.7 423.4h1M147.2 425.7h1M142.3 429.6h1M148.6 427.1h1M146.2 429.2h1M145.0 429.7h1M147.7 429.4h1M146.6 429.0h1M153.3 426.0h1M159.3 424.7h1M146.6 429.5h1M146.9 427.0h1M151.1 427.1h1M159.7 420.7h1M149.7 429.5h1M150.2 427.7h1M158.8 422.0h1M151.3 428.3h1M148.1 424.2h1M146.0 428.7h1M152.0 430.2h1M157.8 421.7h1M156.3 427.1h1M159.3 424.0h1M148.2 427.9h1M158.9 425.7h1M159.6 425.8h1M148.1 425.7h1M160.4 420.9h1M149.3 426.7h1M146.4 427.0h1M151.1 431.6h1M150.7 425.8h1M151.7 428.5h1M146.9 427.2h1M142.2 430.9h1M154.5 428.8h1M145.0 433.0h1M155.5 424.9h1M149.1 426.8h1M144.9 430.2h1M148.0 426.3h1M153.7 426.2h1M148.1 427.2h1M148.6 430.3h1M156.1 423.8h1M150.8 429.6h1M149.6 430.8h1M153.3 427.5h1M140.5 431.7h1M152.8 427.5h1M153.5 427.1h1M148.5 429.4h1M151.4 424.6h1M145.9 428.7h1M152.8 421.8h1M140.6 432.1h1M151.0 432.6h1M143.3 428.6h1M148.0 428.8h1M158.2 427.9h1M145.9 430.8h1M144.9 429.3h1M151.9 427.8h1M147.0 430.7h1M150.7 426.9h1M149.7 425.1h1M154.7 426.4h1M153.4 429.9h1M146.7 427.5h1M151.1 428.5h1M150.1 429.0h1M153.4 422.6h1M147.6 423.7h1M149.6 426.4h1M154.0 426.2h1M150.7 429.4h1M154.1 423.4h1M147.5 428.5h1M159.7 423.8h1M150.2 427.6h1M155.0 425.4h1M152.5 425.5h1M148.3 426.0h1M154.4 424.7h1M153.8 426.8h1M156.0 419.9h1M146.1 425.8h1M150.2 428.7h1M157.9 425.5h1M149.1 428.5h1M140.0 432.0h1M151.1 428.0h1M145.8 426.2h1M147.8 427.7h1M152.8 425.6h1M152.8 427.6h1M145.2 428.4h1M143.1 428.1h1M155.6 424.0h1M160.5 425.0h1M155.6 425.7h1M155.4 427.7h1M151.6 425.6h1M148.3 431.5h1M150.1 426.2h1M147.5 424.5h1M148.5 428.2h1M148.6 426.0h1M153.1 427.1h1M148.8 428.1h1M146.1 430.0h1M146.0 427.6h1M151.7 425.7h1M145.2 432.8h1M158.8 421.0h1M151.7 424.0h1M152.6 423.7h1M154.0 427.0h1M159.7 426.6h1M148.7 429.4h1M148.7 427.3h1M148.5 424.0h1M154.1 421.8h1M149.9 428.2h1M151.6 423.4h1M147.8 429.2h1M156.6 428.4h1M141.8 430.5h1M148.6 429.1h1M142.5 429.1h1M154.6 424.4h1M149.2 425.4h1M156.7 422.4h1M146.4 427.5h1M149.4 431.6h1M152.4 424.7h1M154.0 426.6h1M152.5 426.2h1M153.4 423.7h1M144.9 427.8h1M145.4 429.9h1M160.9 426.3h1M153.3 426.8h1M147.6 425.2h1M153.8 423.0h1M152.6 426.1h1M154.9 425.8h1M151.6 425.5h1M142.3 428.7h1M154.6 427.9h1M158.1 422.7h1M146.3 429.6h1M148.7 432.7h1M152.6 423.2h1M148.2 430.8h1M141.8 429.9h1M144.0 432.2h1M148.8 425.4h1M142.4 428.0h1M138.1 429.7h1M149.7 424.9h1M152.8 425.3h1M146.7 430.9h1M153.3 424.3h1M158.6 424.4h1M153.6 426.3h1M157.0 426.2h1M149.3 428.8h1M149.1 427.7h1M159.4 422.1h1M145.8 427.6h1M148.5 430.2h1M143.0 433.9h1M159.1 423.5h1M152.0 425.8h1M154.5 427.1h1M154.9 427.2h1M160.9 423.5h1M154.6 425.4h1M151.2 427.2h1M150.8 427.6h1M146.7 427.8h1M148.0 425.4h1M147.5 426.9h1M150.3 423.9h1M149.7 424.9h1M146.9 428.4h1M156.7 425.7h1M148.6 426.7h1M157.9 421.5h1M156.8 422.0h1M147.8 427.9h1M149.9 430.5h1M153.6 425.9h1M155.9 425.4h1M147.0 430.3h1M158.7 427.1h1M145.1 432.5h1M148.9 429.0h1M157.1 429.8h1M142.8 427.2h1M157.1 426.0h1M149.5 421.3h1M153.3 425.7h1M137.8 436.2h1M138.3 429.5h1M151.0 427.3h1M154.9 425.1h1M146.5 427.4h1M140.3 427.7h1M161.1 422.4h1M150.6 430.8h1M156.4 425.4h1M154.8 425.1h1M146.4 430.2h1M151.7 429.8h1M149.7 426.4h1M152.8 425.9h1M149.5 425.5h1M152.3 427.1h1M160.4 423.9h1M142.1 430.4h1M147.0 427.7h1M136.5 430.5h1M150.1 424.0h1M154.0 424.1h1M141.6 428.2h1M154.3 429.7h1M157.4 425.3h1M148.4 427.1h1M156.0 424.3h1M153.2 428.1h1M146.4 427.0h1M153.3 426.1h1M150.4 425.9h1M150.7 430.7h1M158.0 421.4h1M151.3 426.9h1M151.2 423.9h1M150.4 427.3h1M147.6 428.5h1M138.6 427.5h1M151.6 427.4h1M150.2 426.1h1M152.0 428.7h1M155.6 425.3h1M148.7 429.7h1M153.8 427.8h1M149.6 425.5h1M152.0 425.2h1M156.9 426.8h1M139.9 431.5h1M157.9 426.9h1M148.6 425.8h1M156.0 427.4h1M151.4 424.4h1M143.3 429.7h1M146.8 426.7h1M153.3 428.3h1M140.5 428.6h1M157.7 424.7h1M149.3 428.6h1M145.2 426.1h1M151.2 430.0h1M156.2 425.2h1M156.2 424.4h1M145.0 425.2h1M152.4 428.2h1M153.0 426.2h1M149.0 429.6h1M150.8 423.9h1M158.0 423.4h1M153.1 426.2h1M156.4 425.7h1M157.3 425.4h1M148.7 426.5h1M154.4 424.1h1M155.8 424.9h1M146.3 426.4h1M150.3 430.6h1M155.0 425.7h1M146.4 432.1h1M149.6 427.2h1M148.9 430.2h1M152.0 425.6h1M152.0 424.5h1M145.7 428.1h1M136.4 433.6h1M161.2 421.5h1M150.3 423.8h1M151.9 427.0h1M154.8 422.9h1M148.0 426.4h1M149.8 431.8h1M150.0 427.0h1M148.5 429.2h1M158.9 422.3h1M156.5 425.2h1M157.4 427.0h1M154.4 422.4h1M151.7 425.6h1M153.3 426.2h1M156.4 421.9h1M147.3 427.8h1M152.7 425.5h1M150.9 427.0h1M156.4 425.0h1M152.3 422.7h1M137.7 427.8h1M152.9 421.5h1M153.1 426.0h1M151.1 425.3h1M148.9 429.1h1M152.9 426.2h1M148.6 428.0h1M157.1 424.9h1M149.2 425.0h1M151.6 424.8h1M143.7 430.8h1M147.9 423.6h1M147.4 431.7h1M150.5 424.3h1M145.4 430.0h1M153.1 426.6h1M150.0 428.1h1M158.9 425.4h1M150.2 424.2h1M153.3 429.3h1M154.4 423.2h1M152.0 429.2h1M147.8 428.8h1M157.2 428.3h1M142.9 425.7h1M153.0 427.7h1M149.2 427.3h1M149.0 429.9h1M139.7 430.7h1M144.5 427.4h1M143.2 427.3h1M150.9 426.9h1M160.2 423.6h1M152.8 427.0h1M152.4 429.4h1M151.8 426.9h1M150.5 427.0h1M150.8 428.9h1M151.2 426.9h1M150.8 428.4h1M148.6 429.4h1M148.1 429.1h1M160.9 424.3h1M150.6 424.5h1M154.8 425.7h1M155.7 424.1h1M153.7 429.7h1M153.1 425.5h1M144.4 428.8h1M154.4 427.0h1M145.3 426.4h1M146.0 426.2h1M149.6 427.8h1M160.9 424.2h1M158.5 421.2h1M159.0 426.1h1M153.3 427.8h1M154.2 429.8h1M155.2 422.0h1M142.1 432.8h1M150.6 429.6h1M149.3 426.0h1M149.3 428.0h1M152.0 425.2h1M153.8 427.2h1M146.3 425.9h1M141.0 429.2h1M151.1 425.4h1M148.0 427.5h1M151.2 427.9h1M155.3 426.4h1M156.8 423.1h1M154.2 426.6h1M145.7 427.0h1M153.3 426.3h1M144.6 427.6h1M158.9 426.2h1M151.5 429.4h1M146.4 427.8h1M156.0 424.6h1M145.3 429.7h1M159.3 419.1h1M151.8 424.0h1M149.5 424.4h1M151.3 425.3h1M146.0 427.4h1M152.1 430.1h1M152.5 429.6h1M145.6 428.6h1M148.8 424.3h1M152.3 424.9h1M148.1 425.6h1M156.3 424.4h1M150.3 427.4h1M144.8 429.2h1M150.2 428.0h1M149.1 427.5h1M153.7 428.0h1M147.5 429.9h1M146.0 427.9h1M151.7 426.9h1M138.2 428.6h1M150.1 429.0h1M147.4 431.0h1M141.8 429.7h1M153.8 426.0h1M152.4 428.3h1M146.9 429.3h1M156.5 424.7h1M139.2 427.9h1M146.7 425.9h1M153.3 424.5h1M144.3 428.2h1M158.9 425.8h1M145.8 430.5h1M148.6 432.1h1M148.2 428.9h1M154.0 425.0h1M150.3 429.4h1M153.6 425.9h1M153.3 429.7h1M155.8 426.3h1M152.7 423.1h1M151.7 425.6h1M154.8 424.4h1M153.4 423.9h1M155.7 423.9h1M150.9 428.0h1M149.4 427.3h1M156.5 428.8h1M141.8 427.7h1M154.5 427.7h1M148.6 427.7h1M150.1 431.8h1M150.0 424.7h1M143.1 426.6h1M157.7 424.0h1M161.1 425.1h1M153.0 427.5h1M155.1 427.5h1M146.0 427.2h1M148.2 427.9h1M149.8 424.7h1M147.5 431.5h1M153.0 426.1h1M146.7 429.6h1M150.7 430.3h1M153.4 425.5h1M137.4 430.7h1M155.4 424.0h1M155.6 426.8h1M142.0 429.1h1M152.7 427.9h1M151.8 426.5h1M149.3 426.7h1M151.1 424.6h1M154.3 425.1h1M153.7 425.0h1M153.2 426.4h1M155.6 426.4h1M155.8 425.0h1M150.8 426.3h1M144.6 428.5h1M156.6 426.7h1M135.2 432.4h1M147.1 425.1h1M144.1 431.2h1M147.1 430.6h1M128.7 425.5h1M156.3 427.0h1M151.0 433.4h1M142.2 426.5h1M151.7 428.9h1M145.4 431.6h1M148.6 432.9h1M131.0 427.2h1M142.6 430.4h1M147.3 429.2h1M140.2 437.6h1M151.7 433.0h1M149.2 426.7h1M140.9 430.4h1M133.4 428.7h1M142.7 426.2h1M145.6 431.5h1M139.8 429.6h1M146.0 431.5h1M144.3 426.0h1M129.5 439.2h1M136.7 430.0h1M128.0 429.7h1M136.1 434.0h1M122.0 428.6h1M138.5 429.3h1M135.8 429.8h1M129.9 433.1h1M150.4 429.7h1M137.6 435.3h1M145.2 426.5h1M137.3 429.0h1M141.2 434.6h1M136.3 430.8h1M142.4 426.4h1M138.0 433.1h1M149.9 423.0h1M146.8 428.8h1M151.1 431.2h1M156.1 429.4h1M138.6 428.1h1M130.9 433.9h1M145.4 432.7h1M144.1 425.1h1M138.5 430.1h1M142.7 432.9h1M152.1 430.0h1M126.3 429.3h1M125.7 430.2h1M132.7 432.6h1M139.9 434.5h1M149.5 427.8h1M148.6 429.5h1M144.9 434.6h1M133.0 431.5h1M153.0 426.3h1M143.1 430.7h1M138.5 426.5h1M136.5 427.9h1M149.6 430.2h1M146.8 425.7h1M145.3 430.4h1M149.3 427.0h1M147.6 434.3h1M154.9 425.4h1M133.2 426.8h1M148.7 431.5h1M144.1 427.2h1M150.8 434.6h1M141.3 430.1h1M150.4 430.9h1M151.5 427.7h1M144.1 429.0h1M137.3 430.1h1M139.5 432.5h1M139.3 431.1h1M135.6 427.2h1M152.1 425.7h1M155.0 431.7h1M124.6 430.8h1M138.5 431.0h1M140.2 428.7h1M150.8 428.7h1M148.7 427.2h1M136.4 435.7h1M139.5 427.1h1M140.3 434.2h1M140.4 428.3h1M146.3 433.1h1M140.0 429.7h1M140.2 436.6h1M140.5 432.0h1M126.5 433.3h1M141.9 429.4h1M138.5 426.4h1M130.5 432.6h1M136.8 430.9h1M140.2 429.0h1M136.2 437.5h1M133.4 430.0h1M139.4 426.9h1M134.5 434.4h1M148.5 430.0h1M150.7 426.4h1M149.6 435.0h1M138.8 437.0h1M135.6 427.6h1M141.2 427.8h1M146.3 426.1h1M142.2 423.8h1M141.3 434.1h1M139.6 431.8h1M149.6 425.7h1M132.2 432.1h1M143.6 429.3h1M134.4 435.6h1M133.0 430.9h1M141.3 433.0h1M138.3 428.2h1M156.5 425.5h1M147.5 429.1h1M138.0 430.9h1M139.7 431.8h1M122.7 433.1h1M142.1 427.2h1M138.7 438.8h1M155.2 430.7h1M143.3 429.2h1M151.9 427.5h1M135.5 433.7h1M134.4 428.9h1M152.3 423.6h1M141.1 431.0h1M143.5 425.3h1M139.9 429.6h1M155.8 431.8h1M136.0 434.2h1M146.4 429.4h1M139.8 429.8h1M130.2 430.0h1M148.5 434.3h1M155.3 427.3h1M146.1 421.8h1M139.6 426.6h1M147.7 424.1h1M133.9 427.9h1M144.5 432.9h1M134.8 437.5h1M142.8 427.5h1M144.2 430.1h1M147.7 430.8h1M157.8 432.1h1M136.9 433.8h1M147.2 426.3h1M136.0 428.6h1M123.3 435.3h1M140.0 434.9h1M137.5 431.3h1M147.0 433.0h1M144.0 426.7h1M157.9 431.1h1M151.7 434.5h1M152.0 430.4h1M145.1 432.1h1M130.5 434.8h1M134.4 432.9h1M134.1 434.0h1M138.0 439.3h1M143.0 432.0h1M134.9 430.5h1M141.2 429.6h1M138.4 428.0h1M147.2 428.4h1M135.6 432.6h1M135.6 430.8h1M137.8 427.9h1M139.9 428.0h1M132.3 433.0h1M139.4 425.9h1M138.7 431.5h1M144.8 431.3h1M143.5 432.2h1M138.0 428.3h1M146.1 428.5h1M141.7 432.7h1M148.5 433.6h1M136.5 430.0h1M145.7 425.1h1M132.3 433.9h1M137.1 428.1h1M147.5 431.4h1M148.4 428.4h1M139.5 429.7h1M143.8 423.4h1M136.5 433.6h1M135.8 431.1h1M142.5 432.1h1M138.1 427.2h1M160.0 425.4h1M154.2 422.8h1M142.4 429.7h1M155.6 435.3h1M148.8 426.1h1M135.7 428.8h1M137.8 431.9h1M135.8 430.5h1M137.2 434.9h1M133.2 431.3h1M137.3 429.1h1M137.5 431.9h1M140.0 430.1h1M134.1 431.4h1M134.9 430.1h1M135.4 429.1h1M139.2 435.0h1M136.6 432.5h1M132.3 430.2h1M135.6 430.4h1M130.9 433.5h1M136.5 431.8h1M132.7 432.9h1M133.3 431.8h1M137.5 435.1h1M140.3 431.2h1M142.5 429.7h1M135.8 436.8h1M148.2 433.4h1M134.9 431.9h1M130.7 432.6h1M134.6 430.8h1M142.4 430.8h1M144.8 435.4h1M139.7 431.3h1M134.2 427.2h1M138.0 432.2h1M138.5 431.1h1M139.0 428.7h1M126.0 434.4h1M141.8 423.9h1M142.9 432.0h1M135.8 428.5h1M131.8 435.1h1M133.1 432.9h1M135.9 438.8h1M140.9 429.2h1M134.3 429.7h1M129.9 431.0h1M142.0 433.1h1M139.9 432.6h1M134.6 433.2h1M136.3 438.6h1M145.3 434.1h1M139.5 427.2h1M132.8 435.4h1M142.5 431.9h1M135.5 431.7h1M140.5 433.1h1M143.9 436.4h1M135.1 431.2h1M135.5 430.5h1M134.6 432.8h1M140.9 428.4h1M129.9 430.8h1M135.2 434.3h1M132.8 437.4h1M134.1 432.4h1M256.2 275.4h1M257.7 268.3h1M252.4 271.5h1M258.4 265.9h1M255.7 258.7h1M252.5 277.1h1M264.7 264.6h1M242.3 285.4h1M254.8 283.9h1M253.2 275.8h1M252.0 278.4h1M263.1 259.7h1M264.0 281.4h1M254.4 262.8h1M257.6 265.9h1M246.4 267.3h1M257.4 259.7h1M262.6 268.5h1M254.7 277.4h1M250.0 275.4h1M247.3 271.0h1M259.8 264.2h1M255.1 273.0h1M265.4 272.0h1M258.7 266.2h1M246.8 282.7h1M267.6 251.6h1M261.3 266.3h1M260.3 268.8h1M254.6 269.5h1M255.6 275.6h1M254.2 266.6h1M259.9 270.8h1M258.5 269.3h1M265.0 271.1h1M257.1 267.2h1M259.9 256.6h1M252.6 266.5h1M256.9 266.3h1M271.2 266.2h1M258.3 280.5h1M255.8 267.2h1M263.5 270.2h1M261.6 273.2h1M253.5 266.3h1M251.3 271.6h1M262.1 260.2h1M252.5 262.9h1M268.3 267.9h1M257.2 261.5h1M249.4 268.2h1M256.0 261.7h1M254.4 276.5h1M255.9 269.5h1M242.7 273.3h1M254.9 265.5h1M247.2 272.5h1M249.4 268.8h1M245.8 272.9h1M261.5 261.7h1M257.8 259.5h1M259.4 270.4h1M253.4 275.1h1M250.3 271.7h1M266.3 264.1h1M248.8 278.7h1M259.2 265.9h1M244.5 263.4h1M246.3 281.6h1M257.6 263.3h1M263.0 274.0h1M250.5 274.1h1M245.5 275.7h1M267.2 255.9h1M256.2 265.2h1M255.2 269.7h1M257.6 273.2h1M259.0 273.5h1M262.1 272.3h1M251.6 273.2h1M253.5 265.3h1M268.0 265.1h1M256.1 256.9h1M254.4 274.0h1M254.5 266.5h1M265.0 263.1h1M253.7 269.3h1M254.3 275.6h1M259.4 267.0h1M253.6 268.7h1M266.4 262.5h1M259.9 258.2h1M257.8 272.0h1M263.7 267.2h1M259.4 269.2h1M262.5 277.6h1M257.1 263.8h1M259.5 266.7h1M259.8 271.6h1M256.8 266.1h1M257.7 261.1h1M257.5 263.2h1M258.6 268.4h1M254.5 262.8h1M256.1 265.0h1M254.9 273.3h1M261.7 259.0h1M261.6 274.1h1M262.8 267.4h1M255.3 279.1h1M253.8 261.2h1M256.4 270.3h1M249.4 265.0h1M268.1 264.1h1M260.7 263.5h1M246.4 272.2h1M264.2 261.4h1M244.7 273.0h1M254.1 269.9h1M249.3 270.1h1M252.4 275.5h1M256.8 273.5h1M255.5 257.0h1M243.7 277.5h1M261.3 271.5h1M255.4 259.1h1M252.8 272.6h1M264.4 263.2h1M252.3 266.2h1M262.2 271.0h1M244.5 281.0h1M250.1 263.2h1M245.9 269.3h1M270.2 277.0h1M248.1 268.6h1M256.8 270.9h1M252.8 261.3h1M253.3 266.3h1M244.7 274.8h1M246.7 263.2h1M265.3 270.1h1M264.8 265.6h1M253.3 269.6h1M247.3 277.0h1M257.5 266.5h1M244.2 273.6h1M265.9 272.6h1M261.3 264.5h1M256.7 271.7h1M257.0 274.4h1M251.7 257.7h1M240.7 270.6h1M247.2 276.6h1M262.5 266.0h1M259.2 267.9h1M256.9 265.8h1M253.3 276.8h1M254.2 269.5h1M263.3 271.2h1M253.4 271.5h1M249.5 272.5h1M257.8 268.1h1M256.8 270.6h1M240.1 271.4h1M256.3 266.0h1M249.8 270.3h1M265.8 263.2h1M251.8 268.1h1M248.4 275.0h1M249.7 276.9h1M261.5 269.7h1M262.3 265.6h1M244.9 273.5h1M259.8 258.4h1M248.2 278.6h1M258.6 275.4h1M260.0 267.5h1M258.5 272.6h1M255.7 267.9h1M257.8 266.3h1M270.8 257.9h1M246.4 265.9h1M262.4 263.7h1M256.8 267.3h1M257.6 260.0h1M256.4 265.5h1M262.6 269.4h1M248.0 267.0h1M259.4 274.2h1M260.6 265.9h1M262.8 252.5h1M252.5 264.9h1M249.4 275.1h1M257.6 269.8h1M255.0 272.9h1M260.7 263.5h1M261.7 261.1h1M266.8 256.6h1M254.0 263.6h1M256.1 276.3h1M251.1 281.2h1M264.7 267.2h1M252.1 275.8h1M237.9 272.7h1M261.9 266.0h1M271.4 258.1h1M247.5 271.5h1M259.5 277.0h1M244.8 274.8h1M263.8 261.6h1M253.0 263.4h1M260.6 271.5h1M259.5 268.7h1M262.1 265.5h1M260.3 271.6h1M264.0 268.2h1M256.4 272.7h1M246.1 263.3h1M266.0 265.2h1M249.2 268.6h1M254.9 269.8h1M251.0 276.8h1M245.1 289.8h1M249.0 281.5h1M260.0 257.5h1M248.1 272.8h1M257.6 265.8h1M255.9 269.9h1M248.6 272.6h1M270.2 258.8h1M249.4 275.6h1M264.3 271.1h1M251.8 270.3h1M257.1 267.2h1M258.4 274.0h1M259.3 267.3h1M254.6 279.8h1M248.0 283.9h1M260.5 267.4h1M251.1 281.6h1M263.5 270.7h1M269.1 252.8h1M256.5 266.9h1M251.2 271.5h1M259.2 270.4h1M255.0 261.8h1M259.4 270.8h1M269.3 268.2h1M255.9 262.4h1M273.2 257.3h1M257.1 272.7h1M259.0 275.1h1M249.3 268.0h1M256.9 261.4h1M251.9 278.6h1M257.7 267.5h1M252.2 270.9h1M255.6 262.9h1M260.9 259.4h1M264.0 263.3h1M241.2 266.6h1M257.7 263.1h1M267.4 271.7h1M269.3 268.0h1M264.5 261.6h1M264.2 262.7h1M255.5 261.3h1M256.2 271.1h1M255.4 262.8h1M261.6 271.6h1M255.3 273.7h1M262.2 260.5h1M255.6 258.4h1M249.2 274.4h1M250.2 273.8h1M258.2 256.1h1M252.7 279.1h1M255.9 269.6h1M251.3 261.8h1M245.6 290.1h1M254.6 264.5h1M256.6 257.5h1M264.9 274.8h1M251.0 273.0h1M250.0 276.5h1M250.4 270.6h1M264.3 268.2h1M253.7 261.1h1M245.5 280.5h1M259.1 267.8h1M264.0 266.2h1M251.1 270.5h1M255.2 269.2h1M272.0 265.0h1M257.6 266.7h1M251.4 265.2h1M243.7 271.8h1M246.0 262.7h1M249.7 260.0h1M264.7 272.2h1M249.6 283.6h1M260.1 252.4h1M256.0 263.1h1M244.5 272.5h1M263.3 268.2h1M246.3 269.4h1M250.9 277.8h1M255.2 263.6h1M249.9 260.2h1M250.3 276.6h1M243.4 275.7h1M255.1 274.0h1M248.4 277.6h1M265.9 277.7h1M245.2 273.6h1M254.4 270.3h1M249.4 276.8h1M271.1 270.8h1M249.6 268.4h1M260.6 267.6h1M250.8 278.4h1M259.2 273.4h1M254.7 276.9h1M252.8 263.9h1M255.8 260.9h1M264.0 269.6h1M244.8 274.9h1M261.3 264.4h1M258.5 264.4h1M255.3 268.7h1M259.0 261.9h1M248.4 274.2h1M252.5 273.5h1M252.5 262.8h1M260.6 268.4h1M260.6 264.9h1M253.4 277.4h1M244.8 284.1h1M259.1 267.1h1M256.4 272.2h1M250.8 272.9h1M249.6 261.0h1M257.1 269.0h1M260.0 270.3h1M260.4 271.5h1M248.9 279.2h1M273.3 257.8h1M247.6 276.7h1M261.8 272.2h1M265.8 256.4h1M258.2 270.6h1M263.9 260.1h1M255.9 266.8h1M254.7 268.6h1M254.8 259.1h1M255.5 269.5h1M253.3 249.5h1M251.2 267.2h1M250.1 280.9h1M261.8 265.2h1M259.7 286.4h1M249.4 274.6h1M251.9 279.4h1M263.0 265.0h1M259.8 262.5h1M245.4 278.6h1M266.5 262.4h1M252.3 260.1h1M269.8 255.7h1M249.4 270.7h1M263.7 265.7h1M255.6 269.2h1M261.3 266.3h1M256.8 268.1h1M248.5 280.1h1M251.2 263.3h1M252.9 270.5h1M261.1 258.0h1M247.5 273.8h1M258.3 261.5h1M248.4 273.3h1M254.8 260.0h1M250.0 280.2h1M248.8 278.2h1M245.8 282.2h1M266.2 260.6h1M251.3 274.7h1M247.7 275.9h1M263.7 266.9h1M257.9 267.1h1M262.3 261.3h1M266.2 264.2h1M253.6 260.4h1M252.9 271.7h1M263.9 255.9h1M254.9 265.4h1M247.9 272.5h1M250.8 276.3h1M238.1 281.2h1M243.3 263.2h1M259.2 265.5h1M256.6 263.0h1M248.9 267.8h1M255.4 264.3h1M253.0 265.2h1M257.3 261.7h1M242.2 259.8h1M255.6 269.6h1M262.0 261.9h1M248.3 263.7h1M260.7 263.1h1M262.2 265.6h1M254.0 259.0h1M251.3 275.6h1M251.8 274.7h1M245.0 279.7h1M273.9 267.3h1M257.9 260.9h1M252.3 266.7h1M257.0 256.7h1M250.1 276.1h1M256.7 272.9h1M261.3 259.8h1M247.0 275.7h1M256.0 269.4h1M250.4 277.3h1M259.0 274.2h1M253.4 274.1h1M255.4 263.7h1M255.2 259.6h1M254.6 270.6h1M260.3 260.8h1M247.1 268.6h1M242.2 271.3h1M272.8 262.2h1M250.8 267.3h1M267.3 257.0h1M255.0 268.9h1M251.0 267.0h1M244.8 269.0h1M264.2 273.4h1M253.9 273.9h1M258.8 268.3h1M254.9 276.5h1M259.5 266.0h1M254.2 275.1h1M251.9 266.6h1M254.0 266.9h1M264.0 267.4h1M255.2 266.2h1M265.0 267.4h1M269.3 268.2h1M254.3 266.4h1M253.9 270.9h1M260.9 269.5h1M266.0 255.5h1M255.9 260.6h1M249.0 268.5h1M251.5 265.3h1M245.8 280.1h1M253.7 275.6h1M248.5 258.7h1M251.9 275.9h1M252.1 272.9h1M248.7 280.3h1M258.6 273.8h1M253.9 277.3h1M256.2 265.9h1M251.6 271.2h1M249.8 264.7h1M256.6 272.8h1M253.9 274.7h1M266.1 257.0h1M257.4 262.6h1M251.5 271.9h1M240.3 279.5h1M261.2 269.7h1M260.0 277.7h1M253.4 276.4h1M265.2 267.6h1M244.1 273.3h1M253.8 260.4h1M255.4 273.6h1M254.1 268.7h1M265.3 261.1h1M249.6 272.0h1M263.1 269.2h1M256.2 265.9h1M263.8 270.5h1M244.4 276.0h1M240.1 284.8h1M259.7 263.5h1M247.3 271.0h1M244.3 277.4h1M252.4 260.2h1M255.6 275.9h1M247.5 270.7h1M267.6 264.7h1M252.1 271.7h1M260.8 260.9h1M255.1 259.8h1M245.4 264.7h1M261.2 268.3h1M260.5 273.9h1M256.0 270.2h1M258.4 270.5h1M248.8 270.5h1M254.8 269.6h1M250.9 270.4h1M257.6 269.2h1M259.6 272.0h1M259.4 273.0h1M261.2 274.6h1M259.8 263.6h1M270.9 268.7h1M263.9 269.6h1M256.1 262.2h1M258.6 265.6h1M253.1 257.7h1M265.8 257.7h1M248.6 274.9h1M259.4 262.7h1M255.7 270.5h1M256.8 271.6h1M260.8 264.6h1M245.2 286.3h1M253.2 264.4h1M260.6 270.2h1M251.7 284.5h1M240.4 283.3h1M255.5 270.9h1M257.8 266.7h1M257.8 260.5h1M253.1 280.9h1M238.9 283.7h1M241.2 270.6h1M261.5 264.0h1M252.0 262.0h1M255.0 268.3h1M251.6 261.8h1M256.8 271.0h1M263.2 268.6h1M265.7 271.5h1M237.3 287.0h1M255.1 263.2h1M258.6 273.3h1M245.6 266.4h1M260.2 263.8h1M265.3 266.0h1M252.2 262.9h1M259.6 257.2h1M247.2 265.2h1M266.8 273.9h1M254.3 267.4h1M260.3 274.2h1M250.5 284.2h1M254.4 276.2h1M240.3 275.6h1M251.2 282.6h1M254.3 262.2h1M268.5 259.3h1M255.7 261.7h1M260.2 268.1h1M253.9 267.5h1M252.0 266.5h1M246.6 280.2h1M261.6 258.3h1M248.1 274.8h1M270.5 261.2h1M253.7 268.5h1M257.4 267.2h1M262.8 271.5h1M259.3 276.6h1M254.2 266.5h1M275.2 249.0h1M245.6 259.9h1M258.1 261.7h1M262.7 253.7h1M254.8 267.1h1M248.7 278.7h1M253.1 272.8h1M252.3 271.4h1M252.8 270.7h1M255.1 265.3h1M258.6 266.6h1M249.4 265.7h1M258.6 275.4h1M247.2 270.4h1M258.7 273.7h1M260.4 260.0h1M256.0 274.1h1M257.3 267.0h1M248.0 273.4h1M255.3 269.4h1M265.6 271.5h1M250.6 272.7h1M253.7 270.5h1M266.4 269.5h1M256.0 265.0h1M254.7 271.6h1M252.5 276.9h1M255.9 262.0h1M254.0 269.1h1M262.2 272.6h1M265.3 273.8h1M257.8 268.7h1M262.4 265.9h1M247.5 270.1h1M260.1 270.6h1M248.5 279.2h1M257.8 259.3h1M258.8 273.5h1M259.2 265.6h1M250.5 277.9h1M257.2 268.3h1M253.1 264.2h1M243.5 272.5h1M263.0 270.2h1M251.3 279.9h1M254.3 263.8h1M267.9 276.8h1M254.8 258.0h1M259.1 280.5h1M261.2 260.4h1M265.3 261.3h1M270.6 261.0h1M278.0 258.9h1M260.4 258.9h1M246.3 273.9h1M261.9 258.2h1M263.9 262.4h1M253.3 268.4h1M262.3 272.7h1M270.3 267.4h1M251.6 263.6h1M262.1 256.2h1M256.9 264.7h1M257.6 269.3h1M268.5 278.8h1M267.0 273.8h1M248.4 279.3h1M270.9 252.3h1M282.6 255.8h1M235.8 289.2h1M259.2 260.4h1M253.1 278.3h1M261.0 263.6h1M269.5 256.3h1M250.5 265.0h1M251.4 275.5h1M256.4 259.1h1M254.2 251.6h1M260.1 267.9h1M264.4 263.8h1M262.3 258.4h1M258.8 268.8h1M247.0 275.8h1M259.9 267.6h1M254.0 286.0h1M258.6 260.9h1M250.5 274.9h1M256.5 261.3h1M251.7 277.5h1M259.4 276.3h1M258.4 257.4h1M266.8 267.9h1M252.3 266.6h1M249.3 277.3h1M254.6 272.7h1M261.0 264.6h1M262.1 264.4h1M247.3 267.1h1M247.3 277.2h1M264.7 260.7h1M264.4 267.9h1M267.8 256.8h1M258.8 258.9h1M252.0 281.1h1M239.4 265.1h1M263.2 272.8h1M251.1 252.2h1M242.2 275.3h1M269.0 272.3h1M251.6 281.1h1M256.8 273.3h1M256.7 281.7h1M253.6 250.5h1M255.6 270.0h1M261.2 260.6h1M256.3 258.4h1M256.3 268.9h1M260.8 281.0h1M239.5 277.3h1M262.7 256.4h1M259.2 267.2h1M249.0 276.4h1M276.7 268.1h1M265.9 274.5h1M257.3 276.2h1M250.9 271.2h1M265.2 276.8h1M255.8 265.8h1M263.0 265.6h1M259.8 274.0h1M251.3 277.1h1M262.1 264.2h1M246.7 265.5h1M258.1 275.7h1M239.9 278.9h1M260.4 257.3h1M266.7 268.6h1M262.7 258.0h1M248.1 278.2h1M271.8 266.8h1M256.7 264.2h1M242.3 280.5h1M257.6 278.3h1M251.7 278.4h1M251.8 274.4h1M271.5 257.8h1M267.1 265.0h1M249.7 271.7h1M264.6 259.7h1M256.0 263.4h1M251.3 267.8h1M266.3 261.1h1M270.3 260.9h1M252.0 278.5h1M271.8 258.2h1M264.1 256.0h1M254.7 265.4h1M265.2 254.9h1M253.7 263.0h1M259.5 256.8h1M245.9 295.1h1M260.6 254.1h1M266.4 254.1h1M240.8 286.7h1M270.3 257.0h1M248.3 274.4h1M242.8 309.2h1M244.3 304.1h1M241.1 310.8h1M243.3 312.2h1M244.9 307.6h1M241.8 306.6h1M242.7 312.9h1M241.4 311.6h1M241.6 305.8h1M241.8 305.3h1M243.1 309.4h1M242.9 310.7h1M246.1 308.6h1M242.2 307.3h1M243.6 306.6h1M245.3 312.5h1M246.5 310.0h1M240.1 307.5h1M244.7 304.8h1M242.9 311.5h1M243.9 303.6h1M242.9 295.9h1M243.7 303.2h1M243.7 303.3h1M242.5 306.0h1M247.5 303.3h1M242.1 305.9h1M245.2 311.1h1M244.7 306.7h1M243.9 305.0h1M243.5 304.8h1M241.8 304.1h1M246.4 309.5h1M242.7 307.6h1M243.1 312.8h1M243.7 305.5h1M244.7 309.2h1M242.8 305.0h1M243.9 301.6h1M242.5 311.9h1M244.9 312.4h1M243.1 305.7h1M243.4 306.1h1M245.5 307.1h1M245.6 305.2h1M244.3 314.3h1M242.7 305.4h1M242.9 301.7h1M243.3 305.5h1M246.7 306.1h1M240.8 311.7h1M245.0 307.8h1M244.1 310.8h1M243.0 308.1h1M243.9 314.5h1M245.7 308.6h1M241.9 311.4h1M243.7 312.6h1M243.8 308.7h1M244.6 305.1h1M242.8 317.0h1M242.6 311.6h1M244.7 311.2h1M245.6 302.7h1M245.0 299.9h1M243.8 309.3h1M245.1 312.2h1M242.5 306.9h1M243.5 305.3h1M242.6 305.4h1M245.3 313.3h1M244.8 314.6h1M243.9 303.7h1M242.8 308.8h1M245.1 312.7h1M242.5 311.7h1M243.0 310.3h1M245.0 313.8h1M243.0 308.9h1M244.3 306.3h1M243.9 310.3h1M241.5 305.5h1M246.9 309.8h1M243.0 300.8h1M242.4 310.0h1M244.7 309.7h1M244.5 305.6h1M245.9 303.6h1M244.4 306.9h1M241.4 311.5h1M243.4 310.8h1M245.5 308.6h1M242.8 307.1h1M243.6 313.7h1M244.9 314.2h1M244.8 305.0h1M245.0 311.8h1M243.6 309.8h1M243.3 303.0h1M243.6 311.0h1M243.2 299.2h1M242.6 312.3h1M244.0 312.4h1M242.7 306.3h1M242.4 304.9h1M244.4 308.5h1M243.1 309.2h1M242.0 306.5h1M241.7 302.1h1M241.9 303.7h1M245.9 313.4h1M245.4 305.7h1M244.6 303.5h1M243.0 308.9h1M241.6 308.8h1M244.6 299.9h1M240.4 306.9h1M243.6 308.6h1M242.2 310.2h1M243.9 305.1h1M246.0 309.0h1M244.7 315.3h1M243.1 307.1h1M241.4 307.1h1M244.3 317.9h1M244.5 308.8h1M242.0 304.6h1M241.2 302.6h1M243.9 309.2h1M242.5 307.1h1M242.6 310.4h1M244.6 305.8h1M243.1 303.2h1M243.1 316.6h1M243.7 311.4h1M244.5 313.8h1M243.3 304.4h1M245.1 311.6h1M242.8 312.3h1M243.7 307.8h1M246.2 310.1h1M244.2 306.7h1M244.0 312.2h1M244.3 305.0h1M244.3 307.5h1M244.1 307.2h1M240.7 301.6h1M243.2 299.3h1M241.7 316.0h1M244.7 306.2h1M244.2 299.1h1M244.1 311.9h1M244.0 302.8h1M245.0 305.9h1M242.9 308.8h1M243.3 316.1h1M243.5 316.5h1M244.3 303.1h1M243.7 308.2h1M245.7 313.1h1M247.2 305.4h1M243.1 317.2h1M242.5 309.4h1M245.9 304.0h1M243.3 305.0h1M244.4 309.6h1M243.7 310.6h1M242.7 306.5h1M244.4 316.0h1M243.7 308.2h1M245.5 308.3h1M245.5 308.9h1M245.3 308.7h1M242.5 304.6h1M244.3 315.5h1M246.3 306.7h1M247.2 303.6h1M242.6 311.7h1M241.6 311.6h1M244.2 310.5h1M242.1 309.5h1M245.0 307.8h1M245.1 308.1h1M244.2 306.7h1M241.9 307.4h1M244.4 305.0h1M241.1 301.8h1M245.5 307.1h1M242.7 312.9h1M243.5 302.0h1M243.1 304.5h1M243.5 304.4h1M243.8 309.8h1M242.9 307.2h1M243.5 311.3h1M242.7 311.0h1M245.4 307.2h1M242.4 306.8h1M241.3 305.8h1M242.1 307.3h1M243.2 310.1h1M243.9 309.7h1M243.7 309.1h1M242.2 310.6h1M245.5 312.4h1M241.9 309.7h1M241.5 311.0h1M243.4 306.2h1M242.7 307.1h1M243.7 304.2h1M243.8 309.0h1M244.5 307.8h1M243.7 317.2h1M245.1 309.3h1M241.8 310.5h1M244.5 297.4h1M243.5 309.5h1M243.8 308.4h1M243.5 313.5h1M244.3 306.9h1M243.4 316.3h1M242.5 305.9h1M244.2 308.6h1M244.1 313.4h1M245.3 309.7h1M243.8 307.8h1M243.4 312.0h1M242.0 303.8h1M243.1 304.2h1M242.7 312.8h1M240.6 310.3h1M241.9 307.0h1M242.9 304.0h1M241.7 308.3h1M239.6 299.5h1M243.2 312.4h1M246.3 306.8h1M242.6 306.9h1M244.4 311.7h1M242.4 309.9h1M243.7 312.6h1M243.2 307.2h1M242.6 302.7h1M244.1 310.8h1M245.3 309.1h1M243.1 304.3h1M242.1 305.1h1M244.2 308.4h1M240.6 307.6h1M243.3 303.8h1M243.7 310.1h1M242.3 302.6h1M243.3 309.1h1M243.4 314.2h1M243.9 304.0h1M244.8 305.4h1M244.7 308.4h1M245.4 304.0h1M244.7 309.7h1M242.5 310.8h1M246.9 309.4h1M242.7 307.4h1M245.5 309.0h1M245.8 305.4h1M245.5 301.7h1M243.5 306.8h1M243.1 312.9h1M242.9 309.4h1M246.3 311.3h1M243.2 305.1h1M241.0 309.5h1M245.0 312.4h1M244.1 316.6h1M244.8 298.8h1M242.5 311.2h1M243.2 311.4h1M247.3 305.0h1M246.8 307.7h1M241.7 308.4h1M245.0 305.7h1M245.9 304.5h1M243.5 311.7h1M243.4 305.8h1M243.7 310.6h1M246.1 313.4h1M246.3 307.9h1M241.4 307.8h1M243.2 304.0h1M243.0 307.7h1M243.8 311.7h1M242.5 312.6h1M243.8 310.9h1M245.5 303.0h1M246.0 305.1h1M244.3 312.4h1M245.0 301.7h1M244.0 312.5h1M243.6 307.7h1M243.8 314.6h1M243.0 304.2h1M242.2 305.9h1M243.4 309.4h1M243.6 301.1h1M241.5 310.7h1M244.8 302.6h1M245.1 298.3h1M247.0 310.4h1M241.4 310.0h1M243.7 306.2h1M243.2 307.1h1M243.6 304.4h1M243.0 310.2h1M244.5 302.7h1M243.1 314.3h1M244.7 314.6h1M241.9 303.8h1M240.7 300.2h1M243.2 303.8h1M242.2 305.2h1M243.5 311.3h1M244.5 301.0h1M245.8 306.7h1M242.3 307.9h1M243.2 302.4h1M245.9 305.7h1M242.9 310.2h1M246.1 309.9h1M242.5 309.8h1M245.3 309.5h1M244.7 306.1h1M243.7 301.3h1M242.7 303.4h1M243.8 314.0h1M240.6 302.7h1M242.4 307.6h1M245.4 304.9h1M242.6 312.9h1M244.3 310.1h1M244.9 305.0h1M244.1 305.4h1M242.7 308.5h1M244.4 302.9h1M242.7 310.4h1M244.0 310.7h1M243.3 304.8h1M244.8 310.4h1M239.8 311.5h1M242.7 310.7h1M246.0 306.9h1M242.4 309.0h1M243.9 310.3h1M241.8 309.0h1M245.0 310.8h1M244.6 312.8h1M242.6 312.9h1M244.0 304.0h1M243.3 309.1h1M244.2 313.4h1M244.0 306.0h1M246.8 306.7h1M242.6 311.7h1M243.2 304.8h1M242.3 312.8h1M242.3 308.4h1M243.1 307.2h1M242.6 308.6h1M244.6 312.2h1M243.2 303.3h1M241.7 308.0h1M240.3 313.3h1M243.8 308.5h1M241.8 305.4h1M242.7 310.7h1M243.2 310.5h1M244.5 300.3h1M243.4 313.1h1M243.0 308.5h1M243.6 303.1h1M246.8 307.5h1M244.6 306.2h1M245.7 312.6h1M245.4 311.8h1M244.7 313.6h1M244.3 308.6h1M244.9 304.4h1M240.2 311.3h1M244.0 305.2h1M243.4 304.2h1M242.6 308.8h1M243.9 311.4h1M243.6 310.6h1M244.7 305.2h1M241.4 305.3h1M243.4 305.9h1M246.9 305.3h1M244.4 305.0h1M244.7 303.0h1M245.1 308.8h1M243.2 303.3h1M246.1 305.7h1M245.8 298.4h1M242.1 315.3h1M246.3 308.1h1M245.2 310.5h1M243.2 308.6h1M242.1 302.7h1M243.9 311.0h1M244.0 303.1h1M244.9 308.4h1M244.8 306.9h1M243.4 312.2h1M245.7 303.2h1M242.2 311.9h1M244.3 308.3h1M242.4 312.1h1M244.0 308.9h1M244.3 306.0h1M244.3 308.6h1M244.8 309.6h1M241.9 305.2h1M243.4 312.7h1M242.8 312.6h1M245.3 311.5h1M246.9 308.0h1M244.2 312.9h1M244.3 312.0h1M243.6 313.7h1M244.2 300.4h1M245.3 307.3h1M242.5 306.9h1M243.4 312.6h1M244.2 307.8h1M243.7 304.5h1M242.9 306.2h1M243.4 303.4h1M243.2 312.1h1M244.4 308.1h1M244.2 307.1h1M242.1 311.6h1M246.9 310.1h1M244.7 317.9h1M242.0 310.2h1M243.3 307.0h1M241.4 307.7h1M244.3 301.7h1M243.4 306.1h1M242.3 310.6h1M246.1 309.7h1M245.2 311.1h1M243.7 310.4h1M245.6 306.4h1M243.5 302.6h1M241.1 304.8h1M245.0 309.5h1M244.1 313.3h1M241.3 313.5h1M243.9 311.1h1M245.7 304.8h1M242.5 309.7h1M243.7 305.7h1M243.6 305.2h1M243.9 306.5h1M246.1 303.9h1M244.6 308.4h1M246.0 304.2h1M243.1 314.9h1M242.8 306.5h1M243.2 304.2h1M245.5 314.1h1M243.5 305.1h1M241.8 310.7h1M243.0 310.2h1M240.4 306.4h1M244.6 309.7h1M239.7 309.2h1M243.9 308.0h1M243.3 306.3h1M244.0 310.1h1M239.3 308.0h1M245.1 307.2h1M245.5 304.4h1M246.4 311.9h1M243.2 319.0h1M245.8 314.3h1M242.1 307.6h1M244.4 312.2h1M243.9 302.9h1M245.5 307.4h1M244.4 306.8h1M243.6 302.6h1M244.7 305.6h1M241.3 309.7h1M243.7 311.9h1M244.9 303.2h1M243.5 308.0h1M243.9 303.9h1M243.9 311.9h1M245.5 313.8h1M244.8 298.1h1M243.4 305.9h1M239.7 314.2h1M245.0 308.0h1M244.3 310.0h1M243.4 313.5h1M246.3 311.3h1M243.0 309.0h1M245.1 310.9h1M242.8 311.8h1M244.8 310.4h1M243.2 307.9h1M241.1 307.9h1M243.1 306.9h1M243.4 306.8h1M243.9 308.4h1M242.9 307.5h1M243.6 310.0h1M244.4 306.6h1M242.6 301.6h1M242.0 309.7h1M242.5 314.4h1M243.5 306.5h1M243.5 305.9h1M242.9 308.3h1M241.7 308.6h1M243.6 304.5h1M245.2 309.5h1M245.3 305.4h1M242.0 303.4h1M241.5 300.6h1M246.0 306.2h1M244.0 305.9h1M243.5 314.3h1M241.3 304.1h1M243.9 304.5h1M244.7 313.2h1M245.0 311.0h1M243.5 312.0h1M242.6 303.3h1M243.4 307.0h1M245.5 304.1h1M245.4 305.0h1M242.0 301.3h1M243.7 302.3h1M244.0 308.2h1M243.2 300.4h1M243.0 309.8h1M241.2 310.8h1M243.8 305.9h1M244.0 310.6h1M243.7 305.0h1M244.9 305.3h1M244.3 311.9h1M245.6 314.3h1M245.2 308.6h1M243.5 308.8h1M244.5 319.8h1M244.7 304.8h1M245.9 301.7h1M245.2 303.0h1M242.2 306.0h1M243.4 302.7h1M244.6 307.6h1M245.6 304.0h1M241.2 310.7h1M243.4 311.9h1M240.5 303.1h1M243.9 315.7h1M242.0 300.5h1M243.1 313.6h1M246.0 302.6h1M242.9 300.7h1M242.6 304.2h1M244.4 312.5h1M247.1 306.6h1M244.9 308.9h1M243.9 315.7h1M244.7 314.2h1M244.2 311.4h1M244.5 307.6h1M242.8 306.4h1M243.8 306.5h1M243.3 305.2h1M245.0 307.1h1M243.6 307.2h1M245.6 305.9h1M245.7 304.6h1M245.9 310.4h1M243.1 309.8h1M245.3 304.3h1M243.4 309.3h1M243.5 306.9h1M243.8 309.3h1M244.8 313.9h1M243.3 319.6h1M243.3 315.0h1M243.6 302.3h1M243.1 306.7h1M245.3 300.0h1M242.9 307.5h1M244.7 309.6h1M245.0 307.4h1M243.4 312.8h1M246.2 309.5h1M244.0 304.6h1M246.7 309.6h1M244.6 301.7h1M244.6 317.6h1M243.5 307.2h1M245.9 307.3h1M244.9 315.7h1M242.1 304.7h1M244.7 308.5h1M243.8 307.4h1M243.9 309.4h1M243.1 306.9h1M244.1 303.7h1M244.4 299.3h1M244.6 307.5h1M242.1 313.4h1M242.1 316.2h1M242.7 312.8h1M243.7 314.4h1M243.4 312.1h1M243.3 300.6h1M244.3 309.9h1M244.3 314.6h1M242.7 302.4h1M244.1 305.3h1M243.6 308.0h1M242.6 312.3h1M243.6 315.1h1M244.1 312.2h1M243.4 305.4h1M243.0 304.5h1M244.4 308.6h1M242.3 301.9h1M242.6 300.8h1M242.5 302.0h1M244.7 303.4h1M242.9 307.5h1M243.8 309.7h1M244.8 310.6h1M243.3 313.0h1M244.3 305.2h1M245.8 303.3h1M244.4 313.0h1M243.9 309.4h1M243.9 310.7h1M244.1 308.0h1M244.7 300.5h1M244.1 306.8h1M246.5 309.2h1M242.8 310.6h1M243.2 303.3h1M243.4 310.0h1M245.4 312.2h1M244.1 307.4h1M244.0 312.8h1M243.6 312.6h1M242.7 308.0h1M244.8 310.8h1M244.0 306.0h1M241.3 306.3h1M242.6 306.4h1M245.9 305.0h1M244.9 307.9h1M242.2 308.4h1M244.8 303.3h1M242.1 306.5h1M244.8 305.6h1M244.3 309.8h1M243.8 309.8h1M245.5 307.3h1M244.2 303.8h1M242.8 307.6h1M244.9 305.4h1M241.8 311.7h1M247.0 297.8h1M242.3 308.5h1M244.4 304.3h1M244.2 312.4h1M243.4 310.9h1M243.9 304.3h1M242.9 305.6h1M245.6 312.6h1M244.1 301.8h1M243.1 306.4h1M241.1 307.9h1M244.2 302.8h1M243.2 306.2h1M246.3 310.6h1M244.8 308.4h1M242.0 311.7h1M242.8 300.4h1M244.8 306.6h1M243.8 310.0h1M243.4 309.6h1M245.5 306.7h1M243.3 308.1h1M244.6 306.4h1M243.8 301.5h1M243.3 308.7h1M241.2 304.4h1M239.3 301.4h1M243.8 308.7h1M240.5 304.9h1M240.8 307.4h1M244.3 308.1h1M242.9 297.1h1M241.9 297.6h1M241.6 305.2h1M246.7 301.7h1M241.3 306.7h1M237.5 317.3h1M239.0 311.5h1M246.4 311.2h1M243.3 309.8h1M242.6 311.2h1M241.6 300.7h1M244.7 302.8h1M245.5 300.4h1M244.3 299.7h1M243.3 318.2h1M240.4 298.2h1M238.9 304.2h1M248.3 302.8h1M246.3 304.4h1M241.7 317.4h1M246.7 294.6h1M240.7 307.9h1M245.5 304.2h1M244.5 308.7h1M242.5 311.4h1M241.1 310.0h1M246.2 306.7h1M242.6 305.4h1M237.1 307.0h1M239.4 293.6h1M245.8 300.1h1M244.6 305.8h1M238.4 300.2h1M242.8 308.3h1M243.8 298.0h1M242.0 306.1h1M239.9 302.9h1M242.0 293.0h1M248.6 310.7h1M242.2 311.1h1M240.5 314.5h1M242.5 306.3h1M241.9 306.1h1M244.5 305.7h1M241.1 310.0h1M245.2 305.5h1M246.6 301.2h1M247.3 304.6h1M248.0 302.9h1M242.8 306.8h1M246.7 314.0h1M242.2 301.2h1M245.8 312.8h1M245.6 303.6h1M247.3 305.4h1M244.0 309.2h1M241.9 292.1h1M244.2 309.7h1M244.8 308.7h1M244.0 311.7h1M243.9 314.3h1M243.7 310.2h1M242.0 307.3h1M244.8 306.3h1M248.0 305.8h1M246.8 307.6h1M246.7 300.2h1M242.5 311.2h1M241.2 307.8h1M245.2 306.7h1M244.8 308.7h1M242.9 307.9h1M242.1 302.8h1M238.9 304.9h1M238.6 305.7h1M244.2 299.1h1M243.8 307.2h1M242.5 300.1h1M243.2 307.9h1M246.2 316.9h1M237.8 307.5h1M244.8 301.7h1M244.5 317.9h1M243.9 313.6h1M246.6 302.9h1M236.8 312.4h1M248.0 295.1h1M243.0 301.4h1M244.1 305.9h1M246.9 302.0h1M249.2 295.4h1M244.2 321.4h1M243.3 309.2h1M246.1 303.4h1M238.0 306.8h1M245.7 293.4h1M242.1 308.8h1M236.6 304.4h1M238.9 297.6h1M244.7 312.2h1M246.9 301.6h1M245.0 295.0h1M239.3 308.7h1M242.4 299.5h1M238.1 304.1h1M250.0 293.6h1M240.5 312.2h1M238.0 301.8h1M243.8 312.2h1M243.3 316.3h1M243.5 304.8h1M244.8 307.6h1M239.2 299.9h1M242.9 307.5h1M240.0 301.3h1M241.4 307.5h1M242.3 309.1h1M244.7 300.1h1M242.7 298.1h1M243.9 310.3h1M240.7 295.0h1M245.1 303.8h1M243.5 308.2h1M244.7 311.0h1M242.2 292.4h1M242.1 303.7h1M242.4 307.8h1M242.8 313.2h1M241.7 305.5h1M242.5 318.1h1M240.8 299.6h1M242.4 310.0h1M243.6 304.5h1M239.3 293.1h1M242.9 304.1h1M248.7 307.7h1M244.8 311.3h1M240.9 298.2h1M242.5 314.3h1M246.4 302.0h1M239.9 311.0h1M246.7 299.0h1M248.2 300.9h1M245.7 304.3h1M242.6 301.9h1M245.6 309.2h1M245.9 303.8h1M241.1 318.3h1M248.6 304.4h1M240.2 314.4h1M243.9 305.8h1M246.0 307.6h1M243.9 317.4h1M238.0 309.3h1M240.7 305.9h1M243.1 307.1h1M236.5 309.6h1M250.4 303.0h1M246.2 309.2h1M244.4 302.5h1M245.4 307.1h1M247.8 310.5h1M259.6 295.3h1M265.3 302.8h1M261.9 300.4h1M267.8 304.6h1M261.7 300.9h1M262.9 304.7h1M262.8 303.8h1M262.1 302.5h1M258.2 302.0h1M261.6 301.5h1M260.8 302.4h1M260.0 301.3h1M258.1 306.8h1M259.2 299.1h1M260.1 300.8h1M258.7 296.4h1M265.7 303.9h1M260.5 302.9h1M258.6 298.1h1M262.3 303.0h1M259.7 301.7h1M253.6 301.4h1M264.2 302.1h1M261.9 303.0h1M256.1 298.9h1M258.2 302.2h1M259.8 297.6h1M263.7 301.3h1M264.0 306.1h1M257.2 298.9h1M264.2 304.8h1M262.5 302.5h1M263.2 303.1h1M258.2 303.3h1M264.0 300.8h1M259.1 300.6h1M259.9 302.9h1M263.4 301.8h1M260.7 297.8h1M260.4 299.5h1M260.0 302.5h1M261.9 309.4h1M259.2 300.5h1M258.5 301.1h1M260.7 303.9h1M256.4 303.7h1M263.1 300.6h1M259.7 302.1h1M262.8 301.4h1M261.0 301.7h1M258.7 302.3h1M262.9 301.8h1M258.5 301.7h1M261.2 302.4h1M260.4 303.5h1M264.2 303.5h1M262.1 304.4h1M261.3 301.3h1M257.7 301.7h1M264.6 299.6h1M263.5 298.9h1M262.2 305.7h1M261.6 299.2h1M262.2 301.4h1M263.5 300.6h1M257.0 300.7h1M263.0 303.9h1M262.2 301.8h1M263.2 301.3h1M260.3 302.2h1M264.3 300.6h1M262.7 300.3h1M259.5 302.1h1M258.0 299.9h1M258.4 300.4h1M259.1 306.7h1M263.0 301.9h1M258.0 296.6h1M262.6 300.3h1M264.1 300.9h1M258.1 300.3h1M257.5 298.7h1M263.3 300.6h1M263.2 300.5h1M260.8 300.5h1M260.0 300.3h1M265.3 301.6h1M256.4 305.4h1M264.7 304.1h1M261.2 301.4h1M260.2 302.0h1M262.6 301.7h1M259.3 299.6h1M265.7 305.3h1M258.2 300.3h1M261.3 303.0h1M261.1 302.2h1M262.4 304.2h1M258.1 304.1h1M262.6 302.9h1M257.5 301.2h1M260.8 303.1h1M263.2 303.2h1M258.1 304.4h1M261.6 303.7h1M261.4 300.2h1M268.2 303.1h1M263.4 300.7h1M260.8 304.1h1M262.6 305.4h1M264.5 299.4h1M257.4 304.2h1M263.0 301.2h1M260.7 300.5h1M266.1 301.4h1M257.8 303.6h1M261.2 302.5h1M260.4 301.6h1M256.5 302.9h1M259.6 300.9h1M262.2 304.4h1M255.8 301.4h1M262.8 303.9h1M259.1 302.4h1M262.4 303.7h1M259.8 301.3h1M260.1 304.1h1M264.2 300.8h1M261.1 302.2h1M259.1 301.5h1M263.7 303.4h1M259.6 300.3h1M261.1 298.6h1M262.2 302.0h1M258.0 301.2h1M259.7 301.1h1M259.1 304.6h1M258.9 303.3h1M261.9 304.8h1M261.3 301.7h1M261.6 297.7h1M267.6 301.3h1M260.6 299.3h1M261.1 305.1h1M259.4 302.6h1M264.1 303.7h1M260.4 298.0h1M262.5 302.9h1M260.6 300.8h1M266.0 298.4h1M260.1 300.4h1M257.4 300.3h1M259.3 304.3h1M256.9 298.8h1M262.1 298.5h1M256.2 300.4h1M258.3 299.7h1M261.0 302.7h1M259.7 301.1h1M263.3 301.4h1M263.3 300.5h1M262.7 304.4h1M257.8 308.0h1M260.6 301.0h1M261.0 302.7h1M258.3 301.8h1M259.9 304.7h1M256.9 303.1h1M260.6 300.2h1M261.8 301.2h1M260.3 404.2h1M281.6 387.1h1M267.6 389.2h1M247.0 416.6h1M259.5 396.2h1M264.5 397.7h1M261.1 398.1h1M282.1 397.3h1M253.8 402.8h1M272.7 406.3h1M263.4 393.1h1M261.9 413.0h1M265.9 394.4h1M252.7 407.8h1M258.0 395.4h1M247.8 406.0h1M253.0 407.5h1M261.2 393.3h1M247.9 415.8h1M264.6 391.4h1M271.1 388.4h1M280.3 403.7h1M278.2 391.7h1M271.0 393.0h1M251.8 416.2h1M266.6 401.6h1M272.0 387.8h1M259.2 412.7h1M273.1 392.4h1M257.2 400.7h1M275.6 398.2h1M261.3 392.7h1M256.7 399.6h1M267.5 388.3h1M247.0 409.0h1M273.5 389.1h1M268.3 390.4h1M269.4 396.4h1M265.1 395.9h1M270.5 394.0h1M260.4 396.8h1M255.7 396.9h1M273.3 391.5h1M255.5 402.2h1M258.8 403.6h1M254.6 400.9h1M265.9 389.3h1M252.9 411.3h1M267.2 404.7h1M256.4 399.2h1M273.4 390.0h1M281.4 394.8h1M248.3 414.1h1M250.8 401.9h1M246.3 417.2h1M247.3 409.7h1M252.7 413.6h1M269.7 390.5h1M265.9 391.3h1M270.8 393.0h1M265.8 397.3h1M274.4 388.1h1M262.4 393.0h1M253.2 402.7h1M267.7 404.8h1M251.1 401.6h1M266.9 394.4h1M253.3 405.8h1M264.0 407.3h1M263.7 391.8h1M252.5 404.9h1M256.8 398.6h1M261.4 404.8h1M250.7 403.7h1M268.7 396.9h1M269.7 392.2h1M281.6 392.9h1M268.6 415.6h1M263.5 405.1h1M260.5 394.7h1M262.7 415.9h1M256.9 398.6h1M272.5 400.1h1M249.6 411.8h1M269.4 389.1h1M264.2 392.2h1M256.8 405.3h1M267.6 392.1h1M254.9 402.2h1M269.7 386.2h1M262.4 395.7h1M268.3 392.9h1M252.9 399.9h1M275.4 389.4h1M255.6 405.6h1M246.2 409.9h1M276.5 395.4h1M263.6 403.4h1M256.7 398.8h1M274.4 399.6h1M267.2 397.4h1M271.6 406.5h1M273.6 395.6h1M257.9 398.2h1M245.9 416.0h1M246.5 418.0h1M257.7 397.2h1M266.6 390.6h1M265.0 395.2h1M268.0 421.1h1M253.7 401.5h1M264.1 404.0h1M247.0 416.5h1M277.4 387.3h1M256.8 410.2h1M276.8 390.8h1M254.2 399.6h1M254.5 403.2h1M265.6 390.0h1M253.4 398.7h1M271.9 390.8h1M258.3 410.0h1M263.2 397.6h1M256.7 397.2h1M271.1 389.0h1M267.2 388.4h1M259.4 396.9h1M253.1 412.9h1M275.1 408.6h1M255.7 398.6h1M269.7 397.5h1M252.1 402.6h1M273.0 389.4h1M276.3 396.7h1M245.7 409.7h1M269.5 392.7h1M246.0 418.7h1M263.8 392.8h1M249.4 403.7h1M277.8 387.1h1M256.4 396.1h1M254.4 414.1h1M263.3 391.4h1M276.1 410.5h1M264.6 396.8h1M264.9 395.0h1M256.6 395.8h1M270.9 399.5h1M257.5 403.7h1M250.9 401.1h1M269.7 388.3h1M255.8 402.0h1M279.6 397.4h1M258.9 394.9h1M259.0 399.4h1M258.1 400.1h1M257.0 405.0h1M271.9 391.8h1M253.1 404.7h1M250.3 405.3h1M253.8 404.9h1M266.4 390.0h1M267.5 387.2h1M261.7 397.7h1M253.0 406.6h1M280.2 404.4h1M266.8 394.4h1M256.1 400.1h1M263.0 393.9h1M267.1 411.5h1M277.1 391.4h1M254.8 398.8h1M272.2 388.9h1M248.3 412.2h1M258.8 403.6h1M249.0 413.0h1M253.2 420.9h1M280.4 390.7h1M248.6 404.7h1M258.7 403.6h1M272.2 411.1h1M253.8 404.1h1M275.5 398.9h1M252.0 404.1h1M255.2 413.9h1M274.2 398.3h1M274.1 389.1h1M275.6 396.0h1M266.1 405.5h1M270.3 392.1h1M267.5 390.6h1M254.5 403.2h1M250.0 412.9h1M259.3 405.6h1M268.7 391.3h1M260.7 396.7h1M255.1 402.4h1M267.1 395.1h1M261.2 392.5h1M252.6 410.8h1M262.2 391.7h1M258.6 410.0h1M259.7 393.1h1M254.3 399.3h1M250.1 409.4h1M245.9 414.6h1M255.3 415.7h1M257.7 395.5h1M264.9 396.9h1M252.2 404.3h1M250.8 402.2h1M275.0 396.9h1M248.7 404.6h1M250.9 408.2h1M249.0 402.7h1M263.0 399.3h1M271.7 393.0h1M253.2 402.8h1M268.6 388.0h1M248.3 414.2h1M259.8 395.3h1M264.6 390.0h1M248.5 405.1h1M246.8 410.8h1M270.4 400.0h1M271.2 413.0h1M260.8 396.1h1M280.9 386.8h1M257.2 396.9h1M280.5 386.3h1M259.7 398.8h1M256.2 400.7h1M260.2 401.6h1M262.5 401.8h1M255.6 417.4h1M266.4 404.3h1M255.9 401.8h1M248.8 406.5h1M272.0 394.4h1M264.8 392.6h1M256.8 397.2h1M271.0 391.0h1M278.7 411.6h1M277.6 387.8h1M253.4 415.4h1M269.0 390.2h1M265.5 408.5h1M255.2 410.2h1M261.8 401.3h1M257.4 405.6h1M255.3 401.2h1M258.3 399.5h1M257.6 400.9h1M260.4 395.4h1M248.7 409.0h1M253.5 403.1h1M254.1 396.3h1M279.1 392.7h1M250.9 412.4h1M258.3 398.5h1M265.1 392.3h1M265.6 389.0h1M282.2 397.2h1M252.6 404.6h1M260.9 417.1h1M269.8 394.5h1M253.4 408.0h1M256.5 401.6h1M263.9 402.8h1M263.3 398.1h1M249.5 402.0h1M259.6 403.0h1M252.2 400.7h1M270.8 397.4h1M259.1 414.6h1M265.3 393.3h1M256.8 401.0h1M247.4 407.8h1M281.8 387.9h1M255.4 403.3h1M277.5 390.0h1M267.5 394.4h1M264.0 391.9h1M247.6 410.8h1M257.7 395.2h1M254.6 409.3h1M253.8 400.9h1M254.3 400.4h1M267.5 396.2h1M268.3 394.1h1M278.9 388.5h1M260.9 414.9h1M259.8 413.1h1M275.0 406.0h1M256.6 416.2h1M273.0 386.9h1M257.6 398.1h1M261.0 395.1h1M257.3 401.9h1M266.7 400.8h1M251.6 420.5h1M251.2 410.6h1M269.0 395.1h1M274.9 411.9h1M258.4 407.0h1M271.3 399.9h1M271.3 401.8h1M281.1 395.5h1M250.0 419.6h1M272.1 394.9h1M274.5 394.5h1M274.0 390.5h1M273.5 395.5h1M277.2 385.5h1M256.7 402.0h1M258.0 398.7h1M275.3 388.1h1M265.1 395.4h1M264.3 393.8h1M260.5 401.3h1M263.1 394.3h1M254.4 406.5h1M260.4 401.0h1M273.9 402.5h1M255.7 401.6h1M269.2 391.3h1M277.4 386.8h1M260.0 399.5h1M264.2 405.7h1M248.6 410.0h1M262.5 392.4h1M253.3 403.6h1M270.5 389.9h1M261.5 398.6h1M259.7 394.5h1M259.7 417.9h1M267.1 397.9h1M275.0 405.6h1M269.2 389.1h1M261.6 393.8h1M259.8 398.8h1M273.7 389.8h1M249.6 405.1h1M271.1 391.0h1M268.1 412.8h1M276.4 388.0h1M280.2 398.3h1M267.4 390.9h1M256.5 398.9h1M267.4 395.3h1M266.7 391.4h1M260.7 413.2h1M265.7 397.9h1M263.0 411.1h1M273.2 387.8h1M250.4 404.3h1M265.5 390.8h1M267.0 406.5h1M253.8 409.0h1M264.1 394.9h1M271.8 401.3h1M254.3 409.1h1M273.8 400.8h1M250.5 413.1h1M271.1 391.2h1M256.5 396.1h1M277.2 388.3h1M252.9 416.6h1M267.8 399.7h1M255.5 396.7h1M257.4 397.2h1M262.9 407.2h1M255.0 398.8h1M248.3 407.1h1M252.8 408.3h1M257.3 402.1h1M246.0 413.7h1M262.0 395.4h1M263.5 399.2h1M255.5 397.6h1M274.7 406.8h1M256.9 399.4h1M265.0 394.8h1M261.8 392.0h1M266.7 396.4h1M268.8 390.8h1M259.4 397.3h1M246.4 410.6h1M254.2 398.7h1M266.9 389.0h1M275.2 387.9h1M258.8 398.1h1M261.7 402.1h1M251.0 400.8h1M266.3 389.9h1M253.0 412.9h1M258.8 405.1h1M278.1 392.0h1M252.7 409.9h1M252.5 407.6h1M268.4 387.7h1M267.7 394.4h1M249.6 402.9h1M255.9 397.8h1M250.5 402.4h1M271.6 394.4h1M261.0 414.6h1M274.8 394.2h1M266.1 394.0h1M264.8 392.0h1M252.3 417.6h1M261.0 398.1h1M263.6 390.4h1M250.3 402.1h1M255.9 406.0h1M246.2 410.7h1M262.0 403.4h1M276.9 389.5h1M282.5 388.6h1M267.8 392.5h1M275.3 392.3h1M278.6 389.3h1M273.1 394.7h1M271.6 389.5h1M268.1 408.1h1M264.4 395.8h1M259.2 406.0h1M271.2 395.1h1M275.9 410.6h1M279.6 386.3h1M277.6 393.8h1M261.4 403.0h1M252.9 404.9h1M263.6 401.4h1M260.3 412.0h1M272.5 398.5h1M263.1 412.3h1M262.6 391.1h1M257.1 396.1h1M273.3 412.7h1M268.3 393.4h1M257.8 400.3h1M257.3 402.2h1M262.2 396.7h1M275.4 395.4h1M256.9 416.7h1M270.0 395.8h1M249.5 403.3h1M255.9 406.6h1M247.3 413.1h1M260.2 396.5h1M258.8 396.4h1M258.4 395.1h1M278.8 402.0h1M274.4 396.4h1M255.2 416.2h1M260.1 396.8h1M265.4 390.8h1M267.2 392.5h1M253.5 403.1h1M250.1 409.4h1M276.1 388.8h1M255.1 398.3h1M271.5 410.1h1M259.0 409.6h1M253.2 404.9h1M248.8 420.5h1M260.9 407.5h1M246.8 408.8h1M264.7 397.5h1M264.7 394.5h1M274.9 393.6h1M280.6 393.3h1M271.9 396.4h1M257.6 396.2h1M255.7 415.8h1M254.1 405.1h1M255.9 408.6h1M269.2 396.7h1M255.6 399.0h1M262.9 400.8h1M250.5 409.8h1M267.2 405.2h1M258.1 403.7h1M265.6 398.6h1M268.9 401.3h1M261.6 396.4h1M270.9 390.0h1M247.8 408.5h1M258.2 397.5h1M250.1 405.3h1M246.8 417.9h1M268.6 390.7h1M272.9 390.0h1M260.7 392.7h1M257.9 398.1h1M254.8 400.4h1M257.4 417.4h1M267.0 390.2h1M265.0 408.2h1M278.0 404.7h1M272.1 395.6h1M256.2 398.2h1M272.9 388.7h1M261.0 397.7h1M257.4 399.6h1M254.0 406.3h1M252.3 402.4h1M256.0 402.2h1M267.0 394.5h1M268.6 396.1h1M249.7 409.2h1M255.4 403.0h1M280.5 392.7h1M264.7 401.3h1M278.6 394.9h1M259.2 408.6h1M274.9 395.6h1M255.7 398.7h1M251.0 412.6h1M251.9 407.2h1M262.9 393.2h1M266.5 398.8h1M271.6 393.3h1M253.4 402.7h1M260.6 401.0h1M264.0 397.2h1M273.6 388.0h1M257.2 396.8h1M253.6 397.0h1M252.5 402.3h1M275.6 401.8h1M257.0 397.1h1M250.2 408.5h1M282.2 388.8h1M264.1 396.2h1M254.6 401.7h1M270.1 388.7h1M249.5 407.7h1M262.4 393.3h1M248.6 405.9h1M261.4 398.4h1M252.0 414.8h1M259.9 399.9h1M263.9 390.3h1M249.4 422.0h1M270.9 395.5h1M275.9 420.8h1M279.9 391.1h1M264.9 395.1h1M276.7 388.8h1M249.9 415.1h1M261.8 396.3h1M263.0 395.8h1M250.5 403.3h1M256.9 396.3h1M259.3 404.4h1M272.3 395.0h1M261.4 396.5h1M276.9 388.9h1M247.4 407.1h1M263.6 409.8h1M258.9 416.3h1M275.3 399.6h1M259.0 399.6h1M249.5 407.1h1M261.6 392.3h1M278.2 408.2h1M257.9 398.8h1M270.1 398.4h1M255.8 410.4h1M251.3 421.4h1M254.1 405.9h1M265.7 394.8h1M253.2 401.4h1M249.4 403.9h1M274.1 389.7h1M265.9 388.6h1M259.3 399.0h1M256.8 409.4h1M272.3 394.5h1M269.1 402.6h1M262.7 392.2h1M270.3 396.1h1M261.1 395.0h1M273.4 406.6h1M251.7 404.6h1M250.5 404.0h1M252.9 397.5h1M267.4 398.5h1M268.9 395.4h1M261.7 395.7h1M259.2 394.6h1M261.0 393.5h1M271.9 391.2h1M269.5 394.0h1M262.5 394.5h1M260.9 403.5h1M263.0 393.4h1M281.2 396.0h1M272.8 393.3h1M259.3 400.2h1M254.0 399.8h1M275.0 397.3h1M272.0 391.7h1M256.4 398.2h1M280.5 390.7h1M281.8 398.8h1M262.1 406.4h1M251.4 403.6h1M248.2 413.3h1M268.2 393.6h1M259.7 406.6h1M261.0 400.2h1M279.6 399.0h1M253.4 405.9h1M253.9 402.0h1M248.0 407.8h1M271.6 398.8h1M245.9 410.5h1M255.8 398.0h1M257.3 396.4h1M282.1 392.6h1M274.9 396.0h1M255.4 397.9h1M266.5 393.1h1M265.4 389.6h1M261.7 395.9h1M264.3 395.9h1M252.8 401.1h1M274.4 395.8h1M263.8 392.4h1M268.5 396.1h1M264.0 392.2h1M273.8 389.9h1M253.6 403.6h1M266.3 396.6h1M264.2 415.1h1M262.9 393.3h1M280.8 402.7h1M263.2 410.6h1M266.8 389.7h1M273.3 397.1h1M251.6 402.4h1M260.3 414.8h1M262.8 394.9h1M256.3 404.3h1M271.6 402.3h1M250.2 416.7h1M277.3 390.0h1M259.3 394.5h1M267.2 393.4h1M255.4 398.4h1M264.3 404.8h1M262.9 401.9h1M273.8 393.1h1M267.3 392.0h1M255.1 406.1h1M279.6 392.1h1M260.2 394.9h1M258.6 406.2h1M253.5 412.3h1M255.3 409.3h1M255.2 403.5h1M261.7 405.2h1M272.6 389.7h1M270.1 399.9h1M267.1 391.9h1M277.8 392.5h1M264.7 392.6h1M258.5 397.8h1M259.6 395.5h1M269.5 386.8h1M262.4 398.2h1M254.7 404.5h1M257.4 402.0h1M270.0 400.6h1M264.7 391.9h1M253.6 408.6h1M257.2 403.7h1M267.4 401.8h1M280.8 387.8h1M257.9 397.1h1M263.7 403.1h1M267.6 388.2h1M267.1 389.7h1M253.1 403.2h1M263.9 398.9h1M262.2 398.1h1M264.8 390.9h1M269.8 408.9h1M260.7 395.5h1M257.0 395.9h1M269.4 394.1h1M270.7 392.5h1M264.7 391.9h1M254.3 398.8h1M272.7 395.5h1M261.4 396.6h1M269.2 399.9h1M253.1 418.6h1M265.7 393.2h1M268.4 390.4h1M264.4 406.0h1M256.9 398.5h1M252.9 403.7h1M259.9 392.4h1M258.1 398.3h1M247.1 407.2h1M277.9 389.2h1M252.1 412.6h1M272.7 394.5h1M249.1 405.2h1M272.1 390.5h1M260.7 397.5h1M274.1 391.6h1M268.0 387.1h1M251.9 401.8h1M281.7 388.5h1M270.5 393.3h1M281.6 389.0h1M253.9 395.9h1M258.4 398.0h1M263.2 400.6h1M275.1 394.8h1M254.9 405.2h1M273.4 393.1h1M266.2 393.6h1M249.5 404.2h1M246.6 411.9h1M253.0 416.1h1M261.0 397.6h1M278.8 388.4h1M267.5 396.0h1M275.9 392.7h1M264.2 393.9h1M254.1 398.8h1M280.8 403.7h1M271.4 395.2h1M267.6 389.1h1M278.9 403.3h1M253.3 398.7h1M250.0 407.8h1M279.8 397.8h1M247.8 419.2h1M259.2 396.1h1M272.4 403.8h1M248.5 406.6h1M278.4 402.0h1M273.6 398.3h1M257.8 396.4h1M258.6 397.8h1M275.8 390.5h1M246.2 413.5h1M275.7 398.0h1M256.6 407.2h1M251.8 402.6h1M269.7 403.1h1M268.2 387.9h1M265.7 394.8h1M254.9 404.7h1M251.6 408.5h1M251.8 401.4h1M272.5 388.5h1M270.7 391.3h1M257.2 401.1h1M267.0 410.2h1M275.8 388.7h1M253.4 403.5h1M279.1 391.3h1M276.1 397.4h1M261.5 401.7h1M274.9 388.5h1M262.1 392.2h1M255.5 404.7h1M253.6 410.2h1M256.7 402.8h1M266.4 396.8h1M260.0 398.8h1M281.5 385.8h1M248.4 412.8h1M253.4 410.5h1M270.4 389.4h1M263.7 410.5h1M268.7 394.0h1M263.5 398.0h1M255.8 400.1h1M259.1 402.8h1M256.4 408.7h1M256.9 397.9h1M258.1 396.1h1M258.9 399.6h1M249.7 405.6h1M271.1 388.9h1M262.8 396.8h1M263.2 411.8h1M272.0 391.1h1M253.7 404.8h1M250.3 404.1h1M248.2 409.2h1M275.3 395.6h1M252.9 402.4h1M254.5 397.6h1M261.4 414.4h1M264.1 393.8h1M274.5 390.1h1M266.8 391.6h1M266.8 396.2h1M247.2 411.2h1M253.1 403.0h1M264.7 395.9h1M279.2 407.9h1M271.3 405.1h1M256.5 406.7h1M264.8 402.7h1M272.9 385.1h1M252.6 404.2h1M268.0 398.2h1M263.9 396.5h1M246.8 407.8h1M281.8 389.3h1M277.7 390.1h1M253.7 408.7h1M270.1 396.5h1M253.8 410.6h1M250.3 412.8h1M255.4 402.6h1M264.6 395.0h1M269.0 389.0h1M270.0 397.4h1M268.9 394.4h1M256.0 403.5h1M275.6 389.7h1M260.4 397.0h1M280.0 391.4h1M252.2 402.8h1M249.4 413.4h1M270.7 401.7h1M254.7 397.2h1M266.8 392.6h1M255.0 398.5h1M258.3 412.7h1M271.5 405.8h1M281.8 389.9h1M271.3 388.8h1M253.9 406.2h1M262.3 392.5h1M274.7 406.7h1M260.7 394.2h1M278.2 406.3h1M267.6 402.0h1M254.5 419.5h1M250.7 413.5h1M248.1 409.5h1M258.2 407.5h1M263.4 394.7h1M279.9 390.7h1M265.4 393.2h1M263.8 405.0h1M262.6 400.0h1M265.5 390.7h1M263.2 420.1h1M269.9 407.7h1M263.8 396.5h1M265.9 390.2h1M277.6 397.5h1M268.3 388.7h1M250.0 421.7h1M249.4 412.2h1M260.0 393.3h1M265.3 389.3h1M276.9 397.6h1M249.7 406.6h1M253.8 400.7h1M281.2 389.0h1M269.9 403.7h1M273.9 390.2h1M271.2 389.4h1M250.8 406.7h1M269.7 388.8h1M260.2 403.0h1M255.0 402.4h1M250.5 409.4h1M265.5 391.2h1M250.6 415.4h1M271.3 397.2h1M260.7 396.7h1M249.0 408.1h1M247.6 415.4h1M248.2 406.4h1M247.9 410.7h1M247.3 410.2h1M245.8 415.1h1M264.4 395.3h1M250.9 413.2h1M267.6 392.0h1M258.9 398.2h1M277.0 415.1h1M254.5 395.9h1M277.1 417.0h1M264.1 393.1h1M265.3 392.0h1M270.7 393.3h1M266.2 397.4h1M259.9 398.9h1M258.6 404.0h1M246.3 408.5h1M261.3 394.5h1M249.7 409.1h1M256.1 403.1h1M266.4 390.9h1M262.0 399.2h1M272.9 393.8h1M281.7 387.2h1M274.1 396.2h1M263.0 390.9h1M273.2 390.4h1M271.0 393.6h1M258.1 395.8h1M270.6 392.6h1M273.3 391.9h1M277.3 389.6h1M255.2 398.5h1M263.6 404.0h1M260.7 396.6h1M270.1 395.1h1M257.2 420.0h1M269.6 389.0h1M265.3 397.6h1M264.7 393.5h1M263.9 396.4h1M268.7 399.7h1M272.6 393.0h1M255.5 402.5h1M280.9 413.2h1M264.6 391.5h1M254.2 402.6h1M267.6 406.8h1M260.2 396.3h1M258.6 409.9h1M268.2 391.0h1M261.1 394.1h1M266.7 389.5h1M255.8 398.2h1M252.3 404.3h1M265.1 394.1h1M280.2 390.0h1M251.1 403.9h1M280.9 395.2h1M273.9 398.5h1M263.1 398.2h1M254.8 400.1h1M252.4 405.5h1M257.6 404.1h1M256.0 399.6h1M266.9 397.4h1M262.2 408.5h1M251.4 401.8h1M276.9 392.6h1M266.9 397.7h1M252.5 417.3h1M266.3 389.5h1M262.8 395.1h1M256.1 421.3h1M255.6 415.5h1M272.3 407.7h1M247.9 414.6h1M271.5 396.2h1M248.6 405.2h1M266.0 389.1h1M248.7 409.4h1M252.6 399.5h1M253.9 400.7h1M264.1 395.0h1M274.3 398.4h1M267.6 407.8h1M277.1 392.5h1M267.5 391.6h1M259.7 416.2h1M263.0 398.9h1M264.9 393.6h1M282.2 387.0h1M258.5 397.3h1M245.8 409.9h1M265.1 392.5h1M271.6 397.0h1M275.0 395.3h1M262.1 392.0h1M248.0 409.9h1M262.4 393.9h1M258.7 398.4h1M268.9 394.7h1M264.8 394.7h1M256.6 402.8h1M261.2 392.1h1M274.1 388.8h1M254.5 404.7h1M250.5 411.4h1M264.5 395.8h1M264.9 401.2h1M257.0 400.9h1M277.2 393.0h1M273.8 396.6h1M271.1 398.9h1M269.5 399.1h1M269.5 390.1h1M274.4 396.6h1M282.4 412.4h1M269.9 397.8h1M251.3 413.4h1M249.5 403.4h1M260.3 406.7h1M258.5 407.1h1M250.0 404.5h1M261.5 402.7h1M271.8 388.1h1M268.7 388.2h1M252.1 400.3h1M261.3 420.2h1M259.1 396.8h1M248.2 411.1h1M275.8 403.9h1M248.8 403.0h1M253.8 414.2h1M258.8 397.3h1M270.8 395.6h1M266.2 389.4h1M272.4 392.7h1M274.5 393.7h1M262.2 390.1h1M268.0 391.5h1M255.3 406.4h1M250.5 412.6h1M264.2 412.1h1M275.8 390.6h1M277.8 392.0h1M253.0 407.9h1M270.9 400.4h1M254.3 398.1h1M259.8 399.9h1M281.3 405.3h1M253.5 402.0h1M267.2 405.6h1M276.5 400.0h1M268.2 395.6h1M277.7 391.9h1M281.8 397.4h1M269.6 386.1h1M264.1 416.6h1M262.2 404.8h1M270.0 390.4h1M274.9 391.0h1M248.9 414.7h1M275.4 416.9h1M258.5 395.7h1M275.3 389.1h1M273.7 390.7h1M256.1 412.9h1M266.9 396.8h1M263.7 392.3h1M281.8 386.8h1M263.7 393.3h1M260.8 402.9h1M259.8 405.3h1M271.0 401.5h1M259.6 394.2h1M247.6 407.6h1M270.7 389.4h1M261.9 403.5h1M251.3 405.4h1M275.4 394.2h1M257.2 403.8h1M260.5 394.4h1M276.2 394.4h1M274.2 398.8h1M277.1 390.2h1M263.4 393.1h1M280.4 394.7h1M260.6 391.5h1M251.4 398.8h1M259.6 395.7h1M268.9 393.1h1M254.4 421.0h1M263.6 391.5h1M262.2 391.8h1M258.1 395.7h1M271.3 393.7h1M262.0 395.5h1M253.7 402.8h1M256.3 395.8h1M256.0 405.4h1M263.3 402.6h1M267.7 388.9h1M280.0 388.6h1M261.0 408.2h1M258.1 399.1h1M279.0 390.0h1M259.8 398.7h1M265.6 395.2h1M265.5 397.7h1M270.5 389.8h1M282.0 390.2h1M263.0 393.7h1M249.1 404.2h1M262.2 396.2h1M270.3 396.4h1M255.7 397.5h1M254.0 414.1h1M257.7 411.2h1M256.4 399.7h1M277.4 400.4h1M258.3 414.5h1M256.5 398.1h1M265.8 392.8h1M265.7 389.7h1M281.6 389.4h1M249.7 409.5h1M270.7 393.8h1M274.8 401.4h1M253.8 399.1h1M255.3 397.0h1M279.9 392.4h1M259.4 393.0h1M263.2 393.8h1M257.6 408.9h1M254.2 401.1h1M267.3 395.4h1M260.9 408.0h1M269.3 390.8h1M268.3 413.3h1M266.8 398.9h1M256.9 402.1h1M258.6 398.0h1M265.4 403.6h1M254.8 397.7h1M275.9 391.2h1M246.9 410.7h1M272.6 392.4h1M267.3 410.1h1M281.0 391.5h1M257.2 399.6h1M248.2 413.1h1M260.3 401.1h1M266.7 388.8h1M253.9 404.9h1M265.1 394.2h1M251.9 405.2h1M255.0 398.7h1M247.0 421.5h1M251.4 410.6h1M274.6 408.0h1M259.4 407.7h1M281.9 388.2h1M261.0 393.2h1M248.0 407.7h1M264.1 409.4h1M270.3 388.3h1M246.9 408.0h1M272.0 387.7h1M261.6 398.5h1M272.2 391.4h1M254.1 402.5h1M263.3 393.1h1M278.2 387.9h1M266.2 388.6h1M252.5 410.0h1M264.7 393.6h1M271.6 397.1h1M261.3 393.8h1M250.1 405.8h1M256.5 399.2h1M267.3 402.6h1M261.2 395.8h1M257.4 399.9h1M267.5 389.1h1M254.6 408.6h1M262.3 403.4h1M248.5 411.8h1M260.3 394.6h1M282.3 398.4h1M247.1 411.5h1M262.2 404.5h1M264.4 408.1h1M268.9 393.4h1M259.3 394.6h1M263.2 400.8h1M259.6 395.5h1M263.3 394.9h1M275.1 399.1h1M281.0 387.0h1M261.0 399.8h1M258.8 397.2h1M260.5 394.3h1M260.7 395.0h1M263.5 390.7h1M263.7 405.6h1M256.9 399.6h1M277.6 407.6h1M270.9 394.3h1M254.6 407.5h1M257.5 396.9h1M274.5 394.3h1M279.2 417.7h1M254.4 399.9h1M267.5 391.0h1M264.0 400.6h1M260.6 398.2h1M265.0 390.4h1M267.1 395.7h1M270.5 399.7h1M269.0 405.7h1M255.5 418.5h1M271.2 387.4h1M249.9 404.1h1M275.5 394.0h1M271.1 398.1h1M282.2 400.1h1M272.2 391.1h1M258.3 400.2h1M251.8 401.7h1M273.4 391.3h1M257.0 397.9h1M258.2 396.7h1M263.2 391.2h1M247.3 412.0h1M256.9 400.0h1M273.3 388.0h1M249.5 412.4h1M273.6 389.6h1M275.3 398.5h1M279.9 389.0h1M264.6 393.8h1M261.1 408.9h1M265.0 391.0h1M271.5 387.7h1M264.2 398.1h1M269.5 390.9h1M254.3 408.0h1M254.4 407.4h1M250.4 404.5h1M274.5 391.2h1M262.5 395.6h1M263.6 398.4h1M277.3 398.4h1M256.3 418.6h1M268.3 389.7h1M267.0 393.1h1M264.0 405.2h1M277.9 389.4h1M266.7 400.1h1M256.5 417.3h1M251.8 406.8h1M256.0 419.6h1M275.2 401.9h1M256.4 395.8h1M269.9 414.8h1M265.0 393.5h1M256.4 414.2h1M280.8 387.9h1M267.1 393.3h1M263.2 406.5h1M257.5 398.8h1M259.1 408.5h1M270.7 390.1h1M258.5 394.9h1M264.1 393.1h1M259.8 396.9h1M259.2 399.9h1M262.9 412.6h1M276.9 397.6h1M268.0 389.8h1M257.2 396.2h1M259.9 407.8h1M250.9 403.5h1M282.4 399.3h1M265.0 390.7h1M264.3 420.9h1M250.9 412.6h1M250.1 415.2h1M259.8 421.1h1M253.5 406.6h1M270.3 421.0h1M253.3 401.5h1M271.2 388.0h1M275.6 391.6h1M264.4 390.1h1M279.8 401.4h1M264.8 389.9h1M275.2 387.2h1M271.3 389.6h1M270.1 390.8h1M262.7 393.1h1M259.4 396.2h1M255.2 400.0h1M261.3 400.4h1M267.2 391.1h1M258.9 393.7h1M257.7 400.4h1M268.3 400.1h1M279.7 390.5h1M269.5 396.9h1M272.0 387.9h1M264.5 395.0h1M257.9 400.2h1M264.0 405.2h1M272.3 396.1h1M260.2 396.9h1M264.7 408.1h1M270.3 400.2h1M252.9 392.6h1M271.4 407.3h1M264.0 397.8h1M263.8 401.4h1M270.9 392.3h1M266.4 397.4h1M255.0 405.0h1M268.3 401.2h1M256.8 394.5h1M265.8 401.8h1M272.0 398.4h1M264.0 397.9h1M269.3 401.4h1M263.9 398.0h1M270.2 393.2h1M259.3 395.7h1M259.8 404.6h1M258.1 405.5h1M263.2 399.1h1M263.6 400.3h1M266.8 397.0h1M256.7 403.7h1M264.0 399.5h1M266.7 402.9h1M265.0 407.7h1M267.8 409.4h1M263.4 396.0h1M258.7 403.5h1M271.3 405.8h1M270.3 402.9h1M254.5 401.1h1M267.6 399.4h1M261.2 398.4h1M265.1 402.9h1M265.8 392.7h1M269.9 402.8h1M265.2 398.9h1M264.4 403.6h1M261.0 400.1h1M271.1 404.2h1M270.2 401.0h1M266.8 394.0h1M262.7 396.1h1M263.8 397.5h1M277.8 392.5h1M273.0 394.7h1M257.7 402.4h1M269.0 388.2h1M260.1 400.2h1M266.7 402.0h1M264.4 397.0h1M263.7 398.1h1M265.8 395.2h1M254.7 404.5h1M265.0 396.3h1M262.4 395.3h1M269.0 397.4h1M260.4 396.4h1M257.2 400.8h1M256.7 405.1h1M262.1 396.9h1M267.1 404.8h1M262.0 398.7h1M253.8 406.3h1M261.1 401.8h1M263.7 397.9h1M257.5 409.2h1M267.9 398.5h1M262.8 402.1h1M271.4 398.4h1M264.1 398.3h1M263.8 393.1h1M262.3 396.9h1M251.1 389.3h1M269.2 394.8h1M270.2 397.9h1M265.4 393.7h1M258.9 395.6h1M261.5 401.0h1M265.0 393.3h1M260.1 399.4h1M257.8 398.9h1M269.1 391.1h1M255.0 398.4h1M266.1 390.2h1M275.4 402.2h1M260.9 401.0h1M265.0 395.8h1M263.7 398.0h1M260.7 392.5h1M264.0 393.1h1M265.8 395.3h1M258.1 401.6h1M262.8 410.0h1M271.5 394.4h1M269.8 397.9h1M264.2 393.2h1M263.7 393.1h1M268.0 388.8h1M271.2 395.3h1M264.8 389.8h1M264.8 410.2h1M269.9 400.5h1M275.1 400.5h1M264.9 397.2h1M260.7 406.3h1M265.7 401.5h1M262.9 403.7h1M260.9 399.8h1M262.0 409.8h1M268.6 398.7h1M266.7 403.6h1M261.1 395.5h1M271.0 395.2h1M267.2 399.6h1M263.1 398.0h1M265.6 391.1h1M264.8 411.0h1M270.1 396.4h1M268.8 401.9h1M262.5 407.9h1M269.4 401.6h1M256.5 405.8h1M262.8 400.7h1M270.8 397.7h1M261.0 403.2h1M264.5 394.5h1M262.5 399.0h1M270.8 397.4h1M263.1 395.3h1M267.1 397.5h1M268.2 400.1h1M265.7 400.8h1M272.3 408.4h1M260.3 409.0h1M269.9 394.3h1M266.5 390.5h1M260.3 395.2h1M263.3 398.0h1M260.0 395.2h1M272.0 391.3h1M257.5 401.1h1M264.3 402.3h1M269.1 403.0h1M263.9 402.3h1M263.3 389.2h1M276.0 405.4h1M261.5 403.7h1M259.8 390.7h1M271.1 389.5h1M259.2 395.9h1M271.9 397.1h1M276.1 399.5h1M263.4 405.8h1M274.5 399.3h1M265.7 400.1h1M262.5 406.2h1M261.2 397.6h1M264.4 399.2h1M266.1 400.4h1M268.5 396.9h1M260.6 394.2h1M273.3 400.3h1M268.1 390.2h1M266.7 399.3h1M257.2 390.9h1M264.9 397.9h1M263.7 397.1h1M266.7 402.9h1M263.3 395.0h1M264.5 406.7h1M262.0 403.3h1M268.8 399.7h1M265.1 397.9h1M260.5 399.4h1M262.7 396.4h1M257.1 401.8h1M267.8 396.9h1M257.4 400.6h1M268.0 398.2h1M266.2 403.2h1M268.9 397.7h1M255.9 404.1h1M276.5 393.2h1M267.0 399.4h1M259.0 398.0h1M269.7 401.5h1M270.7 394.8h1M260.4 401.4h1M255.1 392.9h1M260.7 397.6h1M262.7 393.8h1M260.7 396.9h1M272.7 401.2h1M264.3 400.5h1M262.5 401.9h1M264.8 397.8h1M268.7 392.2h1M272.2 401.4h1M258.9 404.0h1M264.2 401.6h1M261.3 405.2h1M273.1 395.8h1M255.9 401.0h1M265.2 394.0h1M275.8 398.5h1M267.1 400.4h1M262.1 406.4h1M260.0 402.3h1M270.3 404.2h1M264.4 392.2h1M266.3 397.6h1M269.0 390.1h1M259.7 400.8h1M274.7 395.2h1M266.5 397.9h1M264.9 394.9h1M275.0 397.9h1M272.5 391.3h1M258.2 398.9h1M271.8 400.8h1M262.9 407.9h1M268.2 399.4h1M264.4 404.7h1M263.0 403.6h1M261.9 399.7h1M264.0 398.8h1M258.2 403.2h1M264.0 398.8h1M253.2 400.5h1M262.0 402.2h1M270.0 389.3h1M267.1 393.1h1M265.6 400.9h1M262.9 397.3h1M263.4 396.9h1M257.6 403.1h1M262.2 396.2h1M255.1 396.1h1M265.5 393.4h1M267.3 398.6h1M265.5 399.7h1M261.6 393.6h1M278.8 398.5h1M253.6 404.4h1M267.9 404.5h1M272.8 393.7h1M262.7 410.3h1M262.6 403.7h1M260.6 400.1h1M269.6 393.8h1M251.7 416.0h1M249.6 408.2h1M254.1 414.8h1M249.7 415.4h1M243.3 417.9h1M244.7 413.1h1M248.9 413.6h1M251.6 411.1h1M251.8 416.5h1M255.8 412.4h1M255.7 412.5h1M250.2 416.5h1M247.6 413.1h1M247.1 416.8h1M247.2 419.7h1M252.8 411.3h1M252.2 410.7h1M248.7 417.9h1M245.1 418.3h1M252.4 414.3h1M248.4 414.0h1M253.3 412.4h1M249.6 413.4h1M251.0 412.0h1M251.7 417.0h1M250.8 418.4h1M252.1 412.2h1M250.9 420.2h1M247.2 421.0h1M250.3 412.7h1M249.8 417.2h1M248.9 415.0h1M250.5 414.5h1M252.6 408.8h1M249.8 405.8h1M246.2 421.7h1M249.5 415.7h1M245.3 417.1h1M248.7 418.9h1M250.2 415.8h1M250.0 416.4h1M252.1 414.5h1M244.8 418.5h1M253.7 419.1h1M251.4 411.3h1M252.6 416.3h1M251.1 414.9h1M247.4 415.1h1M253.2 411.0h1M247.3 411.0h1M246.5 417.8h1M248.7 415.0h1M250.1 416.7h1M250.2 410.5h1M252.1 420.5h1M250.7 416.8h1M247.0 422.7h1M241.9 413.8h1M249.2 409.9h1M248.7 410.6h1M244.6 434.9h1M248.6 431.4h1M247.3 433.4h1M247.3 442.1h1M250.0 431.1h1M250.3 438.2h1M244.5 443.1h1M248.3 440.1h1M249.1 437.1h1M247.7 440.4h1M248.3 436.2h1M251.8 434.1h1M249.6 441.0h1M248.6 434.7h1M248.9 439.9h1M246.1 434.8h1M249.3 432.8h1M249.5 437.0h1M248.3 438.1h1M248.0 444.2h1M247.3 437.2h1M246.0 441.0h1M251.4 436.2h1M251.4 441.0h1M250.1 433.4h1M250.1 442.3h1M250.6 425.3h1M249.3 433.8h1M250.8 445.9h1M250.4 431.7h1M249.6 437.5h1M244.9 431.6h1M248.5 431.0h1M247.2 433.9h1M249.8 432.6h1M250.1 433.6h1M243.7 439.0h1M247.8 432.6h1M250.5 437.0h1M249.0 441.2h1M250.4 438.0h1M246.6 442.4h1M247.5 443.2h1M246.8 433.6h1M249.6 427.9h1M249.7 439.4h1M250.9 438.1h1M250.1 437.9h1M250.2 434.2h1M247.6 438.7h1M249.2 431.6h1M245.4 437.5h1M248.9 437.4h1M251.1 432.0h1M248.6 428.8h1M248.0 436.4h1M249.7 443.2h1M250.2 441.3h1M245.5 442.4h1M248.9 432.6h1M250.3 440.5h1M248.5 435.8h1M247.8 437.0h1M247.5 443.2h1M249.4 435.7h1M247.6 441.0h1M252.1 433.4h1M249.0 434.2h1M248.8 430.1h1M250.4 437.8h1M247.7 436.5h1M249.7 440.5h1M250.3 436.8h1M247.4 436.4h1M245.2 435.5h1M247.1 437.6h1M247.2 428.4h1M251.1 442.4h1M251.9 431.4h1M250.1 445.4h1M248.0 440.2h1M248.1 444.3h1M248.1 434.9h1M248.0 442.2h1M249.9 431.4h1M248.0 433.4h1M250.2 431.8h1M247.6 434.6h1M247.4 435.0h1M245.5 442.9h1M247.7 437.7h1M247.7 438.4h1M248.4 433.8h1M248.3 431.9h1M246.8 439.6h1M251.0 435.9h1M249.1 440.4h1M250.2 441.6h1M249.3 435.9h1M248.6 438.9h1M245.6 435.2h1M250.6 443.4h1M247.0 439.9h1M245.5 430.5h1M253.2 432.3h1M245.0 431.2h1M249.3 431.1h1M247.5 434.6h1M249.8 440.7h1M248.7 437.0h1M249.8 435.5h1M250.7 435.6h1M248.7 441.1h1M250.6 439.8h1M248.7 437.0h1M249.1 441.2h1M249.8 435.1h1M249.6 432.5h1M247.8 440.3h1M247.3 436.4h1M246.6 432.0h1M250.1 433.7h1M247.9 435.5h1M245.3 435.6h1M249.0 438.3h1M250.0 436.8h1M247.2 440.6h1M245.0 444.8h1M245.6 433.1h1M248.9 440.0h1M248.6 436.6h1M248.4 433.0h1M248.3 431.5h1M249.4 434.2h1M253.2 432.1h1M246.9 439.8h1M250.9 436.9h1M246.2 440.3h1M248.6 429.8h1M249.1 436.6h1M247.5 441.8h1M250.0 434.7h1M249.3 428.8h1M246.1 437.2h1M248.7 430.2h1M249.1 435.4h1M249.0 435.4h1M247.4 434.5h1M245.5 435.3h1M248.3 441.8h1M248.8 431.3h1M246.6 434.6h1M249.4 436.4h1M245.9 440.0h1M251.6 438.5h1M248.1 438.9h1M248.9 430.0h1M248.4 429.4h1M248.7 423.1h1M249.1 435.4h1M250.9 440.0h1M248.0 440.1h1M249.8 435.0h1M244.9 442.6h1M247.7 431.4h1M249.7 444.3h1M245.2 442.8h1M247.6 439.9h1M245.5 441.4h1M248.6 430.7h1M249.7 437.3h1M247.4 442.8h1M247.9 440.1h1M248.5 437.0h1M249.3 433.2h1M252.4 434.5h1M246.8 433.6h1M248.6 435.2h1M251.1 436.5h1M246.3 434.2h1M246.0 432.5h1M247.3 436.3h1M249.4 440.0h1M247.6 439.3h1M246.5 435.0h1M247.7 440.9h1M246.5 421.5h1M249.0 438.2h1M247.7 429.5h1M248.7 432.7h1M250.2 438.6h1M249.3 434.0h1M247.9 433.2h1M249.0 436.3h1M247.6 434.5h1M248.4 431.3h1M244.4 442.9h1M246.4 438.4h1M247.8 433.8h1M245.2 431.2h1M250.5 436.3h1M246.9 432.1h1M249.8 438.9h1M245.6 432.7h1M245.9 440.0h1M245.9 433.0h1M250.1 435.0h1M248.4 437.6h1M249.3 431.6h1M249.3 435.3h1M245.6 439.2h1M249.4 441.9h1M250.8 431.3h1M249.2 441.3h1M247.5 440.0h1M252.0 441.2h1M245.6 433.7h1M248.4 435.3h1M248.1 438.7h1M247.9 443.9h1M248.8 435.9h1M248.8 435.5h1M252.4 437.7h1M250.7 440.0h1M248.9 435.4h1M249.5 433.1h1M250.4 430.2h1M246.4 437.6h1M248.1 437.6h1M246.8 433.3h1M250.5 438.8h1M248.8 441.1h1M247.7 434.4h1M248.5 437.6h1M248.1 429.1h1M250.6 436.5h1M247.5 439.3h1M247.1 432.8h1M250.4 439.0h1M250.1 434.9h1M245.2 428.9h1M251.8 443.9h1M247.7 441.2h1M248.2 440.1h1M246.4 438.8h1M248.1 435.9h1M248.4 431.9h1M250.2 438.8h1M251.2 433.9h1M250.0 434.8h1M249.2 437.7h1M249.7 445.7h1M251.3 438.4h1M248.9 436.8h1M251.5 434.7h1M249.7 434.3h1M250.8 442.9h1M248.9 433.3h1M248.0 430.8h1M253.1 439.9h1M250.0 442.0h1M248.0 441.4h1M249.0 434.5h1M248.4 441.3h1M247.6 442.5h1M250.6 430.2h1M247.3 432.7h1M248.0 433.6h1M248.4 434.1h1M251.4 433.4h1M248.6 431.8h1M247.2 433.9h1M248.4 435.2h1M247.0 436.5h1M249.3 435.4h1M251.5 428.7h1M250.1 435.8h1M248.4 439.1h1M249.5 430.0h1M249.1 443.5h1M248.8 444.4h1M252.0 440.1h1M245.6 441.2h1M247.9 436.5h1M249.1 429.7h1M249.7 437.1h1M249.9 440.2h1M246.6 434.9h1M250.4 434.2h1M246.2 434.9h1M252.4 434.1h1M247.1 435.8h1M249.5 438.3h1M249.4 441.4h1M248.1 435.5h1M245.3 435.5h1M251.3 430.9h1M249.7 432.3h1M248.1 436.7h1M250.5 435.8h1M252.1 437.5h1M248.7 430.2h1M248.9 438.3h1M247.7 435.2h1M246.2 435.0h1M246.6 442.8h1M252.2 427.9h1M250.7 437.8h1M248.7 432.7h1M248.6 434.3h1M242.7 436.8h1M248.2 437.9h1M247.8 435.8h1M245.2 435.9h1M251.3 435.3h1M248.1 432.4h1M247.5 432.3h1M247.5 439.0h1M248.5 436.8h1M248.5 430.7h1M247.3 442.7h1M248.6 431.7h1M248.0 436.1h1M251.8 438.8h1M248.2 443.7h1M246.4 441.0h1M249.2 435.5h1M249.8 440.6h1M248.9 437.0h1M248.1 437.7h1M251.6 433.0h1M251.1 437.7h1M248.6 434.9h1M249.9 437.2h1M248.8 434.5h1M250.3 442.4h1M246.7 438.0h1M249.4 438.1h1M247.2 440.2h1M246.0 441.0h1M248.4 429.7h1M247.9 433.3h1M247.7 435.0h1M250.2 434.3h1M246.6 432.1h1M248.6 434.4h1M250.1 437.7h1M247.3 436.0h1M248.4 444.0h1M249.5 438.8h1M248.0 437.1h1M249.8 431.4h1M249.9 434.6h1M246.8 436.2h1M249.7 432.9h1M245.9 428.3h1M248.1 437.3h1M248.4 433.4h1M245.5 425.4h1M249.5 435.3h1M252.1 441.9h1M248.0 439.6h1M247.4 436.4h1M247.7 435.1h1M249.3 427.4h1M250.8 427.3h1M248.8 440.7h1M248.2 437.5h1M247.8 436.4h1M249.4 434.7h1M248.9 439.6h1M248.3 431.5h1M248.0 442.0h1M245.6 432.6h1M250.3 440.5h1M248.7 439.4h1M251.5 433.9h1M249.1 444.6h1M249.2 439.2h1M248.4 447.2h1M250.9 432.1h1M248.0 445.7h1M248.2 434.7h1M250.3 434.5h1M248.9 436.3h1M249.9 435.3h1M250.3 432.7h1M250.4 437.3h1M245.1 439.2h1M248.5 434.9h1M244.4 444.8h1M248.5 432.0h1M248.5 446.7h1M249.8 440.1h1M246.5 437.9h1M250.3 430.7h1M246.1 432.7h1M248.8 432.9h1M251.7 442.7h1M248.6 433.7h1M247.0 435.4h1M248.4 438.8h1M248.6 433.3h1M250.3 438.6h1M247.2 444.6h1M248.9 437.9h1M250.7 435.4h1M248.2 444.8h1M247.1 437.3h1M246.4 437.0h1M253.2 436.8h1M246.5 438.3h1M249.6 430.8h1M251.3 437.5h1M247.6 441.1h1M248.9 434.8h1M249.5 439.0h1M251.0 436.3h1M246.1 433.9h1M253.3 432.1h1M249.2 451.6h1M250.6 436.5h1M251.4 436.8h1M248.9 438.0h1M245.1 436.4h1M250.5 439.6h1M249.9 432.1h1M252.2 432.6h1M249.8 438.6h1M248.6 434.1h1M246.4 436.7h1M250.1 438.9h1M252.5 426.8h1M248.1 436.8h1M249.1 437.9h1M247.4 430.3h1M246.7 440.0h1M250.1 436.6h1M246.7 435.5h1M248.9 439.5h1M249.2 431.6h1M250.2 435.1h1M246.9 441.7h1M249.3 430.9h1M251.3 436.0h1M247.2 437.6h1M250.7 434.9h1M248.7 436.4h1M246.8 435.6h1M249.6 434.3h1M246.7 432.8h1M249.1 430.0h1M247.6 436.8h1M249.3 442.4h1M251.2 436.8h1M249.2 433.9h1M248.1 434.3h1M251.2 435.2h1M250.0 435.3h1M251.3 438.2h1M251.2 430.9h1M249.7 435.7h1M244.5 445.6h1M245.1 430.6h1M248.0 438.5h1M247.8 429.9h1M249.3 429.2h1M252.7 436.1h1M248.3 433.0h1M248.1 436.9h1M247.4 438.9h1M246.9 443.2h1M250.3 438.6h1M247.8 439.8h1M247.9 431.4h1M250.9 431.7h1M249.2 427.4h1M250.9 434.4h1M248.8 439.9h1M247.1 432.1h1M250.6 452.0h1M248.5 436.4h1M248.4 442.9h1M248.3 442.6h1M244.7 432.6h1M249.1 436.8h1M248.1 444.7h1M247.5 439.9h1M251.4 427.0h1M250.2 428.5h1M247.0 435.5h1M248.2 437.9h1M248.5 437.0h1M247.0 437.5h1M250.9 437.2h1M247.1 440.9h1M251.4 430.2h1M247.2 440.8h1M253.6 433.8h1M248.6 440.2h1M251.0 446.2h1M247.5 436.3h1M251.2 430.0h1M248.3 442.3h1M246.5 442.7h1M252.2 433.2h1M248.7 438.0h1M249.4 442.0h1M248.8 431.4h1M249.9 433.7h1M246.8 436.2h1M249.8 431.7h1M247.2 437.7h1M250.5 435.5h1M252.3 438.5h1M251.5 436.0h1M247.2 441.7h1M249.5 438.4h1M248.1 439.5h1M246.1 436.5h1M247.2 434.3h1M249.6 433.3h1M250.5 444.2h1M248.0 436.8h1M248.5 435.2h1M249.4 432.4h1M246.2 433.4h1M246.2 427.9h1M248.1 439.2h1M249.1 425.9h1M248.1 435.0h1M247.6 435.6h1M245.3 439.3h1M249.1 448.5h1M247.4 431.8h1M249.6 440.7h1M250.7 432.7h1M251.2 432.7h1M250.0 434.8h1M248.6 439.0h1M250.6 441.5h1M247.9 438.5h1M248.4 440.0h1M247.2 440.5h1M250.8 435.6h1M251.6 435.5h1M246.8 434.6h1M250.0 441.1h1M248.7 436.9h1M248.3 437.8h1M246.8 437.1h1M251.3 443.9h1M247.3 437.9h1M248.2 435.2h1M246.8 438.8h1M249.3 438.5h1M250.7 443.8h1M246.5 430.1h1M247.0 433.3h1M247.3 437.9h1M247.7 436.6h1M250.6 435.2h1M249.3 445.2h1M249.7 435.2h1M251.4 430.3h1M247.3 435.8h1M251.2 437.3h1M245.2 434.3h1M246.9 429.1h1M247.8 430.4h1M250.4 435.3h1M251.0 436.5h1M248.7 445.1h1M248.8 433.4h1M247.7 437.1h1M249.0 429.5h1M248.3 433.6h1M250.2 440.8h1M247.5 437.7h1M250.8 433.4h1M246.5 440.2h1M249.7 443.8h1M250.3 440.9h1M247.7 433.2h1M253.6 433.9h1M248.0 434.5h1M249.1 444.6h1M247.6 439.9h1M247.2 436.3h1M249.8 439.3h1M247.6 439.5h1M251.7 438.7h1M249.5 435.1h1M248.5 429.9h1M249.1 428.6h1M247.6 439.5h1M250.0 430.3h1M247.0 438.2h1M248.0 435.2h1M250.3 441.0h1M246.4 432.6h1M251.4 440.2h1M250.1 438.0h1M249.8 437.0h1M247.2 430.7h1M251.2 430.5h1M249.7 434.8h1M247.7 436.1h1M248.1 433.8h1M251.4 432.7h1M249.5 426.6h1M248.1 446.2h1M245.9 432.7h1M248.1 431.3h1M252.3 439.2h1M248.0 434.5h1M247.1 436.7h1M250.1 435.4h1M254.3 439.1h1M249.4 434.7h1M248.3 434.9h1M249.8 433.0h1M249.1 442.7h1M250.0 431.4h1M250.8 440.1h1M246.3 443.6h1M251.4 432.3h1M246.5 431.3h1M247.4 441.9h1M249.6 436.3h1M249.1 430.9h1M251.6 439.2h1M248.6 433.7h1M251.4 436.3h1M249.1 431.6h1M249.5 439.6h1M249.8 428.0h1M247.5 444.3h1M249.8 439.5h1M249.2 429.9h1M250.9 446.9h1M247.2 429.9h1M252.0 435.8h1M247.5 434.5h1M246.2 442.3h1M253.1 435.7h1M247.7 434.1h1M246.1 437.1h1M250.0 441.9h1M250.2 437.9h1M245.0 435.4h1M249.9 432.2h1M249.3 441.6h1M248.3 450.1h1M250.6 437.1h1M248.4 442.2h1M247.2 433.9h1M253.1 437.6h1M248.0 441.0h1M247.4 437.8h1M248.6 438.9h1M251.3 433.4h1M245.9 442.3h1M251.2 438.6h1M249.3 427.6h1M248.4 434.5h1M247.9 432.5h1M246.4 440.5h1M247.8 432.4h1M250.1 445.4h1M247.4 436.1h1M246.4 439.3h1M248.4 441.5h1M248.3 430.4h1M246.3 435.6h1M246.5 446.7h1M252.0 436.1h1M248.5 435.3h1M247.9 439.5h1M250.9 434.0h1M247.6 431.5h1M250.8 436.7h1M249.3 449.0h1M248.5 443.0h1M244.8 433.0h1M249.3 423.4h1M249.3 430.7h1M249.4 438.7h1M247.7 439.8h1M249.8 442.4h1M250.4 433.3h1M248.9 432.5h1M247.0 441.0h1M250.3 442.4h1M248.2 432.9h1M251.6 433.4h1M248.4 431.9h1M246.6 434.2h1M251.2 436.5h1M248.6 445.2h1M247.2 433.9h1M247.3 433.5h1M247.1 440.1h1M250.9 429.3h1M251.1 434.1h1M252.1 437.3h1M252.2 437.9h1M247.2 439.6h1M246.6 441.9h1M250.5 427.9h1M247.0 451.7h1M247.2 440.6h1M247.9 435.4h1M247.4 435.8h1M248.9 437.8h1M248.2 435.7h1M248.2 430.5h1M248.5 432.9h1M250.7 428.9h1M248.2 433.7h1M250.3 433.4h1M248.3 440.4h1M247.6 440.7h1M249.4 434.1h1M247.9 436.8h1M249.8 440.7h1M247.6 439.0h1M248.9 436.0h1M249.4 437.2h1M250.3 437.0h1M248.6 444.0h1M248.3 438.5h1M244.7 436.8h1M247.7 436.4h1M249.0 434.9h1M248.6 444.0h1M248.3 431.6h1M248.2 437.6h1M246.9 436.6h1M250.3 442.6h1M248.8 440.1h1M247.9 441.8h1M246.0 435.7h1M247.2 439.2h1M248.6 436.9h1M249.9 434.6h1M249.0 429.3h1M250.2 430.9h1M249.7 434.1h1M248.4 434.3h1M252.9 436.7h1M246.8 439.5h1M248.8 442.8h1M248.4 435.5h1M252.0 440.8h1M250.5 437.6h1M248.5 433.5h1M247.9 444.0h1M248.1 438.0h1M247.4 435.7h1M248.4 445.6h1M249.9 444.0h1M248.3 447.4h1M248.1 434.6h1M249.7 434.6h1M249.4 445.2h1M249.2 436.2h1M250.4 434.3h1M248.5 436.6h1M249.4 435.5h1M249.2 432.3h1M249.0 446.9h1M250.3 430.2h1M250.1 441.0h1M250.1 440.9h1M250.7 433.7h1M249.6 433.5h1M247.1 436.1h1M247.1 431.8h1M248.1 441.4h1M248.8 433.3h1M248.0 443.3h1M249.7 435.1h1M248.2 434.0h1M249.5 436.9h1M251.8 448.8h1M249.8 436.1h1M245.9 439.6h1M249.8 427.7h1M249.9 439.7h1M247.5 433.7h1M248.6 441.0h1M246.5 444.4h1M248.4 432.7h1M247.2 435.6h1M246.6 430.7h1M247.7 439.4h1M248.5 435.7h1M248.2 439.5h1M247.0 436.9h1M248.9 438.3h1M246.3 426.1h1M254.9 440.3h1M251.2 435.7h1M250.1 442.2h1M249.5 435.9h1M252.2 436.3h1M252.5 437.2h1M245.1 426.8h1M246.8 432.4h1M252.4 432.1h1M253.4 435.5h1M251.2 435.9h1M242.9 437.2h1M244.1 425.8h1M247.0 447.3h1M244.4 442.8h1M248.4 439.8h1M253.5 441.1h1M246.7 424.4h1M246.2 439.7h1M249.0 423.7h1M251.2 435.7h1M251.8 425.6h1M251.6 432.7h1M251.5 439.0h1M245.0 437.0h1M253.4 428.6h1M246.1 441.9h1M247.3 428.2h1M243.1 431.9h1M250.0 439.1h1M245.5 441.2h1M248.2 433.9h1M248.1 452.7h1M246.1 430.3h1M249.2 435.5h1M252.8 435.0h1M244.3 435.2h1M245.3 447.1h1M248.0 430.2h1M249.6 440.4h1M249.4 429.9h1M250.4 436.7h1M243.1 439.8h1M248.9 443.8h1M244.6 438.6h1M246.4 434.4h1M246.3 436.7h1M247.2 434.8h1M244.5 428.3h1M249.8 433.5h1M244.4 433.2h1M248.5 433.0h1M252.3 435.0h1M244.9 430.6h1M247.9 431.4h1M249.3 440.1h1M244.9 451.4h1M251.7 424.0h1M244.7 423.8h1M249.3 428.2h1M244.7 442.5h1M253.5 433.4h1M253.5 431.0h1M247.9 431.2h1M252.4 431.5h1M246.5 436.4h1M247.6 435.4h1M247.0 423.5h1M252.9 433.5h1M251.8 422.6h1M248.0 430.9h1M247.6 429.0h1M247.5 439.7h1M243.4 429.1h1M251.2 442.7h1M251.0 430.5h1M250.3 442.8h1M249.5 437.3h1M251.7 433.6h1M250.2 426.0h1M252.6 433.7h1M247.9 437.5h1M251.5 440.9h1M248.4 438.2h1M248.6 427.1h1M248.9 436.4h1M247.6 441.6h1M245.5 443.5h1M248.3 433.8h1M251.3 433.8h1M250.7 421.9h1M244.4 449.2h1M244.1 431.9h1M246.7 420.2h1M248.2 429.7h1M250.2 439.2h1M242.1 449.9h1M246.4 436.3h1M249.1 438.7h1M248.0 432.9h1M248.2 447.0h1M253.9 441.7h1M244.6 441.4h1M247.9 433.3h1M250.7 432.0h1M250.9 438.2h1M251.5 429.9h1M249.2 427.7h1M248.1 436.1h1M250.0 450.8h1M242.8 439.7h1M252.8 438.3h1M246.5 431.9h1M249.8 424.9h1M246.2 438.9h1M248.0 441.7h1M251.6 426.1h1M247.0 432.9h1M250.6 435.3h1M245.6 431.1h1M249.3 429.1h1M249.6 433.1h1M246.8 426.7h1M249.3 431.4h1M249.8 422.5h1M243.3 431.0h1M246.4 425.8h1M245.9 445.8h1M248.5 442.5h1M250.6 433.7h1M250.2 448.9h1M252.0 443.5h1M250.1 442.2h1M244.1 427.3h1M249.4 431.8h1M246.8 442.3h1M250.9 424.3h1M252.0 431.5h1M267.9 430.8h1M268.8 432.1h1M268.7 431.6h1M259.4 430.8h1M266.6 428.8h1M268.5 429.9h1M272.7 431.8h1M267.0 431.9h1M274.6 430.8h1M265.4 432.5h1M263.4 432.6h1M268.4 434.4h1M262.8 430.9h1M269.3 432.0h1M271.0 430.8h1M266.0 436.4h1M266.3 432.1h1M271.4 432.9h1M268.0 432.1h1M272.4 433.0h1M261.7 430.3h1M271.2 432.8h1M264.4 432.8h1M273.6 430.6h1M262.7 429.9h1M268.3 430.4h1M268.0 432.1h1M269.8 431.2h1M265.7 434.0h1M271.1 430.9h1M266.2 430.0h1M263.0 434.4h1M265.0 431.7h1M267.6 432.8h1M264.7 432.6h1M265.1 431.9h1M267.4 429.2h1M267.9 431.1h1M265.5 430.9h1M265.2 432.8h1M267.8 430.6h1M267.7 433.4h1M267.9 433.9h1M274.9 427.8h1M264.6 432.1h1M269.1 429.6h1M271.4 433.5h1M262.9 431.0h1M273.1 434.2h1M262.2 431.9h1M267.3 433.4h1M264.4 431.6h1M263.5 430.0h1M272.8 431.8h1M260.4 432.3h1M260.4 434.9h1M264.5 433.0h1M271.4 431.0h1M268.6 433.3h1M266.5 432.5h1M275.2 432.9h1M265.1 431.7h1M259.5 432.5h1M268.2 433.2h1M262.8 432.2h1M270.4 432.1h1M265.3 431.8h1M268.1 435.3h1M266.8 432.4h1M266.9 428.4h1M265.4 433.3h1M262.2 432.2h1M262.5 433.7h1M266.9 432.1h1M263.0 433.2h1M267.4 431.7h1M270.1 431.9h1M269.9 433.0h1M269.9 432.7h1M270.1 432.4h1M262.3 433.5h1M270.7 431.1h1M267.8 431.2h1M270.2 434.7h1M267.9 430.7h1M266.9 431.7h1M268.5 431.2h1M265.2 432.4h1M271.6 430.0h1M271.5 433.1h1M267.5 433.8h1M257.8 430.9h1M264.9 432.4h1M262.2 432.9h1M275.4 432.4h1M267.5 430.2h1M266.0 433.7h1M260.6 434.7h1M268.4 434.8h1M268.5 431.3h1M274.1 431.3h1M262.1 429.6h1M264.7 432.3h1M264.3 433.2h1M271.3 431.6h1M265.7 431.6h1M261.5 434.3h1M268.0 432.5h1M264.9 433.2h1M257.8 431.6h1M267.7 429.9h1M262.5 432.4h1M259.5 431.7h1M267.8 430.9h1M269.7 432.9h1M255.9 433.7h1M267.2 432.6h1M265.3 432.0h1M264.1 431.6h1M266.2 430.7h1M266.2 434.5h1M265.0 433.5h1M267.3 431.5h1M268.3 430.7h1M268.8 431.5h1M267.5 433.1h1M267.1 433.1h1M260.2 431.4h1M269.4 433.6h1M270.9 431.3h1M272.2 430.9h1M270.0 432.2h1M269.2 431.1h1M269.3 430.6h1M269.3 432.5h1M269.7 433.4h1M268.5 430.6h1M273.8 432.4h1M274.8 432.3h1M264.5 431.0h1M264.9 433.2h1M263.2 433.3h1M269.6 432.1h1M270.4 429.4h1M261.4 429.8h1M261.3 430.1h1M269.7 433.2h1M266.2 428.8h1M268.3 434.2h1M263.8 432.4h1M262.2 432.2h1M271.7 433.5h1M261.8 431.2h1M266.8 432.5h1M255.2 431.0h1M264.4 431.7h1M266.3 431.9h1M268.0 432.7h1M270.2 435.3h1M261.8 431.1h1M265.5 432.6h1M264.6 431.2h1M267.2 432.7h1M271.8 430.7h1M264.9 433.0h1M276.4 431.7h1M263.0 431.8h1M269.0 430.5h1M261.1 435.5h1M269.4 431.6h1M274.1 431.8h1M276.2 431.9h1M264.3 434.7h1M267.7 433.1h1M266.7 433.5h1M263.3 434.7h1M266.3 432.0h1M267.7 431.4h1M267.4 431.1h1M272.0 431.6h1M264.5 431.4h1M267.7 431.7h1M269.0 430.5h1M263.5 433.0h1M271.1 432.5h1M263.1 432.4h1M268.3 434.1h1M264.2 432.5h1M267.1 433.1h1M272.7 432.6h1M269.1 434.3h1M265.5 432.7h1M268.0 434.6h1M264.5 433.9h1M274.8 434.1h1M260.2 432.9h1M268.4 435.7h1M267.4 434.5h1M271.0 430.9h1M272.7 434.1h1"/></g>
<text x="1.30" y="19.50" font-size="24.8" text-anchor="start" font-weight="bold"  xml:space="preserve"><tspan xml:space="preserve">A</tspan></text>
<text x="182.00" y="19.40" font-size="24.8" text-anchor="start" font-weight="bold"  xml:space="preserve"><tspan xml:space="preserve">B</tspan></text>
<text x="367.50" y="19.40" font-size="24.8" text-anchor="start" font-weight="bold"  xml:space="preserve"><tspan xml:space="preserve">C</tspan></text>
<text x="-0.60" y="213.00" font-size="24.8" text-anchor="start" font-weight="bold"  xml:space="preserve"><tspan xml:space="preserve">D</tspan></text>
<text x="193.80" y="212.30" font-size="24.8" text-anchor="start" font-weight="bold"  xml:space="preserve"><tspan xml:space="preserve">E</tspan></text>
<text x="0.50" y="521.40" font-size="24.8" text-anchor="start" font-weight="bold"  xml:space="preserve"><tspan xml:space="preserve">F</tspan></text>
<text x="271.00" y="521.60" font-size="24.8" text-anchor="start" font-weight="bold"  xml:space="preserve"><tspan xml:space="preserve">G</tspan></text>
<line x1="62.50" y1="124.50" x2="62.50" y2="122.50" stroke="#0a0a0a" stroke-width="1"/>
<line x1="59.50" y1="122.50" x2="65.50" y2="122.50" stroke="#0a0a0a" stroke-width="1"/>
<rect x="54.50" y="124.50" width="16.00" height="26.00" fill="#fff" stroke="#0a0a0a" stroke-width="1"/>
<line x1="91.50" y1="109.50" x2="91.50" y2="100.00" stroke="#0a0a0a" stroke-width="1"/>
<line x1="88.75" y1="100.50" x2="94.75" y2="100.50" stroke="#0a0a0a" stroke-width="1"/>
<rect x="83.50" y="109.50" width="17.00" height="41.00" fill="#0a0a0a" stroke="#0a0a0a" stroke-width="1"/>
<line x1="122.50" y1="76.50" x2="122.50" y2="56.50" stroke="#0a0a0a" stroke-width="1"/>
<line x1="119.00" y1="56.50" x2="125.00" y2="56.50" stroke="#0a0a0a" stroke-width="1"/>
<rect x="113.50" y="76.50" width="17.00" height="74.00" fill="#0a0a0a" stroke="#0a0a0a" stroke-width="1"/>
<line x1="42.50" y1="47.50" x2="42.50" y2="151.00" stroke="#0a0a0a" stroke-width="1"/>
<line x1="42.00" y1="150.50" x2="143.50" y2="150.50" stroke="#0a0a0a" stroke-width="1"/>
<line x1="40.00" y1="150.50" x2="42.50" y2="150.50" stroke="#0a0a0a" stroke-width="1"/>
<text x="37.50" y="154.15" font-size="8.2" text-anchor="end"  xml:space="preserve"><tspan xml:space="preserve">0</tspan></text>
<line x1="40.00" y1="124.50" x2="42.50" y2="124.50" stroke="#0a0a0a" stroke-width="1"/>
<text x="37.50" y="128.40" font-size="8.2" text-anchor="end"  xml:space="preserve"><tspan xml:space="preserve">50</tspan></text>
<line x1="40.00" y1="99.50" x2="42.50" y2="99.50" stroke="#0a0a0a" stroke-width="1"/>
<text x="37.50" y="102.65" font-size="8.2" text-anchor="end"  xml:space="preserve"><tspan xml:space="preserve">100</tspan></text>
<line x1="40.00" y1="73.50" x2="42.50" y2="73.50" stroke="#0a0a0a" stroke-width="1"/>
<text x="37.50" y="76.90" font-size="8.2" text-anchor="end"  xml:space="preserve"><tspan xml:space="preserve">150</tspan></text>
<line x1="40.00" y1="47.50" x2="42.50" y2="47.50" stroke="#0a0a0a" stroke-width="1"/>
<text x="37.50" y="51.15" font-size="8.2" text-anchor="end"  xml:space="preserve"><tspan xml:space="preserve">200</tspan></text>
<line x1="40.60" y1="137.50" x2="42.50" y2="137.50" stroke="#0a0a0a" stroke-width="1"/>
<line x1="40.60" y1="111.50" x2="42.50" y2="111.50" stroke="#0a0a0a" stroke-width="1"/>
<line x1="40.60" y1="86.50" x2="42.50" y2="86.50" stroke="#0a0a0a" stroke-width="1"/>
<line x1="40.60" y1="60.50" x2="42.50" y2="60.50" stroke="#0a0a0a" stroke-width="1"/>
<text x="62.50" y="165.40" font-size="7.9" text-anchor="middle"  xml:space="preserve"><tspan xml:space="preserve">PBS</tspan></text>
<text x="91.00" y="165.40" font-size="7.9" text-anchor="middle"  xml:space="preserve"><tspan xml:space="preserve">100</tspan></text>
<text x="122.50" y="165.40" font-size="7.9" text-anchor="middle"  xml:space="preserve"><tspan xml:space="preserve">1000</tspan></text>
<text x="137.50" y="165.40" font-size="7.9" text-anchor="start"  xml:space="preserve"><tspan xml:space="preserve">IU/kg</tspan></text>
<text x="95.00" y="31.40" font-size="8.0" text-anchor="middle"  xml:space="preserve"><tspan xml:space="preserve">n=6; <tspan font-style="italic">P</tspan>&lt;0.001</tspan></text>
<text x="7.80" y="98.00" font-size="7.9" text-anchor="middle" transform="rotate(-90 7.80 98.00)"  xml:space="preserve"><tspan xml:space="preserve">Number of BFU-E</tspan></text>
<text x="17.30" y="99.50" font-size="7.6" text-anchor="middle" transform="rotate(-90 17.30 99.50)"  xml:space="preserve"><tspan xml:space="preserve">per 1 x 10</tspan><tspan dy="-2.74" font-size="4.71" xml:space="preserve">5</tspan><tspan dy="2.74" xml:space="preserve"> cells</tspan></text>
<line x1="247.50" y1="116.50" x2="247.50" y2="108.00" stroke="#0a0a0a" stroke-width="1"/>
<line x1="244.00" y1="108.50" x2="250.00" y2="108.50" stroke="#0a0a0a" stroke-width="1"/>
<rect x="239.50" y="116.50" width="15.00" height="34.00" fill="#fff" stroke="#0a0a0a" stroke-width="1"/>
<line x1="276.50" y1="84.50" x2="276.50" y2="59.50" stroke="#0a0a0a" stroke-width="1"/>
<line x1="273.75" y1="59.50" x2="279.75" y2="59.50" stroke="#0a0a0a" stroke-width="1"/>
<rect x="269.50" y="84.50" width="15.00" height="66.00" fill="#0a0a0a" stroke="#0a0a0a" stroke-width="1"/>
<line x1="307.50" y1="62.50" x2="307.50" y2="38.50" stroke="#0a0a0a" stroke-width="1"/>
<line x1="304.00" y1="38.50" x2="310.00" y2="38.50" stroke="#0a0a0a" stroke-width="1"/>
<rect x="299.50" y="62.50" width="15.00" height="88.00" fill="#0a0a0a" stroke="#0a0a0a" stroke-width="1"/>
<line x1="226.50" y1="35.50" x2="226.50" y2="151.00" stroke="#0a0a0a" stroke-width="1"/>
<line x1="225.80" y1="150.50" x2="325.00" y2="150.50" stroke="#0a0a0a" stroke-width="1"/>
<line x1="223.80" y1="150.50" x2="226.30" y2="150.50" stroke="#0a0a0a" stroke-width="1"/>
<text x="221.80" y="153.45" font-size="8.2" text-anchor="end"  xml:space="preserve"><tspan xml:space="preserve">0</tspan></text>
<line x1="223.80" y1="124.50" x2="226.30" y2="124.50" stroke="#0a0a0a" stroke-width="1"/>
<text x="221.80" y="127.70" font-size="8.2" text-anchor="end"  xml:space="preserve"><tspan xml:space="preserve">20</tspan></text>
<line x1="223.80" y1="99.50" x2="226.30" y2="99.50" stroke="#0a0a0a" stroke-width="1"/>
<text x="221.80" y="101.95" font-size="8.2" text-anchor="end"  xml:space="preserve"><tspan xml:space="preserve">40</tspan></text>
<line x1="223.80" y1="73.50" x2="226.30" y2="73.50" stroke="#0a0a0a" stroke-width="1"/>
<text x="221.80" y="76.20" font-size="8.2" text-anchor="end"  xml:space="preserve"><tspan xml:space="preserve">60</tspan></text>
<line x1="223.80" y1="47.50" x2="226.30" y2="47.50" stroke="#0a0a0a" stroke-width="1"/>
<text x="221.80" y="50.45" font-size="8.2" text-anchor="end"  xml:space="preserve"><tspan xml:space="preserve">80</tspan></text>
<line x1="224.40" y1="137.50" x2="226.30" y2="137.50" stroke="#0a0a0a" stroke-width="1"/>
<line x1="224.40" y1="111.50" x2="226.30" y2="111.50" stroke="#0a0a0a" stroke-width="1"/>
<line x1="224.40" y1="86.50" x2="226.30" y2="86.50" stroke="#0a0a0a" stroke-width="1"/>
<line x1="224.40" y1="60.50" x2="226.30" y2="60.50" stroke="#0a0a0a" stroke-width="1"/>
<line x1="224.40" y1="35.50" x2="226.30" y2="35.50" stroke="#0a0a0a" stroke-width="1"/>
<text x="247.50" y="164.00" font-size="7.9" text-anchor="middle"  xml:space="preserve"><tspan xml:space="preserve">PBS</tspan></text>
<text x="276.00" y="164.00" font-size="7.9" text-anchor="middle"  xml:space="preserve"><tspan xml:space="preserve">100</tspan></text>
<text x="307.20" y="164.00" font-size="7.9" text-anchor="middle"  xml:space="preserve"><tspan xml:space="preserve">1000</tspan></text>
<text x="322.00" y="164.00" font-size="7.9" text-anchor="start"  xml:space="preserve"><tspan xml:space="preserve">IU/kg</tspan></text>
<text x="279.10" y="30.80" font-size="8.0" text-anchor="middle"  xml:space="preserve"><tspan xml:space="preserve">n=7; <tspan font-style="italic">P</tspan>=0.004</tspan></text>
<text x="191.10" y="98.00" font-size="8.1" text-anchor="middle" transform="rotate(-90 191.10 98.00)"  xml:space="preserve"><tspan xml:space="preserve">Number of GM-CFU</tspan></text>
<text x="200.30" y="98.40" font-size="8.0" text-anchor="middle" transform="rotate(-90 200.30 98.40)"  xml:space="preserve"><tspan xml:space="preserve">per 1 x 10</tspan><tspan dy="-2.88" font-size="4.96" xml:space="preserve">5</tspan><tspan dy="2.88" xml:space="preserve"> cells</tspan></text>
<line x1="428.50" y1="123.50" x2="428.50" y2="112.50" stroke="#0a0a0a" stroke-width="1"/>
<line x1="425.50" y1="112.50" x2="431.50" y2="112.50" stroke="#0a0a0a" stroke-width="1"/>
<rect x="421.50" y="123.50" width="15.00" height="27.00" fill="#fff" stroke="#0a0a0a" stroke-width="1"/>
<line x1="458.50" y1="99.50" x2="458.50" y2="88.50" stroke="#0a0a0a" stroke-width="1"/>
<line x1="455.00" y1="88.50" x2="461.00" y2="88.50" stroke="#0a0a0a" stroke-width="1"/>
<rect x="450.50" y="99.50" width="15.00" height="51.00" fill="#0a0a0a" stroke="#0a0a0a" stroke-width="1"/>
<line x1="486.50" y1="75.50" x2="486.50" y2="54.50" stroke="#0a0a0a" stroke-width="1"/>
<line x1="483.50" y1="54.50" x2="489.50" y2="54.50" stroke="#0a0a0a" stroke-width="1"/>
<rect x="479.50" y="75.50" width="15.00" height="75.00" fill="#0a0a0a" stroke="#0a0a0a" stroke-width="1"/>
<line x1="410.50" y1="46.50" x2="410.50" y2="151.00" stroke="#0a0a0a" stroke-width="1"/>
<line x1="409.50" y1="150.50" x2="502.50" y2="150.50" stroke="#0a0a0a" stroke-width="1"/>
<line x1="407.50" y1="150.50" x2="410.00" y2="150.50" stroke="#0a0a0a" stroke-width="1"/>
<text x="403.50" y="154.45" font-size="8.2" text-anchor="end"  xml:space="preserve"><tspan xml:space="preserve">0</tspan></text>
<line x1="407.50" y1="124.50" x2="410.00" y2="124.50" stroke="#0a0a0a" stroke-width="1"/>
<text x="403.50" y="128.45" font-size="8.2" text-anchor="end"  xml:space="preserve"><tspan xml:space="preserve">0.5</tspan></text>
<line x1="407.50" y1="98.50" x2="410.00" y2="98.50" stroke="#0a0a0a" stroke-width="1"/>
<text x="403.50" y="102.45" font-size="8.2" text-anchor="end"  xml:space="preserve"><tspan xml:space="preserve">1.0</tspan></text>
<line x1="407.50" y1="72.50" x2="410.00" y2="72.50" stroke="#0a0a0a" stroke-width="1"/>
<text x="403.50" y="76.45" font-size="8.2" text-anchor="end"  xml:space="preserve"><tspan xml:space="preserve">1.5</tspan></text>
<line x1="407.50" y1="46.50" x2="410.00" y2="46.50" stroke="#0a0a0a" stroke-width="1"/>
<text x="403.50" y="50.45" font-size="8.2" text-anchor="end"  xml:space="preserve"><tspan xml:space="preserve">2.0</tspan></text>
<line x1="408.10" y1="137.50" x2="410.00" y2="137.50" stroke="#0a0a0a" stroke-width="1"/>
<line x1="408.10" y1="111.50" x2="410.00" y2="111.50" stroke="#0a0a0a" stroke-width="1"/>
<line x1="408.10" y1="85.50" x2="410.00" y2="85.50" stroke="#0a0a0a" stroke-width="1"/>
<line x1="408.10" y1="59.50" x2="410.00" y2="59.50" stroke="#0a0a0a" stroke-width="1"/>
<text x="428.75" y="164.00" font-size="7.9" text-anchor="middle"  xml:space="preserve"><tspan xml:space="preserve">PBS</tspan></text>
<text x="457.90" y="164.00" font-size="7.9" text-anchor="middle"  xml:space="preserve"><tspan xml:space="preserve">100</tspan></text>
<text x="487.75" y="164.00" font-size="7.9" text-anchor="middle"  xml:space="preserve"><tspan xml:space="preserve">1000</tspan></text>
<text x="501.25" y="164.00" font-size="7.9" text-anchor="start"  xml:space="preserve"><tspan xml:space="preserve">IU/kg</tspan></text>
<text x="457.80" y="40.80" font-size="8.0" text-anchor="middle"  xml:space="preserve"><tspan xml:space="preserve">n=7; <tspan font-style="italic">P</tspan>=0.005</tspan></text>
<text x="375.40" y="97.50" font-size="8.3" text-anchor="middle" transform="rotate(-90 375.40 97.50)"  xml:space="preserve"><tspan xml:space="preserve">Sca-1</tspan><tspan dy="-2.99" font-size="5.15" xml:space="preserve">+</tspan><tspan dy="2.99" xml:space="preserve"> / lin</tspan><tspan dy="-2.99" font-size="5.15" xml:space="preserve">-</tspan><tspan dy="2.99" xml:space="preserve"> cells (%)</tspan></text>
<line x1="65.50" y1="316.50" x2="65.50" y2="311.50" stroke="#0a0a0a" stroke-width="1"/>
<line x1="62.50" y1="311.50" x2="69.00" y2="311.50" stroke="#0a0a0a" stroke-width="1"/>
<rect x="58.50" y="316.50" width="15.00" height="27.00" fill="#fff" stroke="#0a0a0a" stroke-width="1"/>
<line x1="96.50" y1="289.50" x2="96.50" y2="278.50" stroke="#0a0a0a" stroke-width="1"/>
<line x1="93.50" y1="278.50" x2="100.00" y2="278.50" stroke="#0a0a0a" stroke-width="1"/>
<rect x="89.50" y="289.50" width="15.00" height="54.00" fill="#0a0a0a" stroke="#0a0a0a" stroke-width="1"/>
<line x1="130.50" y1="259.50" x2="130.50" y2="240.50" stroke="#0a0a0a" stroke-width="1"/>
<line x1="126.75" y1="240.50" x2="133.25" y2="240.50" stroke="#0a0a0a" stroke-width="1"/>
<rect x="122.50" y="259.50" width="16.00" height="84.00" fill="#0a0a0a" stroke="#0a0a0a" stroke-width="1"/>
<line x1="42.50" y1="230.50" x2="42.50" y2="343.50" stroke="#0a0a0a" stroke-width="1"/>
<line x1="41.60" y1="343.50" x2="148.50" y2="343.50" stroke="#0a0a0a" stroke-width="1"/>
<line x1="39.60" y1="343.50" x2="42.10" y2="343.50" stroke="#0a0a0a" stroke-width="1"/>
<text x="35.00" y="345.65" font-size="8.2" text-anchor="end"  xml:space="preserve"><tspan xml:space="preserve">0</tspan></text>
<line x1="39.60" y1="318.50" x2="42.10" y2="318.50" stroke="#0a0a0a" stroke-width="1"/>
<text x="35.00" y="320.65" font-size="8.2" text-anchor="end"  xml:space="preserve"><tspan xml:space="preserve">0.5</tspan></text>
<line x1="39.60" y1="293.50" x2="42.10" y2="293.50" stroke="#0a0a0a" stroke-width="1"/>
<text x="35.00" y="295.65" font-size="8.2" text-anchor="end"  xml:space="preserve"><tspan xml:space="preserve">1.0</tspan></text>
<line x1="39.60" y1="268.50" x2="42.10" y2="268.50" stroke="#0a0a0a" stroke-width="1"/>
<text x="35.00" y="270.65" font-size="8.2" text-anchor="end"  xml:space="preserve"><tspan xml:space="preserve">1.5</tspan></text>
<line x1="39.60" y1="243.50" x2="42.10" y2="243.50" stroke="#0a0a0a" stroke-width="1"/>
<text x="35.00" y="245.65" font-size="8.2" text-anchor="end"  xml:space="preserve"><tspan xml:space="preserve">2.0</tspan></text>
<line x1="40.20" y1="330.50" x2="42.10" y2="330.50" stroke="#0a0a0a" stroke-width="1"/>
<line x1="40.20" y1="305.50" x2="42.10" y2="305.50" stroke="#0a0a0a" stroke-width="1"/>
<line x1="40.20" y1="280.50" x2="42.10" y2="280.50" stroke="#0a0a0a" stroke-width="1"/>
<line x1="40.20" y1="255.50" x2="42.10" y2="255.50" stroke="#0a0a0a" stroke-width="1"/>
<line x1="40.20" y1="230.50" x2="42.10" y2="230.50" stroke="#0a0a0a" stroke-width="1"/>
<text x="65.70" y="356.00" font-size="7.9" text-anchor="middle"  xml:space="preserve"><tspan xml:space="preserve">PBS</tspan></text>
<text x="130.30" y="356.00" font-size="7.9" text-anchor="middle"  xml:space="preserve"><tspan xml:space="preserve">1000</tspan></text>
<text x="146.30" y="356.00" font-size="7.9" text-anchor="start"  xml:space="preserve"><tspan xml:space="preserve">IU/kg</tspan></text>
<text x="98.00" y="232.90" font-size="8.0" text-anchor="middle"  xml:space="preserve"><tspan xml:space="preserve">n=7; <tspan font-style="italic">P</tspan>&lt;0.001</tspan></text>
<text x="96.40" y="357.30" font-size="7.9" text-anchor="middle"  xml:space="preserve"><tspan xml:space="preserve">100</tspan></text>
<text x="8.00" y="291.90" font-size="7.8" text-anchor="middle" transform="rotate(-90 8.00 291.90)"  xml:space="preserve"><tspan xml:space="preserve">Sca-1</tspan><tspan dy="-2.81" font-size="4.84" xml:space="preserve">+</tspan><tspan dy="2.81" xml:space="preserve"> Lin</tspan><tspan dy="-2.81" font-size="4.84" xml:space="preserve">-</tspan><tspan dy="2.81" xml:space="preserve"> BrdU</tspan><tspan dy="-2.81" font-size="4.84" xml:space="preserve">+</tspan><tspan dy="2.81" xml:space="preserve"> (%)</tspan></text>
<line x1="409.50" y1="360.50" x2="409.50" y2="345.00" stroke="#0a0a0a" stroke-width="1"/>
<line x1="406.00" y1="345.50" x2="413.50" y2="345.50" stroke="#0a0a0a" stroke-width="1"/>
<rect x="400.50" y="360.50" width="19.00" height="47.00" fill="#fff" stroke="#0a0a0a" stroke-width="1"/>
<line x1="447.50" y1="337.00" x2="447.50" y2="316.00" stroke="#0a0a0a" stroke-width="1"/>
<line x1="443.45" y1="316.50" x2="450.95" y2="316.50" stroke="#0a0a0a" stroke-width="1"/>
<rect x="437.50" y="337.50" width="20.00" height="70.00" fill="#0a0a0a" stroke="#0a0a0a" stroke-width="1"/>
<line x1="485.50" y1="305.50" x2="485.50" y2="291.00" stroke="#0a0a0a" stroke-width="1"/>
<line x1="481.25" y1="291.50" x2="488.75" y2="291.50" stroke="#0a0a0a" stroke-width="1"/>
<rect x="475.50" y="305.50" width="20.00" height="102.00" fill="#0a0a0a" stroke="#0a0a0a" stroke-width="1"/>
<line x1="388.50" y1="264.50" x2="388.50" y2="407.50" stroke="#0a0a0a" stroke-width="1"/>
<line x1="387.50" y1="407.50" x2="498.50" y2="407.50" stroke="#0a0a0a" stroke-width="1"/>
<line x1="385.30" y1="407.50" x2="388.00" y2="407.50" stroke="#0a0a0a" stroke-width="1"/>
<text x="380.70" y="410.28" font-size="9.1" text-anchor="end"  xml:space="preserve"><tspan xml:space="preserve">0</tspan></text>
<line x1="385.30" y1="386.50" x2="388.00" y2="386.50" stroke="#0a0a0a" stroke-width="1"/>
<text x="380.70" y="389.92" font-size="9.1" text-anchor="end"  xml:space="preserve"><tspan xml:space="preserve">0.2</tspan></text>
<line x1="385.30" y1="366.50" x2="388.00" y2="366.50" stroke="#0a0a0a" stroke-width="1"/>
<text x="380.70" y="369.56" font-size="9.1" text-anchor="end"  xml:space="preserve"><tspan xml:space="preserve">0.4</tspan></text>
<line x1="385.30" y1="345.50" x2="388.00" y2="345.50" stroke="#0a0a0a" stroke-width="1"/>
<text x="380.70" y="349.20" font-size="9.1" text-anchor="end"  xml:space="preserve"><tspan xml:space="preserve">0.6</tspan></text>
<line x1="385.30" y1="325.50" x2="388.00" y2="325.50" stroke="#0a0a0a" stroke-width="1"/>
<text x="380.70" y="328.85" font-size="9.1" text-anchor="end"  xml:space="preserve"><tspan xml:space="preserve">0.8</tspan></text>
<line x1="385.30" y1="305.50" x2="388.00" y2="305.50" stroke="#0a0a0a" stroke-width="1"/>
<text x="380.70" y="308.49" font-size="9.1" text-anchor="end"  xml:space="preserve"><tspan xml:space="preserve">1.0</tspan></text>
<line x1="385.30" y1="284.50" x2="388.00" y2="284.50" stroke="#0a0a0a" stroke-width="1"/>
<text x="380.70" y="288.13" font-size="9.1" text-anchor="end"  xml:space="preserve"><tspan xml:space="preserve">1.2</tspan></text>
<line x1="385.30" y1="264.50" x2="388.00" y2="264.50" stroke="#0a0a0a" stroke-width="1"/>
<text x="380.70" y="267.78" font-size="9.1" text-anchor="end"  xml:space="preserve"><tspan xml:space="preserve">1.4</tspan></text>
<text x="410.10" y="422.70" font-size="8.8" text-anchor="middle"  xml:space="preserve"><tspan xml:space="preserve">PBS</tspan></text>
<text x="447.50" y="422.70" font-size="8.8" text-anchor="middle"  xml:space="preserve"><tspan xml:space="preserve">100</tspan></text>
<text x="486.00" y="422.70" font-size="8.8" text-anchor="middle"  xml:space="preserve"><tspan xml:space="preserve">1000</tspan></text>
<text x="499.70" y="422.70" font-size="8.8" text-anchor="start"  xml:space="preserve"><tspan xml:space="preserve">IU/kg</tspan></text>
<text x="461.70" y="263.40" font-size="8.55" text-anchor="middle"  xml:space="preserve"><tspan xml:space="preserve">n=6; <tspan font-style="italic">P</tspan>&lt;0.001</tspan></text>
<text x="355.30" y="333.60" font-size="9.0" text-anchor="middle" transform="rotate(-90 355.30 333.60)"  xml:space="preserve"><tspan xml:space="preserve">Sca-1</tspan><tspan dy="-3.24" font-size="5.58" xml:space="preserve">+</tspan><tspan dy="3.24" xml:space="preserve"> / lin</tspan><tspan dy="-3.24" font-size="5.58" xml:space="preserve">-</tspan><tspan dy="3.24" xml:space="preserve"> cells in  S-phase (%)</tspan></text>
<text x="346.60" y="254.60" font-size="20.2" text-anchor="start" font-weight="bold"  xml:space="preserve"><tspan xml:space="preserve">iii</tspan></text>
<line x1="88.50" y1="686.50" x2="88.50" y2="671.50" stroke="#0a0a0a" stroke-width="1"/>
<line x1="83.25" y1="671.50" x2="93.75" y2="671.50" stroke="#0a0a0a" stroke-width="1"/>
<rect x="74.50" y="686.50" width="28.00" height="59.00" fill="#fff" stroke="#0a0a0a" stroke-width="1"/>
<line x1="146.50" y1="672.50" x2="146.50" y2="652.00" stroke="#0a0a0a" stroke-width="1"/>
<line x1="141.25" y1="652.50" x2="151.75" y2="652.50" stroke="#0a0a0a" stroke-width="1"/>
<rect x="132.50" y="672.50" width="28.00" height="73.00" fill="#0a0a0a" stroke="#0a0a0a" stroke-width="1"/>
<line x1="204.50" y1="584.50" x2="204.50" y2="544.50" stroke="#0a0a0a" stroke-width="1"/>
<line x1="199.25" y1="544.50" x2="209.75" y2="544.50" stroke="#0a0a0a" stroke-width="1"/>
<rect x="190.50" y="584.50" width="28.00" height="161.00" fill="#0a0a0a" stroke="#0a0a0a" stroke-width="1"/>
<line x1="50.50" y1="538.00" x2="50.50" y2="746.00" stroke="#0a0a0a" stroke-width="1"/>
<line x1="50.20" y1="745.50" x2="228.50" y2="745.50" stroke="#0a0a0a" stroke-width="1"/>
<line x1="44.70" y1="745.50" x2="50.70" y2="745.50" stroke="#0a0a0a" stroke-width="1"/>
<text x="36.20" y="750.25" font-size="13.2" text-anchor="end"  xml:space="preserve"><tspan xml:space="preserve">0</tspan></text>
<line x1="44.70" y1="684.50" x2="50.70" y2="684.50" stroke="#0a0a0a" stroke-width="1"/>
<text x="36.20" y="688.75" font-size="13.2" text-anchor="end"  xml:space="preserve"><tspan xml:space="preserve">1</tspan></text>
<line x1="44.70" y1="619.50" x2="50.70" y2="619.50" stroke="#0a0a0a" stroke-width="1"/>
<text x="36.20" y="623.75" font-size="13.2" text-anchor="end"  xml:space="preserve"><tspan xml:space="preserve">2</tspan></text>
<line x1="44.70" y1="556.50" x2="50.70" y2="556.50" stroke="#0a0a0a" stroke-width="1"/>
<text x="36.20" y="560.95" font-size="13.2" text-anchor="end"  xml:space="preserve"><tspan xml:space="preserve">3</tspan></text>
<line x1="45.20" y1="714.50" x2="50.70" y2="714.50" stroke="#0a0a0a" stroke-width="1"/>
<line x1="45.20" y1="651.50" x2="50.70" y2="651.50" stroke="#0a0a0a" stroke-width="1"/>
<line x1="45.20" y1="588.50" x2="50.70" y2="588.50" stroke="#0a0a0a" stroke-width="1"/>
<text x="87.00" y="777.50" font-size="13" text-anchor="middle"  xml:space="preserve"><tspan xml:space="preserve">PBS</tspan></text>
<text x="146.90" y="777.50" font-size="13" text-anchor="middle"  xml:space="preserve"><tspan xml:space="preserve">100</tspan></text>
<text x="203.90" y="777.50" font-size="13" text-anchor="middle"  xml:space="preserve"><tspan xml:space="preserve">1000</tspan></text>
<text x="227.80" y="777.50" font-size="13" text-anchor="start"  xml:space="preserve"><tspan xml:space="preserve">IU/kg</tspan></text>
<text x="147.90" y="531.80" font-size="12.7" text-anchor="middle"  xml:space="preserve"><tspan xml:space="preserve">n=7; <tspan font-style="italic">P</tspan>&lt;0.001</tspan></text>
<text x="11.60" y="647.80" font-size="13.4" text-anchor="middle" transform="rotate(-90 11.60 647.80)"  xml:space="preserve"><tspan xml:space="preserve">CD34</tspan><tspan dy="-4.82" font-size="8.31" xml:space="preserve">+</tspan><tspan dy="4.82" xml:space="preserve"> / Flk-1</tspan><tspan dy="-4.82" font-size="8.31" xml:space="preserve">+</tspan><tspan dy="4.82" xml:space="preserve"> cells (%)</tspan></text>
<line x1="350.50" y1="688.50" x2="350.50" y2="667.00" stroke="#0a0a0a" stroke-width="1"/>
<line x1="345.00" y1="667.50" x2="356.00" y2="667.50" stroke="#0a0a0a" stroke-width="1"/>
<rect x="336.50" y="688.50" width="28.00" height="57.00" fill="#fff" stroke="#666" stroke-width="1"/>
<line x1="409.50" y1="641.50" x2="409.50" y2="617.50" stroke="#0a0a0a" stroke-width="1"/>
<line x1="403.75" y1="617.50" x2="414.75" y2="617.50" stroke="#0a0a0a" stroke-width="1"/>
<rect x="394.50" y="641.50" width="30.00" height="104.00" fill="#0a0a0a" stroke="#0a0a0a" stroke-width="1"/>
<line x1="467.50" y1="583.50" x2="467.50" y2="539.50" stroke="#0a0a0a" stroke-width="1"/>
<line x1="462.25" y1="539.50" x2="473.25" y2="539.50" stroke="#0a0a0a" stroke-width="1"/>
<rect x="453.50" y="583.50" width="29.00" height="162.00" fill="#0a0a0a" stroke="#0a0a0a" stroke-width="1"/>
<line x1="315.50" y1="532.00" x2="315.50" y2="746.00" stroke="#0a0a0a" stroke-width="1"/>
<line x1="314.50" y1="745.50" x2="489.00" y2="745.50" stroke="#0a0a0a" stroke-width="1"/>
<line x1="309.30" y1="745.50" x2="315.00" y2="745.50" stroke="#0a0a0a" stroke-width="1"/>
<text x="303.30" y="750.18" font-size="13.0" text-anchor="end"  xml:space="preserve"><tspan xml:space="preserve">0</tspan></text>
<line x1="309.30" y1="692.50" x2="315.00" y2="692.50" stroke="#0a0a0a" stroke-width="1"/>
<text x="303.30" y="696.88" font-size="13.0" text-anchor="end"  xml:space="preserve"><tspan xml:space="preserve">1</tspan></text>
<line x1="309.30" y1="638.50" x2="315.00" y2="638.50" stroke="#0a0a0a" stroke-width="1"/>
<text x="303.30" y="643.58" font-size="13.0" text-anchor="end"  xml:space="preserve"><tspan xml:space="preserve">2</tspan></text>
<line x1="309.30" y1="585.50" x2="315.00" y2="585.50" stroke="#0a0a0a" stroke-width="1"/>
<text x="303.30" y="590.28" font-size="13.0" text-anchor="end"  xml:space="preserve"><tspan xml:space="preserve">3</tspan></text>
<line x1="309.30" y1="532.50" x2="315.00" y2="532.50" stroke="#0a0a0a" stroke-width="1"/>
<text x="303.30" y="536.98" font-size="13.0" text-anchor="end"  xml:space="preserve"><tspan xml:space="preserve">4</tspan></text>
<text x="350.20" y="777.50" font-size="13" text-anchor="middle"  xml:space="preserve"><tspan xml:space="preserve">PBS</tspan></text>
<text x="409.80" y="777.50" font-size="13" text-anchor="middle"  xml:space="preserve"><tspan xml:space="preserve">100</tspan></text>
<text x="467.50" y="777.50" font-size="13" text-anchor="middle"  xml:space="preserve"><tspan xml:space="preserve">1000</tspan></text>
<text x="487.60" y="777.50" font-size="13" text-anchor="start"  xml:space="preserve"><tspan xml:space="preserve">IU/kg</tspan></text>
<text x="407.90" y="531.80" font-size="12.7" text-anchor="middle"  xml:space="preserve"><tspan xml:space="preserve">n=6; <tspan font-style="italic">P</tspan>&lt;0.001</tspan></text>
<text x="282.80" y="646.30" font-size="13.3" text-anchor="middle" transform="rotate(-90 282.80 646.30)"  xml:space="preserve"><tspan xml:space="preserve">Sca-1</tspan><tspan dy="-4.79" font-size="8.25" xml:space="preserve">+</tspan><tspan dy="4.79" xml:space="preserve"> / Flk-1</tspan><tspan dy="-4.79" font-size="8.25" xml:space="preserve">+</tspan><tspan dy="4.79" xml:space="preserve"> cells (%)</tspan></text>
<rect x="28.50" y="384.50" width="59.00" height="56.00" fill="none" stroke="#777" stroke-width="0.8"/>
<line x1="52.50" y1="384.00" x2="52.50" y2="440.00" stroke="#777" stroke-width="0.8"/>
<line x1="28.50" y1="421.50" x2="87.50" y2="421.50" stroke="#777" stroke-width="0.8"/>
<text x="29.30" y="447.60" font-size="5.6" text-anchor="middle"  xml:space="preserve"><tspan xml:space="preserve">10</tspan><tspan dy="-2.02" font-size="3.47" xml:space="preserve">0</tspan></text>
<text x="44.05" y="447.60" font-size="5.6" text-anchor="middle"  xml:space="preserve"><tspan xml:space="preserve">10</tspan><tspan dy="-2.02" font-size="3.47" xml:space="preserve">1</tspan></text>
<text x="58.80" y="447.60" font-size="5.6" text-anchor="middle"  xml:space="preserve"><tspan xml:space="preserve">10</tspan><tspan dy="-2.02" font-size="3.47" xml:space="preserve">2</tspan></text>
<text x="73.55" y="447.60" font-size="5.6" text-anchor="middle"  xml:space="preserve"><tspan xml:space="preserve">10</tspan><tspan dy="-2.02" font-size="3.47" xml:space="preserve">3</tspan></text>
<text x="88.30" y="447.60" font-size="5.6" text-anchor="middle"  xml:space="preserve"><tspan xml:space="preserve">10</tspan><tspan dy="-2.02" font-size="3.47" xml:space="preserve">4</tspan></text>
<text x="56.30" y="459.40" font-size="8.3" text-anchor="middle"  xml:space="preserve"><tspan xml:space="preserve">anti-BrdU-FITC</tspan></text>
<text x="53.40" y="475.40" font-size="8.2" text-anchor="middle"  xml:space="preserve"><tspan xml:space="preserve">PBS</tspan></text>
<rect x="105.50" y="384.50" width="58.00" height="56.00" fill="none" stroke="#777" stroke-width="0.8"/>
<line x1="129.50" y1="384.00" x2="129.50" y2="440.00" stroke="#777" stroke-width="0.8"/>
<line x1="105.00" y1="421.50" x2="163.00" y2="421.50" stroke="#777" stroke-width="0.8"/>
<text x="105.80" y="447.60" font-size="5.6" text-anchor="middle"  xml:space="preserve"><tspan xml:space="preserve">10</tspan><tspan dy="-2.02" font-size="3.47" xml:space="preserve">0</tspan></text>
<text x="120.30" y="447.60" font-size="5.6" text-anchor="middle"  xml:space="preserve"><tspan xml:space="preserve">10</tspan><tspan dy="-2.02" font-size="3.47" xml:space="preserve">1</tspan></text>
<text x="134.80" y="447.60" font-size="5.6" text-anchor="middle"  xml:space="preserve"><tspan xml:space="preserve">10</tspan><tspan dy="-2.02" font-size="3.47" xml:space="preserve">2</tspan></text>
<text x="149.30" y="447.60" font-size="5.6" text-anchor="middle"  xml:space="preserve"><tspan xml:space="preserve">10</tspan><tspan dy="-2.02" font-size="3.47" xml:space="preserve">3</tspan></text>
<text x="163.80" y="447.60" font-size="5.6" text-anchor="middle"  xml:space="preserve"><tspan xml:space="preserve">10</tspan><tspan dy="-2.02" font-size="3.47" xml:space="preserve">4</tspan></text>
<text x="133.00" y="459.40" font-size="8.3" text-anchor="middle"  xml:space="preserve"><tspan xml:space="preserve">anti-BrdU-FITC</tspan></text>
<text x="133.70" y="475.40" font-size="8.2" text-anchor="middle"  xml:space="preserve"><tspan xml:space="preserve">EPO</tspan></text>
<text x="25.50" y="439.50" font-size="5.6" text-anchor="middle" transform="rotate(-90 25.50 439.50)"  xml:space="preserve"><tspan xml:space="preserve">10</tspan><tspan dy="-2.02" font-size="3.47" xml:space="preserve">0</tspan></text>
<text x="102.00" y="439.50" font-size="5.6" text-anchor="middle" transform="rotate(-90 102.00 439.50)"  xml:space="preserve"><tspan xml:space="preserve">10</tspan><tspan dy="-2.02" font-size="3.47" xml:space="preserve">0</tspan></text>
<text x="25.50" y="425.50" font-size="5.6" text-anchor="middle" transform="rotate(-90 25.50 425.50)"  xml:space="preserve"><tspan xml:space="preserve">10</tspan><tspan dy="-2.02" font-size="3.47" xml:space="preserve">1</tspan></text>
<text x="102.00" y="425.50" font-size="5.6" text-anchor="middle" transform="rotate(-90 102.00 425.50)"  xml:space="preserve"><tspan xml:space="preserve">10</tspan><tspan dy="-2.02" font-size="3.47" xml:space="preserve">1</tspan></text>
<text x="25.50" y="411.50" font-size="5.6" text-anchor="middle" transform="rotate(-90 25.50 411.50)"  xml:space="preserve"><tspan xml:space="preserve">10</tspan><tspan dy="-2.02" font-size="3.47" xml:space="preserve">2</tspan></text>
<text x="102.00" y="411.50" font-size="5.6" text-anchor="middle" transform="rotate(-90 102.00 411.50)"  xml:space="preserve"><tspan xml:space="preserve">10</tspan><tspan dy="-2.02" font-size="3.47" xml:space="preserve">2</tspan></text>
<text x="25.50" y="397.50" font-size="5.6" text-anchor="middle" transform="rotate(-90 25.50 397.50)"  xml:space="preserve"><tspan xml:space="preserve">10</tspan><tspan dy="-2.02" font-size="3.47" xml:space="preserve">3</tspan></text>
<text x="102.00" y="397.50" font-size="5.6" text-anchor="middle" transform="rotate(-90 102.00 397.50)"  xml:space="preserve"><tspan xml:space="preserve">10</tspan><tspan dy="-2.02" font-size="3.47" xml:space="preserve">3</tspan></text>
<text x="25.50" y="383.50" font-size="5.6" text-anchor="middle" transform="rotate(-90 25.50 383.50)"  xml:space="preserve"><tspan xml:space="preserve">10</tspan><tspan dy="-2.02" font-size="3.47" xml:space="preserve">4</tspan></text>
<text x="102.00" y="383.50" font-size="5.6" text-anchor="middle" transform="rotate(-90 102.00 383.50)"  xml:space="preserve"><tspan xml:space="preserve">10</tspan><tspan dy="-2.02" font-size="3.47" xml:space="preserve">4</tspan></text>
<text x="9.00" y="413.70" font-size="8.5" text-anchor="middle" transform="rotate(-90 9.00 413.70)"  xml:space="preserve"><tspan xml:space="preserve">Sca-1-PE</tspan></text>
<rect x="225.50" y="247.50" width="80.00" height="77.00" fill="none" stroke="#333" stroke-width="0.9"/>
<rect x="228.50" y="251.50" width="47.00" height="38.00" fill="none" stroke="#444" stroke-width="0.8"/>
<rect x="251.50" y="293.50" width="19.00" height="17.00" fill="none" stroke="#444" stroke-width="0.8"/>
<rect x="234.50" y="293.50" width="15.00" height="26.00" fill="none" stroke="#444" stroke-width="0.8"/>
<rect x="225.50" y="293.50" width="6.00" height="26.00" fill="none" stroke="#444" stroke-width="0.8"/>
<text x="225.70" y="334.60" font-size="6.9" text-anchor="middle"  xml:space="preserve"><tspan xml:space="preserve">0</tspan></text>
<text x="240.78" y="334.60" font-size="6.9" text-anchor="middle"  xml:space="preserve"><tspan xml:space="preserve">50</tspan></text>
<text x="255.86" y="334.60" font-size="6.9" text-anchor="middle"  xml:space="preserve"><tspan xml:space="preserve">100</tspan></text>
<text x="270.94" y="334.60" font-size="6.9" text-anchor="middle"  xml:space="preserve"><tspan xml:space="preserve">150</tspan></text>
<text x="286.02" y="334.60" font-size="6.9" text-anchor="middle"  xml:space="preserve"><tspan xml:space="preserve">200</tspan></text>
<text x="301.10" y="334.60" font-size="6.9" text-anchor="middle"  xml:space="preserve"><tspan xml:space="preserve">250</tspan></text>
<text x="218.80" y="323.30" font-size="6.6" text-anchor="middle" transform="rotate(-90 218.80 323.30)"  xml:space="preserve"><tspan xml:space="preserve">10</tspan><tspan dy="-2.38" font-size="4.09" xml:space="preserve">0</tspan></text>
<text x="218.80" y="304.57" font-size="6.6" text-anchor="middle" transform="rotate(-90 218.80 304.57)"  xml:space="preserve"><tspan xml:space="preserve">10</tspan><tspan dy="-2.38" font-size="4.09" xml:space="preserve">1</tspan></text>
<text x="218.80" y="285.85" font-size="6.6" text-anchor="middle" transform="rotate(-90 218.80 285.85)"  xml:space="preserve"><tspan xml:space="preserve">10</tspan><tspan dy="-2.38" font-size="4.09" xml:space="preserve">2</tspan></text>
<text x="218.80" y="267.12" font-size="6.6" text-anchor="middle" transform="rotate(-90 218.80 267.12)"  xml:space="preserve"><tspan xml:space="preserve">10</tspan><tspan dy="-2.38" font-size="4.09" xml:space="preserve">3</tspan></text>
<text x="218.80" y="248.40" font-size="6.6" text-anchor="middle" transform="rotate(-90 218.80 248.40)"  xml:space="preserve"><tspan xml:space="preserve">10</tspan><tspan dy="-2.38" font-size="4.09" xml:space="preserve">4</tspan></text>
<text x="264.30" y="344.80" font-size="7.5" text-anchor="middle"  xml:space="preserve"><tspan xml:space="preserve">7AAD</tspan></text>
<text x="202.50" y="286.75" font-size="8.9" text-anchor="middle" transform="rotate(-90 202.50 286.75)"  xml:space="preserve"><tspan xml:space="preserve">anti-BrdU-FITC</tspan></text>
<text x="261.00" y="234.60" font-size="9.0" text-anchor="middle"  xml:space="preserve"><tspan xml:space="preserve">PBS</tspan></text>
<text x="222.40" y="235.00" font-size="21" text-anchor="start" font-weight="bold"  xml:space="preserve"><tspan xml:space="preserve">i</tspan></text>
<rect x="225.50" y="377.50" width="80.00" height="78.00" fill="none" stroke="#333" stroke-width="0.9"/>
<rect x="236.50" y="381.50" width="46.00" height="38.00" fill="none" stroke="#444" stroke-width="0.8"/>
<rect x="258.50" y="424.50" width="19.00" height="17.00" fill="none" stroke="#444" stroke-width="0.8"/>
<rect x="241.50" y="424.50" width="15.00" height="25.00" fill="none" stroke="#444" stroke-width="0.8"/>
<rect x="225.50" y="424.50" width="6.00" height="25.00" fill="none" stroke="#444" stroke-width="0.8"/>
<text x="225.70" y="465.60" font-size="6.9" text-anchor="middle"  xml:space="preserve"><tspan xml:space="preserve">0</tspan></text>
<text x="240.78" y="465.60" font-size="6.9" text-anchor="middle"  xml:space="preserve"><tspan xml:space="preserve">50</tspan></text>
<text x="255.86" y="465.60" font-size="6.9" text-anchor="middle"  xml:space="preserve"><tspan xml:space="preserve">100</tspan></text>
<text x="270.94" y="465.60" font-size="6.9" text-anchor="middle"  xml:space="preserve"><tspan xml:space="preserve">150</tspan></text>
<text x="286.02" y="465.60" font-size="6.9" text-anchor="middle"  xml:space="preserve"><tspan xml:space="preserve">200</tspan></text>
<text x="301.10" y="465.60" font-size="6.9" text-anchor="middle"  xml:space="preserve"><tspan xml:space="preserve">250</tspan></text>
<text x="218.80" y="454.30" font-size="6.6" text-anchor="middle" transform="rotate(-90 218.80 454.30)"  xml:space="preserve"><tspan xml:space="preserve">10</tspan><tspan dy="-2.38" font-size="4.09" xml:space="preserve">0</tspan></text>
<text x="218.80" y="435.38" font-size="6.6" text-anchor="middle" transform="rotate(-90 218.80 435.38)"  xml:space="preserve"><tspan xml:space="preserve">10</tspan><tspan dy="-2.38" font-size="4.09" xml:space="preserve">1</tspan></text>
<text x="218.80" y="416.45" font-size="6.6" text-anchor="middle" transform="rotate(-90 218.80 416.45)"  xml:space="preserve"><tspan xml:space="preserve">10</tspan><tspan dy="-2.38" font-size="4.09" xml:space="preserve">2</tspan></text>
<text x="218.80" y="397.52" font-size="6.6" text-anchor="middle" transform="rotate(-90 218.80 397.52)"  xml:space="preserve"><tspan xml:space="preserve">10</tspan><tspan dy="-2.38" font-size="4.09" xml:space="preserve">3</tspan></text>
<text x="218.80" y="378.60" font-size="6.6" text-anchor="middle" transform="rotate(-90 218.80 378.60)"  xml:space="preserve"><tspan xml:space="preserve">10</tspan><tspan dy="-2.38" font-size="4.09" xml:space="preserve">4</tspan></text>
<text x="264.30" y="475.80" font-size="7.5" text-anchor="middle"  xml:space="preserve"><tspan xml:space="preserve">7AAD</tspan></text>
<text x="202.50" y="418.95" font-size="8.9" text-anchor="middle" transform="rotate(-90 202.50 418.95)"  xml:space="preserve"><tspan xml:space="preserve">anti-BrdU-FITC</tspan></text>
<text x="261.00" y="370.30" font-size="9.0" text-anchor="middle"  xml:space="preserve"><tspan xml:space="preserve">EPO</tspan></text>
<text x="222.40" y="370.90" font-size="21" text-anchor="start" font-weight="bold"  xml:space="preserve"><tspan xml:space="preserve">ii</tspan></text>
<line x1="293.50" y1="271.50" x2="278.40" y2="271.50" stroke="#0a0a0a" stroke-width="0.8"/>
<path d="M276.90 271.50 l3.9 -2.1 v4.2 z" fill="#0a0a0a"/>
<text x="322.60" y="273.50" font-size="7.35" text-anchor="end"  xml:space="preserve"><tspan xml:space="preserve">S-phase</tspan></text>
<line x1="282.00" y1="301.50" x2="273.30" y2="301.50" stroke="#0a0a0a" stroke-width="0.8"/>
<path d="M271.80 301.50 l3.9 -2.1 v4.2 z" fill="#0a0a0a"/>
<text x="322.60" y="304.20" font-size="7.35" text-anchor="end"  xml:space="preserve"><tspan xml:space="preserve">G</tspan><tspan dy="1.62" font-size="4.56" xml:space="preserve">2</tspan><tspan dy="-1.62" xml:space="preserve">/M-phase</tspan></text>
<line x1="279.20" y1="313.50" x2="251.90" y2="313.50" stroke="#0a0a0a" stroke-width="0.8"/>
<path d="M250.40 313.50 l3.9 -2.1 v4.2 z" fill="#0a0a0a"/>
<text x="322.60" y="315.70" font-size="7.35" text-anchor="end"  xml:space="preserve"><tspan xml:space="preserve">G</tspan><tspan dy="1.62" font-size="4.56" xml:space="preserve">0</tspan><tspan dy="-1.62" xml:space="preserve">/G</tspan><tspan dy="1.62" font-size="4.56" xml:space="preserve">1</tspan><tspan dy="-1.62" xml:space="preserve">-phase</tspan></text>
<line x1="278.00" y1="321.50" x2="234.00" y2="321.50" stroke="#0a0a0a" stroke-width="0.8"/>
<ellipse cx="233.6" cy="321.4" rx="1.7" ry="1.5" fill="#0a0a0a"/>
<text x="310.40" y="323.50" font-size="7.35" text-anchor="end"  xml:space="preserve"><tspan xml:space="preserve">Apoptosis</tspan></text>
</svg>
</body></html>
